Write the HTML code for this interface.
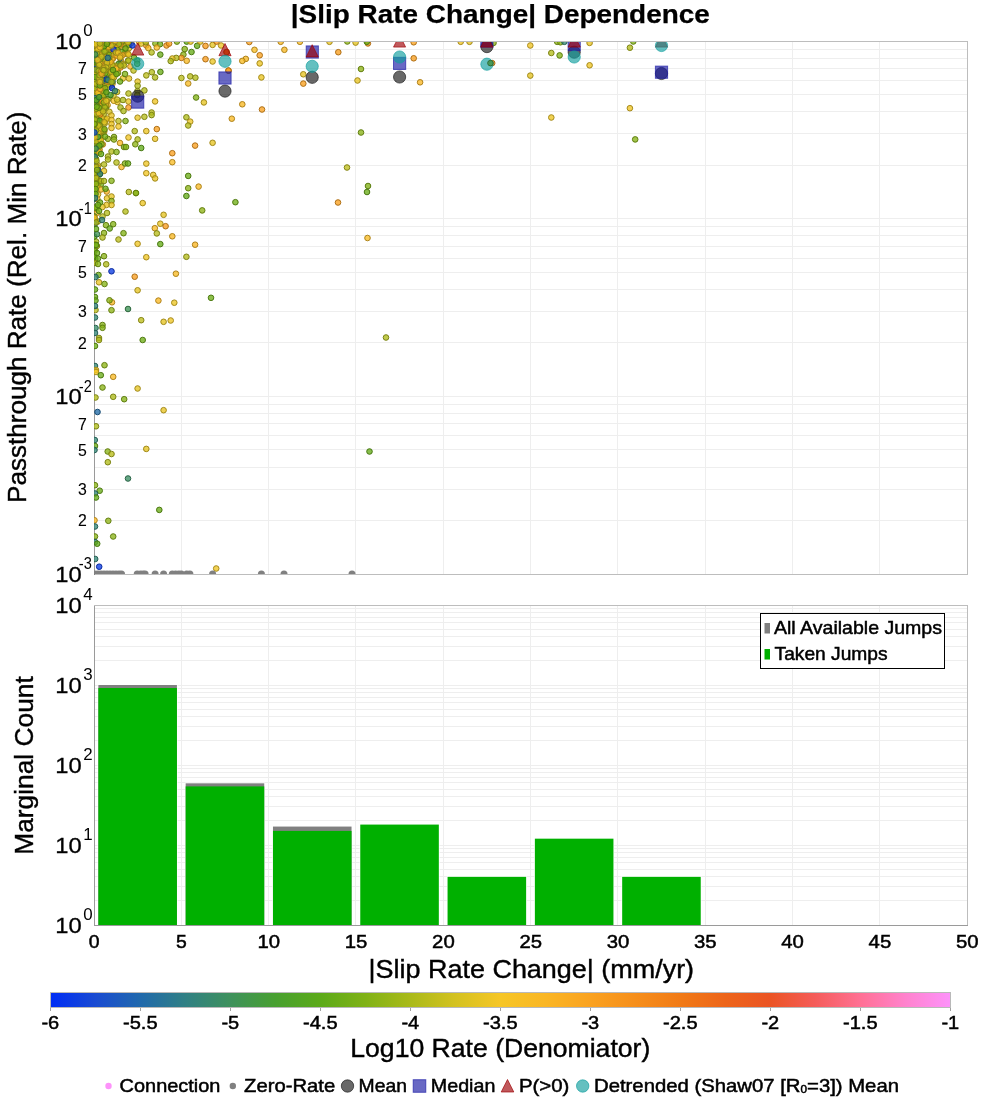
<!DOCTYPE html>
<html><head><meta charset="utf-8"><title>|Slip Rate Change| Dependence</title>
<style>html,body{margin:0;padding:0;background:#fff}svg{display:block;will-change:transform}text{font-family:"Liberation Sans", sans-serif;fill:#000;stroke:#000;stroke-width:0.4px}</style></head><body>
<svg width="1000" height="1100" viewBox="0 0 1000 1100">
<rect x="0" y="0" width="1000" height="1100" fill="#fff"/>
<path d="M181.5 41.5V574.5M181.5 605.5V925.5M268.5 41.5V574.5M268.5 605.5V925.5M355.5 41.5V574.5M355.5 605.5V925.5M443.5 41.5V574.5M443.5 605.5V925.5M530.5 41.5V574.5M530.5 605.5V925.5M617.5 41.5V574.5M617.5 605.5V925.5M705.5 41.5V574.5M705.5 605.5V925.5M792.5 41.5V574.5M792.5 605.5V925.5M879.5 41.5V574.5M879.5 605.5V925.5M94.5 218.5H967.5M94.5 165.5H967.5M94.5 133.5H967.5M94.5 111.5H967.5M94.5 94.5H967.5M94.5 80.5H967.5M94.5 68.5H967.5M94.5 58.5H967.5M94.5 49.5H967.5M94.5 396.5H967.5M94.5 342.5H967.5M94.5 311.5H967.5M94.5 289.5H967.5M94.5 272.5H967.5M94.5 258.5H967.5M94.5 246.5H967.5M94.5 235.5H967.5M94.5 226.5H967.5M94.5 520.5H967.5M94.5 489.5H967.5M94.5 467.5H967.5M94.5 449.5H967.5M94.5 435.5H967.5M94.5 423.5H967.5M94.5 413.5H967.5M94.5 404.5H967.5M94.5 900.5H967.5M94.5 886.5H967.5M94.5 876.5H967.5M94.5 869.5H967.5M94.5 862.5H967.5M94.5 857.5H967.5M94.5 852.5H967.5M94.5 848.5H967.5M94.5 845.5H967.5M94.5 820.5H967.5M94.5 806.5H967.5M94.5 796.5H967.5M94.5 789.5H967.5M94.5 782.5H967.5M94.5 777.5H967.5M94.5 772.5H967.5M94.5 768.5H967.5M94.5 765.5H967.5M94.5 740.5H967.5M94.5 726.5H967.5M94.5 716.5H967.5M94.5 709.5H967.5M94.5 702.5H967.5M94.5 697.5H967.5M94.5 692.5H967.5M94.5 688.5H967.5M94.5 685.5H967.5M94.5 660.5H967.5M94.5 646.5H967.5M94.5 636.5H967.5M94.5 629.5H967.5M94.5 622.5H967.5M94.5 617.5H967.5M94.5 612.5H967.5M94.5 608.5H967.5" stroke="#eeeeee" stroke-width="1" fill="none" shape-rendering="crispEdges"/>
<rect x="97.66" y="684.30" width="79.97" height="240.70" fill="#fff"/>
<rect x="98.36" y="685.00" width="78.57" height="240.00" fill="#808080"/>
<rect x="98.36" y="688.01" width="78.57" height="236.99" fill="#00b000"/>
<rect x="184.97" y="782.63" width="79.97" height="142.37" fill="#fff"/>
<rect x="185.67" y="783.33" width="78.57" height="141.67" fill="#808080"/>
<rect x="185.67" y="786.41" width="78.57" height="138.59" fill="#00b000"/>
<rect x="272.27" y="825.86" width="79.97" height="99.14" fill="#fff"/>
<rect x="272.97" y="826.56" width="78.57" height="98.44" fill="#808080"/>
<rect x="272.97" y="830.91" width="78.57" height="94.09" fill="#00b000"/>
<rect x="359.56" y="823.88" width="79.97" height="101.12" fill="#fff"/>
<rect x="360.26" y="824.58" width="78.57" height="100.42" fill="#00b000"/>
<rect x="446.87" y="876.14" width="79.97" height="48.86" fill="#fff"/>
<rect x="447.56" y="876.84" width="78.57" height="48.16" fill="#00b000"/>
<rect x="534.16" y="837.97" width="79.97" height="87.03" fill="#fff"/>
<rect x="534.87" y="838.67" width="78.57" height="86.33" fill="#00b000"/>
<rect x="621.47" y="876.14" width="79.97" height="48.86" fill="#fff"/>
<rect x="622.17" y="876.84" width="78.57" height="48.16" fill="#00b000"/>
<rect x="94.5" y="41.5" width="873.0" height="533.0" fill="none" stroke="#bdbdbd" shape-rendering="crispEdges"/>
<path d="M94.5 41.5V574.5" stroke="#9a9a9a" fill="none" shape-rendering="crispEdges"/>
<defs><clipPath id="ct"><rect x="94" y="41" width="874" height="534"/></clipPath></defs>
<g clip-path="url(#ct)">
<circle cx="99.3" cy="116.2" r="2.8" fill="#439848" fill-opacity="0.78" stroke="#2f6a32"/>
<circle cx="122.6" cy="41.9" r="2.8" fill="#9db718" fill-opacity="0.78" stroke="#6e8011"/>
<circle cx="96.4" cy="59.1" r="2.8" fill="#8db517" fill-opacity="0.78" stroke="#637e10"/>
<circle cx="96.8" cy="76.5" r="2.8" fill="#97b618" fill-opacity="0.78" stroke="#6a8011"/>
<circle cx="98.9" cy="46.5" r="2.8" fill="#bdbe1c" fill-opacity="0.78" stroke="#858514"/>
<circle cx="102.6" cy="84.7" r="2.8" fill="#a6b919" fill-opacity="0.78" stroke="#748211"/>
<circle cx="98.9" cy="41.9" r="2.8" fill="#f8bd25" fill-opacity="0.78" stroke="#ae851a"/>
<circle cx="94.5" cy="157.2" r="2.8" fill="#53a623" fill-opacity="0.78" stroke="#3a7418"/>
<circle cx="97.5" cy="57.1" r="2.8" fill="#3c8e63" fill-opacity="0.78" stroke="#2a6345"/>
<circle cx="99.8" cy="59.1" r="2.8" fill="#f8981d" fill-opacity="0.78" stroke="#ae6b14"/>
<circle cx="98.6" cy="87.0" r="2.8" fill="#74af17" fill-opacity="0.78" stroke="#517b10"/>
<circle cx="96.0" cy="64.4" r="2.8" fill="#64ac18" fill-opacity="0.78" stroke="#467811"/>
<circle cx="131.3" cy="43.0" r="2.8" fill="#f8bd25" fill-opacity="0.78" stroke="#ae841a"/>
<circle cx="95.9" cy="53.5" r="2.8" fill="#b2bb1a" fill-opacity="0.78" stroke="#7c8312"/>
<circle cx="101.5" cy="46.4" r="2.8" fill="#f7c226" fill-opacity="0.78" stroke="#ad881a"/>
<circle cx="108.5" cy="98.9" r="2.8" fill="#9ab718" fill-opacity="0.78" stroke="#6c8011"/>
<circle cx="96.3" cy="76.4" r="2.8" fill="#f8bc25" fill-opacity="0.78" stroke="#ae841a"/>
<circle cx="95.7" cy="127.9" r="2.8" fill="#8ab417" fill-opacity="0.78" stroke="#617e10"/>
<circle cx="103.9" cy="60.5" r="2.8" fill="#ddc322" fill-opacity="0.78" stroke="#9b8918"/>
<circle cx="96.8" cy="43.0" r="2.8" fill="#449b40" fill-opacity="0.78" stroke="#306c2d"/>
<circle cx="120.8" cy="60.1" r="2.8" fill="#f7c326" fill-opacity="0.78" stroke="#ad891a"/>
<circle cx="94.4" cy="116.0" r="2.8" fill="#c6bf1e" fill-opacity="0.78" stroke="#8a8615"/>
<circle cx="97.9" cy="50.6" r="2.8" fill="#fab624" fill-opacity="0.78" stroke="#af7f19"/>
<circle cx="97.8" cy="50.8" r="2.8" fill="#76b017" fill-opacity="0.78" stroke="#537b10"/>
<circle cx="97.2" cy="149.3" r="2.8" fill="#73af17" fill-opacity="0.78" stroke="#517b10"/>
<circle cx="109.4" cy="62.3" r="2.8" fill="#f7c326" fill-opacity="0.78" stroke="#ad891a"/>
<circle cx="97.2" cy="99.7" r="2.8" fill="#e7c423" fill-opacity="0.78" stroke="#a28919"/>
<circle cx="96.6" cy="92.9" r="2.8" fill="#77b017" fill-opacity="0.78" stroke="#537b10"/>
<circle cx="97.3" cy="54.2" r="2.8" fill="#cbc01e" fill-opacity="0.78" stroke="#8e8715"/>
<circle cx="124.1" cy="41.8" r="2.8" fill="#e4c423" fill-opacity="0.78" stroke="#9f8918"/>
<circle cx="96.0" cy="66.9" r="2.8" fill="#a6b919" fill-opacity="0.78" stroke="#748211"/>
<circle cx="104.0" cy="44.0" r="2.8" fill="#f8bf25" fill-opacity="0.78" stroke="#ad861a"/>
<circle cx="111.6" cy="73.3" r="2.8" fill="#b0bb1a" fill-opacity="0.78" stroke="#7b8312"/>
<circle cx="96.9" cy="143.7" r="2.8" fill="#a9ba19" fill-opacity="0.78" stroke="#768211"/>
<circle cx="97.8" cy="58.7" r="2.8" fill="#a1b818" fill-opacity="0.78" stroke="#718111"/>
<circle cx="97.9" cy="64.2" r="2.8" fill="#f7c225" fill-opacity="0.78" stroke="#ad881a"/>
<circle cx="103.5" cy="63.9" r="2.8" fill="#c1be1d" fill-opacity="0.78" stroke="#878514"/>
<circle cx="119.1" cy="44.2" r="2.8" fill="#f7c025" fill-opacity="0.78" stroke="#ad871a"/>
<circle cx="106.7" cy="191.6" r="2.8" fill="#fab223" fill-opacity="0.78" stroke="#af7d19"/>
<circle cx="102.9" cy="88.3" r="2.8" fill="#74af17" fill-opacity="0.78" stroke="#517b10"/>
<circle cx="116.3" cy="50.5" r="2.8" fill="#f6c626" fill-opacity="0.78" stroke="#ac8b1b"/>
<circle cx="124.0" cy="44.4" r="2.8" fill="#afbb1a" fill-opacity="0.78" stroke="#7a8312"/>
<circle cx="97.5" cy="171.0" r="2.8" fill="#eac524" fill-opacity="0.78" stroke="#a48a19"/>
<circle cx="97.1" cy="65.4" r="2.8" fill="#81b216" fill-opacity="0.78" stroke="#5b7d0f"/>
<circle cx="103.5" cy="58.6" r="2.8" fill="#fab824" fill-opacity="0.78" stroke="#af8119"/>
<circle cx="95.9" cy="56.9" r="2.8" fill="#dbc321" fill-opacity="0.78" stroke="#998817"/>
<circle cx="94.4" cy="172.5" r="2.8" fill="#94b617" fill-opacity="0.78" stroke="#687f10"/>
<circle cx="98.8" cy="89.3" r="2.8" fill="#faaa22" fill-opacity="0.78" stroke="#af7718"/>
<circle cx="120.7" cy="63.2" r="2.8" fill="#1a51cb" fill-opacity="0.78" stroke="#12398e"/>
<circle cx="99.8" cy="97.4" r="2.8" fill="#a5b919" fill-opacity="0.78" stroke="#748211"/>
<circle cx="99.8" cy="68.0" r="2.8" fill="#faac22" fill-opacity="0.78" stroke="#af7818"/>
<circle cx="100.8" cy="49.8" r="2.8" fill="#55a621" fill-opacity="0.78" stroke="#3b7517"/>
<circle cx="94.7" cy="110.8" r="2.8" fill="#49a12f" fill-opacity="0.78" stroke="#337021"/>
<circle cx="95.8" cy="87.0" r="2.8" fill="#70af17" fill-opacity="0.78" stroke="#4f7a10"/>
<circle cx="94.5" cy="113.7" r="2.8" fill="#9bb718" fill-opacity="0.78" stroke="#6c8011"/>
<circle cx="99.8" cy="87.8" r="2.8" fill="#d2c220" fill-opacity="0.78" stroke="#938716"/>
<circle cx="97.4" cy="53.0" r="2.8" fill="#b5bc1b" fill-opacity="0.78" stroke="#7f8413"/>
<circle cx="94.6" cy="156.7" r="2.8" fill="#99b718" fill-opacity="0.78" stroke="#6b8011"/>
<circle cx="94.6" cy="197.1" r="2.8" fill="#a6b919" fill-opacity="0.78" stroke="#748211"/>
<circle cx="117.5" cy="102.1" r="2.8" fill="#ecc524" fill-opacity="0.78" stroke="#a68a19"/>
<circle cx="100.5" cy="59.1" r="2.8" fill="#57a71f" fill-opacity="0.78" stroke="#3d7516"/>
<circle cx="98.3" cy="114.2" r="2.8" fill="#b8bd1b" fill-opacity="0.78" stroke="#818413"/>
<circle cx="97.8" cy="42.3" r="2.8" fill="#bebe1c" fill-opacity="0.78" stroke="#858514"/>
<circle cx="96.8" cy="48.7" r="2.8" fill="#dcc321" fill-opacity="0.78" stroke="#9a8817"/>
<circle cx="113.2" cy="41.1" r="2.8" fill="#56a720" fill-opacity="0.78" stroke="#3c7517"/>
<circle cx="97.0" cy="128.1" r="2.8" fill="#f6c426" fill-opacity="0.78" stroke="#ac891a"/>
<circle cx="105.4" cy="91.9" r="2.8" fill="#faa721" fill-opacity="0.78" stroke="#af7517"/>
<circle cx="97.1" cy="99.0" r="2.8" fill="#53a524" fill-opacity="0.78" stroke="#3a7419"/>
<circle cx="96.3" cy="81.7" r="2.8" fill="#dec322" fill-opacity="0.78" stroke="#9c8918"/>
<circle cx="99.0" cy="134.9" r="2.8" fill="#77b017" fill-opacity="0.78" stroke="#537b10"/>
<circle cx="94.8" cy="139.4" r="2.8" fill="#85b316" fill-opacity="0.78" stroke="#5d7d10"/>
<circle cx="94.4" cy="116.6" r="2.8" fill="#5aa91b" fill-opacity="0.78" stroke="#3f7613"/>
<circle cx="95.3" cy="102.0" r="2.8" fill="#9fb818" fill-opacity="0.78" stroke="#6f8111"/>
<circle cx="102.1" cy="105.3" r="2.8" fill="#f4c626" fill-opacity="0.78" stroke="#aa8a1a"/>
<circle cx="105.6" cy="101.0" r="2.8" fill="#fab424" fill-opacity="0.78" stroke="#af7e19"/>
<circle cx="99.3" cy="146.0" r="2.8" fill="#4fa328" fill-opacity="0.78" stroke="#37721c"/>
<circle cx="106.3" cy="83.5" r="2.8" fill="#9ab718" fill-opacity="0.78" stroke="#6c8011"/>
<circle cx="114.0" cy="51.1" r="2.8" fill="#edc524" fill-opacity="0.78" stroke="#a68a1a"/>
<circle cx="95.4" cy="84.8" r="2.8" fill="#a3b919" fill-opacity="0.78" stroke="#728111"/>
<circle cx="96.1" cy="62.9" r="2.8" fill="#eec525" fill-opacity="0.78" stroke="#a78a1a"/>
<circle cx="97.7" cy="57.9" r="2.8" fill="#99b718" fill-opacity="0.78" stroke="#6b8011"/>
<circle cx="98.0" cy="99.1" r="2.8" fill="#73af17" fill-opacity="0.78" stroke="#507b10"/>
<circle cx="100.8" cy="57.0" r="2.8" fill="#d2c220" fill-opacity="0.78" stroke="#938816"/>
<circle cx="96.0" cy="56.4" r="2.8" fill="#dbc321" fill-opacity="0.78" stroke="#998817"/>
<circle cx="96.1" cy="53.8" r="2.8" fill="#4fa328" fill-opacity="0.78" stroke="#37721c"/>
<circle cx="94.9" cy="117.6" r="2.8" fill="#d0c11f" fill-opacity="0.78" stroke="#928716"/>
<circle cx="101.6" cy="46.9" r="2.8" fill="#e9c424" fill-opacity="0.78" stroke="#a38a19"/>
<circle cx="95.6" cy="137.1" r="2.8" fill="#d9c321" fill-opacity="0.78" stroke="#988817"/>
<circle cx="100.0" cy="94.2" r="2.8" fill="#ddc322" fill-opacity="0.78" stroke="#9b8918"/>
<circle cx="97.1" cy="132.8" r="2.8" fill="#9bb718" fill-opacity="0.78" stroke="#6d8011"/>
<circle cx="94.5" cy="58.2" r="2.8" fill="#a6b919" fill-opacity="0.78" stroke="#748211"/>
<circle cx="94.3" cy="187.2" r="2.8" fill="#6eae18" fill-opacity="0.78" stroke="#4d7a10"/>
<circle cx="107.6" cy="80.0" r="2.8" fill="#a5b919" fill-opacity="0.78" stroke="#748211"/>
<circle cx="94.8" cy="84.3" r="2.8" fill="#3c8f61" fill-opacity="0.78" stroke="#2a6444"/>
<circle cx="94.4" cy="41.9" r="2.8" fill="#3d905e" fill-opacity="0.78" stroke="#2b6542"/>
<circle cx="114.2" cy="41.8" r="2.8" fill="#5ba91a" fill-opacity="0.78" stroke="#407712"/>
<circle cx="97.9" cy="84.3" r="2.8" fill="#8ab417" fill-opacity="0.78" stroke="#607e10"/>
<circle cx="100.9" cy="41.2" r="2.8" fill="#96b618" fill-opacity="0.78" stroke="#697f10"/>
<circle cx="100.2" cy="99.1" r="2.8" fill="#e9c424" fill-opacity="0.78" stroke="#a38a19"/>
<circle cx="96.3" cy="153.6" r="2.8" fill="#d9c321" fill-opacity="0.78" stroke="#988817"/>
<circle cx="95.9" cy="104.9" r="2.8" fill="#b7bc1b" fill-opacity="0.78" stroke="#808413"/>
<circle cx="108.1" cy="59.0" r="2.8" fill="#dfc322" fill-opacity="0.78" stroke="#9c8918"/>
<circle cx="104.3" cy="97.9" r="2.8" fill="#55a721" fill-opacity="0.78" stroke="#3c7517"/>
<circle cx="100.6" cy="96.8" r="2.8" fill="#d8c221" fill-opacity="0.78" stroke="#978817"/>
<circle cx="96.9" cy="65.7" r="2.8" fill="#bfbe1d" fill-opacity="0.78" stroke="#868514"/>
<circle cx="104.9" cy="43.3" r="2.8" fill="#dfc322" fill-opacity="0.78" stroke="#9c8918"/>
<circle cx="104.3" cy="46.2" r="2.8" fill="#faaa22" fill-opacity="0.78" stroke="#af7718"/>
<circle cx="97.8" cy="128.3" r="2.8" fill="#88b317" fill-opacity="0.78" stroke="#5f7e10"/>
<circle cx="95.2" cy="71.5" r="2.8" fill="#9eb818" fill-opacity="0.78" stroke="#6e8111"/>
<circle cx="97.0" cy="64.6" r="2.8" fill="#9db818" fill-opacity="0.78" stroke="#6e8011"/>
<circle cx="98.8" cy="101.6" r="2.8" fill="#f9bb25" fill-opacity="0.78" stroke="#ae831a"/>
<circle cx="117.8" cy="48.0" r="2.8" fill="#f7c025" fill-opacity="0.78" stroke="#ad871a"/>
<circle cx="94.5" cy="69.4" r="2.8" fill="#0b3ae6" fill-opacity="0.78" stroke="#0829a1"/>
<circle cx="118.8" cy="63.7" r="2.8" fill="#59a81d" fill-opacity="0.78" stroke="#3e7614"/>
<circle cx="95.1" cy="72.0" r="2.8" fill="#ddc322" fill-opacity="0.78" stroke="#9b8917"/>
<circle cx="96.5" cy="41.1" r="2.8" fill="#1445da" fill-opacity="0.78" stroke="#0e3098"/>
<circle cx="95.1" cy="85.7" r="2.8" fill="#b8bd1b" fill-opacity="0.78" stroke="#818413"/>
<circle cx="101.2" cy="42.7" r="2.8" fill="#e2c422" fill-opacity="0.78" stroke="#9e8918"/>
<circle cx="94.5" cy="185.3" r="2.8" fill="#1b52c9" fill-opacity="0.78" stroke="#13398d"/>
<circle cx="95.3" cy="69.1" r="2.8" fill="#8bb417" fill-opacity="0.78" stroke="#627e10"/>
<circle cx="104.3" cy="83.0" r="2.8" fill="#9bb718" fill-opacity="0.78" stroke="#6d8011"/>
<circle cx="96.6" cy="171.0" r="2.8" fill="#6dae18" fill-opacity="0.78" stroke="#4c7a11"/>
<circle cx="95.8" cy="82.3" r="2.8" fill="#59a91c" fill-opacity="0.78" stroke="#3e7614"/>
<circle cx="94.2" cy="52.9" r="2.8" fill="#a3b919" fill-opacity="0.78" stroke="#728111"/>
<circle cx="112.1" cy="54.8" r="2.8" fill="#eec525" fill-opacity="0.78" stroke="#a78a1a"/>
<circle cx="94.6" cy="54.2" r="2.8" fill="#439847" fill-opacity="0.78" stroke="#2f6a32"/>
<circle cx="99.0" cy="110.1" r="2.8" fill="#d3c220" fill-opacity="0.78" stroke="#948816"/>
<circle cx="94.4" cy="217.9" r="2.8" fill="#a9ba19" fill-opacity="0.78" stroke="#768211"/>
<circle cx="101.2" cy="134.0" r="2.8" fill="#9fb818" fill-opacity="0.78" stroke="#6f8111"/>
<circle cx="103.4" cy="120.2" r="2.8" fill="#fab824" fill-opacity="0.78" stroke="#af8119"/>
<circle cx="94.3" cy="135.5" r="2.8" fill="#cdc11f" fill-opacity="0.78" stroke="#8f8716"/>
<circle cx="100.7" cy="50.8" r="2.8" fill="#c3bf1d" fill-opacity="0.78" stroke="#888614"/>
<circle cx="96.0" cy="83.3" r="2.8" fill="#e3c423" fill-opacity="0.78" stroke="#9f8918"/>
<circle cx="94.7" cy="45.7" r="2.8" fill="#5fab19" fill-opacity="0.78" stroke="#427711"/>
<circle cx="109.5" cy="49.3" r="2.8" fill="#f9bb25" fill-opacity="0.78" stroke="#ae831a"/>
<circle cx="95.4" cy="159.7" r="2.8" fill="#439945" fill-opacity="0.78" stroke="#2f6b30"/>
<circle cx="98.9" cy="44.8" r="2.8" fill="#5aa91b" fill-opacity="0.78" stroke="#3f7613"/>
<circle cx="109.1" cy="84.2" r="2.8" fill="#f9bc25" fill-opacity="0.78" stroke="#ae841a"/>
<circle cx="109.0" cy="43.4" r="2.8" fill="#8bb417" fill-opacity="0.78" stroke="#627e10"/>
<circle cx="96.3" cy="54.0" r="2.8" fill="#56a720" fill-opacity="0.78" stroke="#3c7516"/>
<circle cx="95.0" cy="244.4" r="2.8" fill="#89b417" fill-opacity="0.78" stroke="#607e10"/>
<circle cx="99.4" cy="108.3" r="2.8" fill="#c3bf1d" fill-opacity="0.78" stroke="#898614"/>
<circle cx="95.8" cy="93.2" r="2.8" fill="#1141de" fill-opacity="0.78" stroke="#0c2e9b"/>
<circle cx="95.4" cy="120.2" r="2.8" fill="#59a81d" fill-opacity="0.78" stroke="#3e7614"/>
<circle cx="98.2" cy="70.3" r="2.8" fill="#4aa12e" fill-opacity="0.78" stroke="#337120"/>
<circle cx="101.9" cy="87.6" r="2.8" fill="#b7bc1b" fill-opacity="0.78" stroke="#808413"/>
<circle cx="100.3" cy="69.7" r="2.8" fill="#f9b924" fill-opacity="0.78" stroke="#af8119"/>
<circle cx="94.5" cy="88.6" r="2.8" fill="#77b017" fill-opacity="0.78" stroke="#547b10"/>
<circle cx="113.5" cy="95.7" r="2.8" fill="#d9c321" fill-opacity="0.78" stroke="#988817"/>
<circle cx="101.0" cy="42.5" r="2.8" fill="#faad22" fill-opacity="0.78" stroke="#af7918"/>
<circle cx="99.4" cy="83.2" r="2.8" fill="#f6c526" fill-opacity="0.78" stroke="#ac8a1b"/>
<circle cx="103.1" cy="63.1" r="2.8" fill="#7eb116" fill-opacity="0.78" stroke="#587c10"/>
<circle cx="98.7" cy="134.5" r="2.8" fill="#8cb417" fill-opacity="0.78" stroke="#627e10"/>
<circle cx="97.8" cy="43.3" r="2.8" fill="#86b316" fill-opacity="0.78" stroke="#5e7d10"/>
<circle cx="106.0" cy="51.8" r="2.8" fill="#9cb718" fill-opacity="0.78" stroke="#6d8011"/>
<circle cx="101.5" cy="43.6" r="2.8" fill="#9eb818" fill-opacity="0.78" stroke="#6f8111"/>
<circle cx="100.7" cy="86.3" r="2.8" fill="#318181" fill-opacity="0.78" stroke="#225b5a"/>
<circle cx="107.9" cy="138.8" r="2.8" fill="#9bb718" fill-opacity="0.78" stroke="#6c8011"/>
<circle cx="94.9" cy="79.5" r="2.8" fill="#75af17" fill-opacity="0.78" stroke="#527b10"/>
<circle cx="99.0" cy="100.4" r="2.8" fill="#398b6b" fill-opacity="0.78" stroke="#28614b"/>
<circle cx="95.3" cy="123.0" r="2.8" fill="#b0bb1a" fill-opacity="0.78" stroke="#7b8312"/>
<circle cx="96.3" cy="52.8" r="2.8" fill="#67ac18" fill-opacity="0.78" stroke="#487911"/>
<circle cx="94.3" cy="63.4" r="2.8" fill="#3f9357" fill-opacity="0.78" stroke="#2c673d"/>
<circle cx="97.0" cy="58.5" r="2.8" fill="#79b017" fill-opacity="0.78" stroke="#547b10"/>
<circle cx="98.5" cy="53.9" r="2.8" fill="#a8ba19" fill-opacity="0.78" stroke="#758211"/>
<circle cx="104.9" cy="48.1" r="2.8" fill="#d1c11f" fill-opacity="0.78" stroke="#928716"/>
<circle cx="95.6" cy="97.8" r="2.8" fill="#56a720" fill-opacity="0.78" stroke="#3c7517"/>
<circle cx="103.6" cy="46.6" r="2.8" fill="#f0c525" fill-opacity="0.78" stroke="#a88a1a"/>
<circle cx="100.7" cy="65.3" r="2.8" fill="#1444da" fill-opacity="0.78" stroke="#0e3098"/>
<circle cx="117.7" cy="69.3" r="2.8" fill="#eac524" fill-opacity="0.78" stroke="#a48a19"/>
<circle cx="100.3" cy="42.0" r="2.8" fill="#f8bc25" fill-opacity="0.78" stroke="#ae841a"/>
<circle cx="101.2" cy="45.3" r="2.8" fill="#7eb216" fill-opacity="0.78" stroke="#597c0f"/>
<circle cx="97.8" cy="83.6" r="2.8" fill="#92b517" fill-opacity="0.78" stroke="#667f10"/>
<circle cx="95.7" cy="120.5" r="2.8" fill="#d7c220" fill-opacity="0.78" stroke="#968817"/>
<circle cx="94.3" cy="224.0" r="2.8" fill="#abba19" fill-opacity="0.78" stroke="#788212"/>
<circle cx="95.3" cy="47.1" r="2.8" fill="#469d39" fill-opacity="0.78" stroke="#316e28"/>
<circle cx="97.8" cy="148.3" r="2.8" fill="#e0c322" fill-opacity="0.78" stroke="#9d8918"/>
<circle cx="100.1" cy="67.4" r="2.8" fill="#81b216" fill-opacity="0.78" stroke="#5b7d0f"/>
<circle cx="95.3" cy="114.3" r="2.8" fill="#acba19" fill-opacity="0.78" stroke="#798312"/>
<circle cx="99.3" cy="51.5" r="2.8" fill="#b2bc1a" fill-opacity="0.78" stroke="#7d8312"/>
<circle cx="98.0" cy="52.2" r="2.8" fill="#c2bf1d" fill-opacity="0.78" stroke="#888514"/>
<circle cx="94.8" cy="131.8" r="2.8" fill="#69ad18" fill-opacity="0.78" stroke="#4a7911"/>
<circle cx="99.2" cy="72.6" r="2.8" fill="#86b316" fill-opacity="0.78" stroke="#5e7d10"/>
<circle cx="97.7" cy="74.5" r="2.8" fill="#4da32a" fill-opacity="0.78" stroke="#36721d"/>
<circle cx="95.3" cy="73.9" r="2.8" fill="#56a720" fill-opacity="0.78" stroke="#3c7517"/>
<circle cx="96.3" cy="53.2" r="2.8" fill="#faa420" fill-opacity="0.78" stroke="#af7217"/>
<circle cx="95.7" cy="146.5" r="2.8" fill="#4da32a" fill-opacity="0.78" stroke="#36721d"/>
<circle cx="97.6" cy="58.0" r="2.8" fill="#70ae17" fill-opacity="0.78" stroke="#4e7a10"/>
<circle cx="97.7" cy="56.7" r="2.8" fill="#b9bd1b" fill-opacity="0.78" stroke="#818413"/>
<circle cx="101.8" cy="67.3" r="2.8" fill="#a8ba19" fill-opacity="0.78" stroke="#758211"/>
<circle cx="95.6" cy="62.1" r="2.8" fill="#d7c221" fill-opacity="0.78" stroke="#978817"/>
<circle cx="98.9" cy="64.0" r="2.8" fill="#75b017" fill-opacity="0.78" stroke="#527b10"/>
<circle cx="94.6" cy="71.5" r="2.8" fill="#7ab117" fill-opacity="0.78" stroke="#557c10"/>
<circle cx="94.4" cy="58.0" r="2.8" fill="#eec525" fill-opacity="0.78" stroke="#a78a1a"/>
<circle cx="105.1" cy="59.2" r="2.8" fill="#edc524" fill-opacity="0.78" stroke="#a68a19"/>
<circle cx="94.9" cy="135.6" r="2.8" fill="#68ad18" fill-opacity="0.78" stroke="#497911"/>
<circle cx="98.1" cy="165.4" r="2.8" fill="#cfc11f" fill-opacity="0.78" stroke="#918716"/>
<circle cx="115.0" cy="65.7" r="2.8" fill="#cdc11f" fill-opacity="0.78" stroke="#8f8716"/>
<circle cx="98.0" cy="41.8" r="2.8" fill="#b7bc1b" fill-opacity="0.78" stroke="#808413"/>
<circle cx="98.7" cy="57.9" r="2.8" fill="#449943" fill-opacity="0.78" stroke="#2f6b2f"/>
<circle cx="94.4" cy="53.2" r="2.8" fill="#479f33" fill-opacity="0.78" stroke="#326f24"/>
<circle cx="96.8" cy="52.4" r="2.8" fill="#64ac18" fill-opacity="0.78" stroke="#467811"/>
<circle cx="94.4" cy="60.0" r="2.8" fill="#6eae17" fill-opacity="0.78" stroke="#4d7a10"/>
<circle cx="107.6" cy="105.2" r="2.8" fill="#f7c426" fill-opacity="0.78" stroke="#ad891a"/>
<circle cx="112.9" cy="58.5" r="2.8" fill="#c3bf1d" fill-opacity="0.78" stroke="#888614"/>
<circle cx="95.3" cy="65.0" r="2.8" fill="#409454" fill-opacity="0.78" stroke="#2d673b"/>
<circle cx="98.0" cy="147.4" r="2.8" fill="#f9ba24" fill-opacity="0.78" stroke="#ae821a"/>
<circle cx="101.7" cy="104.4" r="2.8" fill="#faaa22" fill-opacity="0.78" stroke="#af7717"/>
<circle cx="96.2" cy="48.9" r="2.8" fill="#57a81e" fill-opacity="0.78" stroke="#3d7515"/>
<circle cx="100.3" cy="72.8" r="2.8" fill="#8cb417" fill-opacity="0.78" stroke="#627e10"/>
<circle cx="95.4" cy="92.3" r="2.8" fill="#f7c225" fill-opacity="0.78" stroke="#ad881a"/>
<circle cx="100.0" cy="72.7" r="2.8" fill="#c9c01e" fill-opacity="0.78" stroke="#8d8615"/>
<circle cx="95.3" cy="78.0" r="2.8" fill="#58a81e" fill-opacity="0.78" stroke="#3e7615"/>
<circle cx="94.4" cy="171.1" r="2.8" fill="#fab624" fill-opacity="0.78" stroke="#af7f19"/>
<circle cx="97.7" cy="68.3" r="2.8" fill="#f8bf25" fill-opacity="0.78" stroke="#ad851a"/>
<circle cx="94.3" cy="147.4" r="2.8" fill="#f8bf25" fill-opacity="0.78" stroke="#ad851a"/>
<circle cx="98.7" cy="92.9" r="2.8" fill="#c9c01e" fill-opacity="0.78" stroke="#8d8615"/>
<circle cx="94.7" cy="140.1" r="2.8" fill="#3c8e62" fill-opacity="0.78" stroke="#2a6445"/>
<circle cx="96.2" cy="67.4" r="2.8" fill="#52a524" fill-opacity="0.78" stroke="#3a7419"/>
<circle cx="96.1" cy="94.9" r="2.8" fill="#49a02f" fill-opacity="0.78" stroke="#337021"/>
<circle cx="96.8" cy="110.2" r="2.8" fill="#62ab19" fill-opacity="0.78" stroke="#447811"/>
<circle cx="97.5" cy="139.0" r="2.8" fill="#ddc322" fill-opacity="0.78" stroke="#9a8917"/>
<circle cx="97.4" cy="91.8" r="2.8" fill="#f7c125" fill-opacity="0.78" stroke="#ad871a"/>
<circle cx="107.6" cy="64.9" r="2.8" fill="#409452" fill-opacity="0.78" stroke="#2d683a"/>
<circle cx="100.3" cy="69.3" r="2.8" fill="#f7c125" fill-opacity="0.78" stroke="#ad871a"/>
<circle cx="138.8" cy="41.4" r="2.8" fill="#f7c125" fill-opacity="0.78" stroke="#ad871a"/>
<circle cx="104.1" cy="51.8" r="2.8" fill="#faaf23" fill-opacity="0.78" stroke="#af7b18"/>
<circle cx="110.7" cy="85.5" r="2.8" fill="#aebb1a" fill-opacity="0.78" stroke="#7a8312"/>
<circle cx="96.7" cy="73.7" r="2.8" fill="#bcbd1c" fill-opacity="0.78" stroke="#848514"/>
<circle cx="94.7" cy="100.6" r="2.8" fill="#33837c" fill-opacity="0.78" stroke="#245c57"/>
<circle cx="95.4" cy="65.5" r="2.8" fill="#98b618" fill-opacity="0.78" stroke="#6a8011"/>
<circle cx="97.6" cy="79.3" r="2.8" fill="#72af17" fill-opacity="0.78" stroke="#4f7a10"/>
<circle cx="97.7" cy="126.4" r="2.8" fill="#a2b818" fill-opacity="0.78" stroke="#718111"/>
<circle cx="95.3" cy="158.6" r="2.8" fill="#e7c423" fill-opacity="0.78" stroke="#a28919"/>
<circle cx="94.4" cy="90.1" r="2.8" fill="#f0c525" fill-opacity="0.78" stroke="#a88a1a"/>
<circle cx="94.3" cy="49.1" r="2.8" fill="#9eb818" fill-opacity="0.78" stroke="#6e8111"/>
<circle cx="94.3" cy="51.4" r="2.8" fill="#e4c423" fill-opacity="0.78" stroke="#a08918"/>
<circle cx="97.8" cy="66.8" r="2.8" fill="#51a525" fill-opacity="0.78" stroke="#39731a"/>
<circle cx="95.6" cy="99.3" r="2.8" fill="#78b017" fill-opacity="0.78" stroke="#547b10"/>
<circle cx="98.7" cy="69.3" r="2.8" fill="#3c8e62" fill-opacity="0.78" stroke="#2a6445"/>
<circle cx="94.8" cy="58.0" r="2.8" fill="#85b316" fill-opacity="0.78" stroke="#5d7d10"/>
<circle cx="100.2" cy="67.9" r="2.8" fill="#8ab417" fill-opacity="0.78" stroke="#607e10"/>
<circle cx="103.5" cy="41.4" r="2.8" fill="#92b517" fill-opacity="0.78" stroke="#667f10"/>
<circle cx="94.9" cy="107.2" r="2.8" fill="#afbb1a" fill-opacity="0.78" stroke="#7b8312"/>
<circle cx="126.2" cy="41.4" r="2.8" fill="#f2c625" fill-opacity="0.78" stroke="#a98a1a"/>
<circle cx="106.1" cy="106.3" r="2.8" fill="#f7921b" fill-opacity="0.78" stroke="#ad6613"/>
<circle cx="94.4" cy="86.2" r="2.8" fill="#9ab718" fill-opacity="0.78" stroke="#6c8011"/>
<circle cx="95.4" cy="208.7" r="2.8" fill="#9fb818" fill-opacity="0.78" stroke="#6f8111"/>
<circle cx="96.0" cy="158.9" r="2.8" fill="#9cb718" fill-opacity="0.78" stroke="#6d8011"/>
<circle cx="97.2" cy="212.7" r="2.8" fill="#fab524" fill-opacity="0.78" stroke="#af7f19"/>
<circle cx="103.5" cy="43.5" r="2.8" fill="#faae22" fill-opacity="0.78" stroke="#af7a18"/>
<circle cx="99.8" cy="45.9" r="2.8" fill="#4ea329" fill-opacity="0.78" stroke="#37721c"/>
<circle cx="96.6" cy="111.3" r="2.8" fill="#3f9355" fill-opacity="0.78" stroke="#2c673c"/>
<circle cx="98.4" cy="69.0" r="2.8" fill="#57a81f" fill-opacity="0.78" stroke="#3d7515"/>
<circle cx="97.5" cy="47.9" r="2.8" fill="#73af17" fill-opacity="0.78" stroke="#507b10"/>
<circle cx="102.4" cy="97.7" r="2.8" fill="#faad22" fill-opacity="0.78" stroke="#af7918"/>
<circle cx="96.9" cy="207.4" r="2.8" fill="#b3bc1b" fill-opacity="0.78" stroke="#7e8313"/>
<circle cx="113.7" cy="74.3" r="2.8" fill="#b4bc1b" fill-opacity="0.78" stroke="#7e8413"/>
<circle cx="109.1" cy="69.0" r="2.8" fill="#dfc322" fill-opacity="0.78" stroke="#9c8918"/>
<circle cx="118.0" cy="72.9" r="2.8" fill="#a4b919" fill-opacity="0.78" stroke="#738111"/>
<circle cx="101.6" cy="109.6" r="2.8" fill="#f8981d" fill-opacity="0.78" stroke="#ae6a14"/>
<circle cx="112.2" cy="48.0" r="2.8" fill="#f99c1e" fill-opacity="0.78" stroke="#ae6d15"/>
<circle cx="94.4" cy="114.1" r="2.8" fill="#c0be1d" fill-opacity="0.78" stroke="#868514"/>
<circle cx="99.8" cy="137.2" r="2.8" fill="#c2bf1d" fill-opacity="0.78" stroke="#888514"/>
<circle cx="98.2" cy="108.3" r="2.8" fill="#63ac18" fill-opacity="0.78" stroke="#457811"/>
<circle cx="95.4" cy="43.2" r="2.8" fill="#f6c526" fill-opacity="0.78" stroke="#ac8a1a"/>
<circle cx="120.4" cy="45.4" r="2.8" fill="#f6c626" fill-opacity="0.78" stroke="#ac8a1b"/>
<circle cx="98.1" cy="61.2" r="2.8" fill="#3f9259" fill-opacity="0.78" stroke="#2c663f"/>
<circle cx="97.4" cy="117.0" r="2.8" fill="#c9c01e" fill-opacity="0.78" stroke="#8d8615"/>
<circle cx="105.9" cy="55.7" r="2.8" fill="#a9ba19" fill-opacity="0.78" stroke="#768211"/>
<circle cx="97.9" cy="45.3" r="2.8" fill="#dbc321" fill-opacity="0.78" stroke="#998817"/>
<circle cx="97.4" cy="153.0" r="2.8" fill="#cec11f" fill-opacity="0.78" stroke="#908716"/>
<circle cx="95.6" cy="42.7" r="2.8" fill="#eac524" fill-opacity="0.78" stroke="#a48a19"/>
<circle cx="95.8" cy="103.6" r="2.8" fill="#d5c220" fill-opacity="0.78" stroke="#958817"/>
<circle cx="99.0" cy="41.1" r="2.8" fill="#d1c11f" fill-opacity="0.78" stroke="#928716"/>
<circle cx="100.0" cy="46.8" r="2.8" fill="#a0b818" fill-opacity="0.78" stroke="#708111"/>
<circle cx="96.8" cy="91.5" r="2.8" fill="#e3c423" fill-opacity="0.78" stroke="#9f8918"/>
<circle cx="100.6" cy="61.7" r="2.8" fill="#edc524" fill-opacity="0.78" stroke="#a68a19"/>
<circle cx="96.3" cy="79.1" r="2.8" fill="#a5b919" fill-opacity="0.78" stroke="#738211"/>
<circle cx="99.6" cy="174.2" r="2.8" fill="#6aad18" fill-opacity="0.78" stroke="#4a7911"/>
<circle cx="105.9" cy="108.3" r="2.8" fill="#79b117" fill-opacity="0.78" stroke="#557c10"/>
<circle cx="124.8" cy="53.3" r="2.8" fill="#57a81e" fill-opacity="0.78" stroke="#3d7515"/>
<circle cx="120.8" cy="42.5" r="2.8" fill="#f7921b" fill-opacity="0.78" stroke="#ad6613"/>
<circle cx="101.1" cy="56.1" r="2.8" fill="#f9b824" fill-opacity="0.78" stroke="#af8119"/>
<circle cx="94.4" cy="93.2" r="2.8" fill="#b8bd1b" fill-opacity="0.78" stroke="#818413"/>
<circle cx="97.0" cy="66.1" r="2.8" fill="#f3c625" fill-opacity="0.78" stroke="#aa8a1a"/>
<circle cx="96.2" cy="90.5" r="2.8" fill="#6eae17" fill-opacity="0.78" stroke="#4d7a10"/>
<circle cx="97.8" cy="41.2" r="2.8" fill="#7ab116" fill-opacity="0.78" stroke="#567c10"/>
<circle cx="99.6" cy="45.2" r="2.8" fill="#b4bc1b" fill-opacity="0.78" stroke="#7e8413"/>
<circle cx="94.7" cy="148.9" r="2.8" fill="#f9bb25" fill-opacity="0.78" stroke="#ae831a"/>
<circle cx="94.9" cy="83.1" r="2.8" fill="#76b017" fill-opacity="0.78" stroke="#527b10"/>
<circle cx="107.5" cy="55.5" r="2.8" fill="#b3bc1b" fill-opacity="0.78" stroke="#7d8313"/>
<circle cx="107.0" cy="101.2" r="2.8" fill="#f0c525" fill-opacity="0.78" stroke="#a88a1a"/>
<circle cx="94.4" cy="109.6" r="2.8" fill="#68ad18" fill-opacity="0.78" stroke="#497911"/>
<circle cx="94.5" cy="52.1" r="2.8" fill="#a1b818" fill-opacity="0.78" stroke="#718111"/>
<circle cx="99.4" cy="123.3" r="2.8" fill="#f8bf25" fill-opacity="0.78" stroke="#ad861a"/>
<circle cx="112.6" cy="65.4" r="2.8" fill="#c0be1d" fill-opacity="0.78" stroke="#868514"/>
<circle cx="113.6" cy="45.1" r="2.8" fill="#faa420" fill-opacity="0.78" stroke="#af7317"/>
<circle cx="96.6" cy="102.4" r="2.8" fill="#e4c423" fill-opacity="0.78" stroke="#9f8918"/>
<circle cx="96.8" cy="44.8" r="2.8" fill="#fab824" fill-opacity="0.78" stroke="#af8119"/>
<circle cx="98.0" cy="53.6" r="2.8" fill="#c4bf1d" fill-opacity="0.78" stroke="#898615"/>
<circle cx="96.2" cy="98.6" r="2.8" fill="#d2c220" fill-opacity="0.78" stroke="#938816"/>
<circle cx="95.4" cy="98.8" r="2.8" fill="#9fb818" fill-opacity="0.78" stroke="#708111"/>
<circle cx="94.8" cy="71.6" r="2.8" fill="#9fb818" fill-opacity="0.78" stroke="#6f8111"/>
<circle cx="99.5" cy="92.1" r="2.8" fill="#faad22" fill-opacity="0.78" stroke="#af7918"/>
<circle cx="97.4" cy="88.8" r="2.8" fill="#dec322" fill-opacity="0.78" stroke="#9b8918"/>
<circle cx="96.2" cy="142.2" r="2.8" fill="#5aa91b" fill-opacity="0.78" stroke="#3f7613"/>
<circle cx="129.1" cy="48.1" r="2.8" fill="#dbc321" fill-opacity="0.78" stroke="#998817"/>
<circle cx="94.3" cy="68.3" r="2.8" fill="#71af17" fill-opacity="0.78" stroke="#4f7a10"/>
<circle cx="95.1" cy="47.2" r="2.8" fill="#54a622" fill-opacity="0.78" stroke="#3b7418"/>
<circle cx="98.2" cy="184.0" r="2.8" fill="#f7c326" fill-opacity="0.78" stroke="#ad891a"/>
<circle cx="98.5" cy="68.4" r="2.8" fill="#62ab18" fill-opacity="0.78" stroke="#457811"/>
<circle cx="94.8" cy="75.8" r="2.8" fill="#49a02f" fill-opacity="0.78" stroke="#337021"/>
<circle cx="95.0" cy="69.3" r="2.8" fill="#cfc11f" fill-opacity="0.78" stroke="#918716"/>
<circle cx="96.4" cy="142.0" r="2.8" fill="#67ad18" fill-opacity="0.78" stroke="#487911"/>
<circle cx="95.7" cy="84.9" r="2.8" fill="#c3bf1d" fill-opacity="0.78" stroke="#898614"/>
<circle cx="104.0" cy="50.6" r="2.8" fill="#74af17" fill-opacity="0.78" stroke="#517b10"/>
<circle cx="95.8" cy="46.8" r="2.8" fill="#e9c524" fill-opacity="0.78" stroke="#a38a19"/>
<circle cx="96.5" cy="89.4" r="2.8" fill="#b4bc1b" fill-opacity="0.78" stroke="#7e8413"/>
<circle cx="130.4" cy="66.5" r="2.8" fill="#fab023" fill-opacity="0.78" stroke="#af7b18"/>
<circle cx="103.4" cy="132.1" r="2.8" fill="#f8bd25" fill-opacity="0.78" stroke="#ae841a"/>
<circle cx="96.3" cy="73.8" r="2.8" fill="#a7b919" fill-opacity="0.78" stroke="#758211"/>
<circle cx="94.5" cy="181.3" r="2.8" fill="#68ad18" fill-opacity="0.78" stroke="#497911"/>
<circle cx="96.5" cy="47.9" r="2.8" fill="#97b618" fill-opacity="0.78" stroke="#698011"/>
<circle cx="96.6" cy="51.8" r="2.8" fill="#3c8e63" fill-opacity="0.78" stroke="#2a6445"/>
<circle cx="94.9" cy="72.2" r="2.8" fill="#7eb216" fill-opacity="0.78" stroke="#587c10"/>
<circle cx="97.5" cy="116.7" r="2.8" fill="#88b317" fill-opacity="0.78" stroke="#5f7e10"/>
<circle cx="95.1" cy="46.1" r="2.8" fill="#49a12e" fill-opacity="0.78" stroke="#337021"/>
<circle cx="96.4" cy="120.4" r="2.8" fill="#f8bf25" fill-opacity="0.78" stroke="#ad861a"/>
<circle cx="123.1" cy="64.1" r="2.8" fill="#dec322" fill-opacity="0.78" stroke="#9b8918"/>
<circle cx="95.4" cy="42.0" r="2.8" fill="#4ca22b" fill-opacity="0.78" stroke="#35711e"/>
<circle cx="97.2" cy="142.6" r="2.8" fill="#3d905e" fill-opacity="0.78" stroke="#2b6542"/>
<circle cx="96.7" cy="100.2" r="2.8" fill="#9db818" fill-opacity="0.78" stroke="#6e8011"/>
<circle cx="101.2" cy="46.9" r="2.8" fill="#d0c11f" fill-opacity="0.78" stroke="#918716"/>
<circle cx="95.8" cy="144.1" r="2.8" fill="#79b017" fill-opacity="0.78" stroke="#547b10"/>
<circle cx="94.8" cy="89.6" r="2.8" fill="#59a91c" fill-opacity="0.78" stroke="#3e7614"/>
<circle cx="94.2" cy="216.4" r="2.8" fill="#6bad18" fill-opacity="0.78" stroke="#4b7911"/>
<circle cx="99.3" cy="43.5" r="2.8" fill="#cfc11f" fill-opacity="0.78" stroke="#918716"/>
<circle cx="102.8" cy="41.4" r="2.8" fill="#d2c220" fill-opacity="0.78" stroke="#938816"/>
<circle cx="101.1" cy="84.4" r="2.8" fill="#d9c321" fill-opacity="0.78" stroke="#988817"/>
<circle cx="96.2" cy="64.0" r="2.8" fill="#f7c125" fill-opacity="0.78" stroke="#ad871a"/>
<circle cx="108.4" cy="43.7" r="2.8" fill="#aebb1a" fill-opacity="0.78" stroke="#7a8312"/>
<circle cx="94.8" cy="68.4" r="2.8" fill="#c9c01e" fill-opacity="0.78" stroke="#8d8615"/>
<circle cx="95.6" cy="77.7" r="2.8" fill="#f6c526" fill-opacity="0.78" stroke="#ac8a1a"/>
<circle cx="102.6" cy="129.6" r="2.8" fill="#d9c321" fill-opacity="0.78" stroke="#988817"/>
<circle cx="94.4" cy="66.8" r="2.8" fill="#2f7f86" fill-opacity="0.78" stroke="#21595e"/>
<circle cx="94.3" cy="105.8" r="2.8" fill="#67ac18" fill-opacity="0.78" stroke="#487911"/>
<circle cx="96.0" cy="41.8" r="2.8" fill="#f2c525" fill-opacity="0.78" stroke="#a98a1a"/>
<circle cx="96.0" cy="241.5" r="2.8" fill="#b0bb1a" fill-opacity="0.78" stroke="#7b8312"/>
<circle cx="96.8" cy="98.0" r="2.8" fill="#efc525" fill-opacity="0.78" stroke="#a78a1a"/>
<circle cx="96.2" cy="138.9" r="2.8" fill="#acba19" fill-opacity="0.78" stroke="#798212"/>
<circle cx="94.7" cy="166.6" r="2.8" fill="#236da6" fill-opacity="0.78" stroke="#184c74"/>
<circle cx="100.6" cy="79.3" r="2.8" fill="#66ac18" fill-opacity="0.78" stroke="#477911"/>
<circle cx="94.3" cy="222.7" r="2.8" fill="#56a71f" fill-opacity="0.78" stroke="#3c7516"/>
<circle cx="110.5" cy="47.3" r="2.8" fill="#f8981d" fill-opacity="0.78" stroke="#ae6a14"/>
<circle cx="96.6" cy="121.2" r="2.8" fill="#a6b919" fill-opacity="0.78" stroke="#748211"/>
<circle cx="95.3" cy="51.8" r="2.8" fill="#f8bf25" fill-opacity="0.78" stroke="#ad861a"/>
<circle cx="95.2" cy="258.9" r="2.8" fill="#5aa91b" fill-opacity="0.78" stroke="#3f7613"/>
<circle cx="94.9" cy="78.6" r="2.8" fill="#cfc11f" fill-opacity="0.78" stroke="#918716"/>
<circle cx="98.0" cy="89.6" r="2.8" fill="#95b617" fill-opacity="0.78" stroke="#687f10"/>
<circle cx="96.0" cy="67.6" r="2.8" fill="#90b517" fill-opacity="0.78" stroke="#657f10"/>
<circle cx="95.0" cy="118.5" r="2.8" fill="#f8bf25" fill-opacity="0.78" stroke="#ad861a"/>
<circle cx="95.7" cy="150.4" r="2.8" fill="#e3c423" fill-opacity="0.78" stroke="#9f8918"/>
<circle cx="108.9" cy="41.3" r="2.8" fill="#fab524" fill-opacity="0.78" stroke="#af7f19"/>
<circle cx="94.2" cy="140.1" r="2.8" fill="#398b6b" fill-opacity="0.78" stroke="#28614b"/>
<circle cx="98.9" cy="83.8" r="2.8" fill="#c4bf1d" fill-opacity="0.78" stroke="#898615"/>
<circle cx="94.6" cy="60.8" r="2.8" fill="#bdbe1c" fill-opacity="0.78" stroke="#848514"/>
<circle cx="96.6" cy="113.0" r="2.8" fill="#c3bf1d" fill-opacity="0.78" stroke="#898614"/>
<circle cx="103.4" cy="47.4" r="2.8" fill="#96b618" fill-opacity="0.78" stroke="#698010"/>
<circle cx="98.6" cy="83.2" r="2.8" fill="#50a427" fill-opacity="0.78" stroke="#38731b"/>
<circle cx="94.3" cy="90.2" r="2.8" fill="#cac01e" fill-opacity="0.78" stroke="#8e8615"/>
<circle cx="101.7" cy="73.0" r="2.8" fill="#e4c423" fill-opacity="0.78" stroke="#a08918"/>
<circle cx="97.4" cy="53.8" r="2.8" fill="#d4c220" fill-opacity="0.78" stroke="#958816"/>
<circle cx="94.9" cy="60.4" r="2.8" fill="#e1c422" fill-opacity="0.78" stroke="#9e8918"/>
<circle cx="98.3" cy="56.2" r="2.8" fill="#d6c220" fill-opacity="0.78" stroke="#968817"/>
<circle cx="99.3" cy="112.4" r="2.8" fill="#96b618" fill-opacity="0.78" stroke="#697f10"/>
<circle cx="95.5" cy="82.0" r="2.8" fill="#9ab718" fill-opacity="0.78" stroke="#6c8011"/>
<circle cx="94.7" cy="41.5" r="2.8" fill="#f9b924" fill-opacity="0.78" stroke="#af8119"/>
<circle cx="103.1" cy="43.6" r="2.8" fill="#f9b924" fill-opacity="0.78" stroke="#af8119"/>
<circle cx="97.6" cy="43.4" r="2.8" fill="#4da32a" fill-opacity="0.78" stroke="#36721d"/>
<circle cx="99.6" cy="149.7" r="2.8" fill="#f8bd25" fill-opacity="0.78" stroke="#ae841a"/>
<circle cx="94.5" cy="135.8" r="2.8" fill="#a9ba19" fill-opacity="0.78" stroke="#768211"/>
<circle cx="94.3" cy="173.8" r="2.8" fill="#c6bf1e" fill-opacity="0.78" stroke="#8b8615"/>
<circle cx="99.0" cy="181.3" r="2.8" fill="#f7c426" fill-opacity="0.78" stroke="#ad891a"/>
<circle cx="98.5" cy="113.5" r="2.8" fill="#d2c220" fill-opacity="0.78" stroke="#938816"/>
<circle cx="98.5" cy="66.2" r="2.8" fill="#f8be25" fill-opacity="0.78" stroke="#ae851a"/>
<circle cx="95.3" cy="50.1" r="2.8" fill="#73af17" fill-opacity="0.78" stroke="#507b10"/>
<circle cx="99.4" cy="42.8" r="2.8" fill="#bebe1c" fill-opacity="0.78" stroke="#858514"/>
<circle cx="107.7" cy="66.7" r="2.8" fill="#cec11f" fill-opacity="0.78" stroke="#908716"/>
<circle cx="98.6" cy="56.6" r="2.8" fill="#bcbd1c" fill-opacity="0.78" stroke="#838514"/>
<circle cx="111.2" cy="48.7" r="2.8" fill="#fab624" fill-opacity="0.78" stroke="#af7f19"/>
<circle cx="97.1" cy="43.3" r="2.8" fill="#5aa91b" fill-opacity="0.78" stroke="#3f7613"/>
<circle cx="122.1" cy="41.6" r="2.8" fill="#90b517" fill-opacity="0.78" stroke="#657f10"/>
<circle cx="94.6" cy="87.5" r="2.8" fill="#c5bf1e" fill-opacity="0.78" stroke="#8a8615"/>
<circle cx="100.8" cy="184.5" r="2.8" fill="#79b017" fill-opacity="0.78" stroke="#557b10"/>
<circle cx="94.9" cy="120.4" r="2.8" fill="#f7c125" fill-opacity="0.78" stroke="#ad871a"/>
<circle cx="103.8" cy="54.8" r="2.8" fill="#cfc11f" fill-opacity="0.78" stroke="#918716"/>
<circle cx="94.7" cy="125.3" r="2.8" fill="#dac321" fill-opacity="0.78" stroke="#998817"/>
<circle cx="96.7" cy="49.0" r="2.8" fill="#e1c422" fill-opacity="0.78" stroke="#9e8918"/>
<circle cx="110.7" cy="47.3" r="2.8" fill="#b4bc1b" fill-opacity="0.78" stroke="#7e8413"/>
<circle cx="106.4" cy="66.9" r="2.8" fill="#f3c625" fill-opacity="0.78" stroke="#aa8a1a"/>
<circle cx="100.3" cy="96.6" r="2.8" fill="#cbc01e" fill-opacity="0.78" stroke="#8e8715"/>
<circle cx="95.1" cy="79.1" r="2.8" fill="#faa220" fill-opacity="0.78" stroke="#af7116"/>
<circle cx="96.2" cy="151.4" r="2.8" fill="#75b017" fill-opacity="0.78" stroke="#527b10"/>
<circle cx="97.6" cy="167.1" r="2.8" fill="#e8c423" fill-opacity="0.78" stroke="#a28919"/>
<circle cx="97.7" cy="116.6" r="2.8" fill="#71af17" fill-opacity="0.78" stroke="#4f7a10"/>
<circle cx="113.1" cy="43.9" r="2.8" fill="#f8961c" fill-opacity="0.78" stroke="#ad6914"/>
<circle cx="103.3" cy="77.3" r="2.8" fill="#e6c423" fill-opacity="0.78" stroke="#a18919"/>
<circle cx="96.4" cy="132.9" r="2.8" fill="#faa320" fill-opacity="0.78" stroke="#af7216"/>
<circle cx="99.9" cy="99.9" r="2.8" fill="#c4bf1d" fill-opacity="0.78" stroke="#898614"/>
<circle cx="100.3" cy="106.7" r="2.8" fill="#f7c326" fill-opacity="0.78" stroke="#ad891a"/>
<circle cx="96.1" cy="49.8" r="2.8" fill="#dbc321" fill-opacity="0.78" stroke="#998817"/>
<circle cx="95.0" cy="207.5" r="2.8" fill="#7ab117" fill-opacity="0.78" stroke="#557c10"/>
<circle cx="94.8" cy="249.7" r="2.8" fill="#dbc321" fill-opacity="0.78" stroke="#998817"/>
<circle cx="95.6" cy="143.5" r="2.8" fill="#a3b918" fill-opacity="0.78" stroke="#728111"/>
<circle cx="95.5" cy="64.9" r="2.8" fill="#68ad18" fill-opacity="0.78" stroke="#487911"/>
<circle cx="96.0" cy="46.3" r="2.8" fill="#8cb417" fill-opacity="0.78" stroke="#627e10"/>
<circle cx="105.1" cy="120.3" r="2.8" fill="#f7c326" fill-opacity="0.78" stroke="#ad891a"/>
<circle cx="94.2" cy="179.3" r="2.8" fill="#41964f" fill-opacity="0.78" stroke="#2e6937"/>
<circle cx="100.2" cy="79.1" r="2.8" fill="#dac321" fill-opacity="0.78" stroke="#998817"/>
<circle cx="96.0" cy="120.7" r="2.8" fill="#a4b919" fill-opacity="0.78" stroke="#728111"/>
<circle cx="102.2" cy="89.2" r="2.8" fill="#fab023" fill-opacity="0.78" stroke="#af7b18"/>
<circle cx="105.7" cy="119.4" r="2.8" fill="#b9bd1b" fill-opacity="0.78" stroke="#818413"/>
<circle cx="105.9" cy="46.7" r="2.8" fill="#c1be1d" fill-opacity="0.78" stroke="#878514"/>
<circle cx="94.5" cy="90.6" r="2.8" fill="#c9c01e" fill-opacity="0.78" stroke="#8d8615"/>
<circle cx="94.6" cy="149.0" r="2.8" fill="#cac01e" fill-opacity="0.78" stroke="#8e8715"/>
<circle cx="94.6" cy="46.5" r="2.8" fill="#71af17" fill-opacity="0.78" stroke="#4f7a10"/>
<circle cx="96.1" cy="60.6" r="2.8" fill="#77b017" fill-opacity="0.78" stroke="#537b10"/>
<circle cx="102.0" cy="62.4" r="2.8" fill="#f9ba25" fill-opacity="0.78" stroke="#ae821a"/>
<circle cx="94.7" cy="55.7" r="2.8" fill="#86b316" fill-opacity="0.78" stroke="#5e7d10"/>
<circle cx="94.8" cy="43.1" r="2.8" fill="#cbc01e" fill-opacity="0.78" stroke="#8e8715"/>
<circle cx="96.4" cy="89.6" r="2.8" fill="#ccc01f" fill-opacity="0.78" stroke="#8f8715"/>
<circle cx="95.2" cy="79.4" r="2.8" fill="#f8bd25" fill-opacity="0.78" stroke="#ae841a"/>
<circle cx="102.0" cy="112.2" r="2.8" fill="#e9c524" fill-opacity="0.78" stroke="#a38a19"/>
<circle cx="97.2" cy="42.4" r="2.8" fill="#fab023" fill-opacity="0.78" stroke="#af7b18"/>
<circle cx="97.1" cy="49.8" r="2.8" fill="#b3bc1b" fill-opacity="0.78" stroke="#7d8313"/>
<circle cx="94.5" cy="53.7" r="2.8" fill="#e7c423" fill-opacity="0.78" stroke="#a28919"/>
<circle cx="107.4" cy="72.6" r="2.8" fill="#f9bb25" fill-opacity="0.78" stroke="#ae831a"/>
<circle cx="97.5" cy="70.4" r="2.8" fill="#e4c423" fill-opacity="0.78" stroke="#a08918"/>
<circle cx="95.2" cy="102.6" r="2.8" fill="#58a81e" fill-opacity="0.78" stroke="#3d7515"/>
<circle cx="96.5" cy="113.1" r="2.8" fill="#8eb517" fill-opacity="0.78" stroke="#637e10"/>
<circle cx="98.2" cy="94.4" r="2.8" fill="#d7c221" fill-opacity="0.78" stroke="#978817"/>
<circle cx="99.9" cy="92.7" r="2.8" fill="#dfc322" fill-opacity="0.78" stroke="#9c8918"/>
<circle cx="94.6" cy="125.3" r="2.8" fill="#f6c626" fill-opacity="0.78" stroke="#ac8a1b"/>
<circle cx="99.7" cy="43.2" r="2.8" fill="#dec322" fill-opacity="0.78" stroke="#9b8918"/>
<circle cx="100.0" cy="73.2" r="2.8" fill="#f6c526" fill-opacity="0.78" stroke="#ac8a1a"/>
<circle cx="100.1" cy="122.5" r="2.8" fill="#aaba19" fill-opacity="0.78" stroke="#778212"/>
<circle cx="94.6" cy="49.7" r="2.8" fill="#a6b919" fill-opacity="0.78" stroke="#748211"/>
<circle cx="98.9" cy="43.0" r="2.8" fill="#9db818" fill-opacity="0.78" stroke="#6e8011"/>
<circle cx="100.8" cy="111.0" r="2.8" fill="#b7bc1b" fill-opacity="0.78" stroke="#808413"/>
<circle cx="94.6" cy="111.7" r="2.8" fill="#f6c626" fill-opacity="0.78" stroke="#ac8b1b"/>
<circle cx="94.8" cy="156.8" r="2.8" fill="#358775" fill-opacity="0.78" stroke="#255e52"/>
<circle cx="102.2" cy="63.7" r="2.8" fill="#f9b924" fill-opacity="0.78" stroke="#ae8219"/>
<circle cx="95.4" cy="114.9" r="2.8" fill="#f9bb25" fill-opacity="0.78" stroke="#ae831a"/>
<circle cx="95.1" cy="117.3" r="2.8" fill="#1c58c1" fill-opacity="0.78" stroke="#143e87"/>
<circle cx="111.0" cy="48.2" r="2.8" fill="#f6c626" fill-opacity="0.78" stroke="#ac8b1b"/>
<circle cx="94.8" cy="198.9" r="2.8" fill="#3a8c68" fill-opacity="0.78" stroke="#286249"/>
<circle cx="95.7" cy="136.0" r="2.8" fill="#dbc321" fill-opacity="0.78" stroke="#9a8817"/>
<circle cx="102.4" cy="59.1" r="2.8" fill="#fab624" fill-opacity="0.78" stroke="#af8019"/>
<circle cx="96.6" cy="101.8" r="2.8" fill="#babd1c" fill-opacity="0.78" stroke="#828413"/>
<circle cx="95.4" cy="93.1" r="2.8" fill="#6aad18" fill-opacity="0.78" stroke="#4a7911"/>
<circle cx="95.5" cy="144.0" r="2.8" fill="#3f9356" fill-opacity="0.78" stroke="#2c673c"/>
<circle cx="104.7" cy="123.5" r="2.8" fill="#d6c220" fill-opacity="0.78" stroke="#968817"/>
<circle cx="96.6" cy="170.3" r="2.8" fill="#82b216" fill-opacity="0.78" stroke="#5b7d0f"/>
<circle cx="98.2" cy="57.7" r="2.8" fill="#e0c322" fill-opacity="0.78" stroke="#9d8918"/>
<circle cx="94.6" cy="143.8" r="2.8" fill="#a6b919" fill-opacity="0.78" stroke="#748211"/>
<circle cx="96.7" cy="81.0" r="2.8" fill="#c6bf1e" fill-opacity="0.78" stroke="#8b8615"/>
<circle cx="99.6" cy="64.2" r="2.8" fill="#e2c422" fill-opacity="0.78" stroke="#9e8918"/>
<circle cx="94.2" cy="94.0" r="2.8" fill="#b5bc1b" fill-opacity="0.78" stroke="#7f8413"/>
<circle cx="117.1" cy="91.9" r="2.8" fill="#cbc01e" fill-opacity="0.78" stroke="#8e8715"/>
<circle cx="105.9" cy="52.4" r="2.8" fill="#faa01f" fill-opacity="0.78" stroke="#af7016"/>
<circle cx="97.7" cy="98.3" r="2.8" fill="#b8bd1b" fill-opacity="0.78" stroke="#818413"/>
<circle cx="98.1" cy="172.5" r="2.8" fill="#d9c321" fill-opacity="0.78" stroke="#988817"/>
<circle cx="96.9" cy="134.0" r="2.8" fill="#cbc01e" fill-opacity="0.78" stroke="#8e8715"/>
<circle cx="94.7" cy="71.3" r="2.8" fill="#d3c220" fill-opacity="0.78" stroke="#948816"/>
<circle cx="95.9" cy="91.0" r="2.8" fill="#e6c423" fill-opacity="0.78" stroke="#a18919"/>
<circle cx="95.9" cy="50.5" r="2.8" fill="#98b718" fill-opacity="0.78" stroke="#6a8011"/>
<circle cx="94.3" cy="68.9" r="2.8" fill="#9ab718" fill-opacity="0.78" stroke="#6c8011"/>
<circle cx="97.1" cy="78.6" r="2.8" fill="#6dae18" fill-opacity="0.78" stroke="#4d7a10"/>
<circle cx="102.5" cy="48.3" r="2.8" fill="#c5bf1e" fill-opacity="0.78" stroke="#8a8615"/>
<circle cx="104.0" cy="50.2" r="2.8" fill="#e2c422" fill-opacity="0.78" stroke="#9e8918"/>
<circle cx="94.5" cy="130.4" r="2.8" fill="#cfc11f" fill-opacity="0.78" stroke="#918716"/>
<circle cx="95.7" cy="49.0" r="2.8" fill="#96b618" fill-opacity="0.78" stroke="#697f10"/>
<circle cx="103.7" cy="51.9" r="2.8" fill="#87b317" fill-opacity="0.78" stroke="#5f7e10"/>
<circle cx="107.2" cy="118.6" r="2.8" fill="#efc525" fill-opacity="0.78" stroke="#a78a1a"/>
<circle cx="94.2" cy="217.5" r="2.8" fill="#b6bc1b" fill-opacity="0.78" stroke="#7f8413"/>
<circle cx="94.2" cy="41.9" r="2.8" fill="#72af17" fill-opacity="0.78" stroke="#507a10"/>
<circle cx="97.6" cy="127.9" r="2.8" fill="#95b617" fill-opacity="0.78" stroke="#687f10"/>
<circle cx="95.1" cy="85.1" r="2.8" fill="#aaba19" fill-opacity="0.78" stroke="#778212"/>
<circle cx="100.3" cy="106.5" r="2.8" fill="#e7c423" fill-opacity="0.78" stroke="#a28919"/>
<circle cx="95.5" cy="124.6" r="2.8" fill="#76b017" fill-opacity="0.78" stroke="#537b10"/>
<circle cx="104.3" cy="65.0" r="2.8" fill="#abba19" fill-opacity="0.78" stroke="#788212"/>
<circle cx="94.7" cy="145.7" r="2.8" fill="#58a81e" fill-opacity="0.78" stroke="#3d7615"/>
<circle cx="96.5" cy="135.6" r="2.8" fill="#7ab117" fill-opacity="0.78" stroke="#557c10"/>
<circle cx="100.7" cy="78.9" r="2.8" fill="#d6c220" fill-opacity="0.78" stroke="#968817"/>
<circle cx="109.8" cy="62.7" r="2.8" fill="#62ab19" fill-opacity="0.78" stroke="#447811"/>
<circle cx="98.3" cy="122.4" r="2.8" fill="#f8bd25" fill-opacity="0.78" stroke="#ae841a"/>
<circle cx="112.5" cy="41.2" r="2.8" fill="#e6c423" fill-opacity="0.78" stroke="#a18919"/>
<circle cx="97.0" cy="97.1" r="2.8" fill="#aebb1a" fill-opacity="0.78" stroke="#798312"/>
<circle cx="94.8" cy="79.3" r="2.8" fill="#25709f" fill-opacity="0.78" stroke="#1a4f70"/>
<circle cx="94.6" cy="250.8" r="2.8" fill="#63ac18" fill-opacity="0.78" stroke="#457811"/>
<circle cx="94.2" cy="86.9" r="2.8" fill="#9bb718" fill-opacity="0.78" stroke="#6d8011"/>
<circle cx="99.0" cy="143.3" r="2.8" fill="#e4c423" fill-opacity="0.78" stroke="#9f8918"/>
<circle cx="94.6" cy="146.6" r="2.8" fill="#7cb116" fill-opacity="0.78" stroke="#577c10"/>
<circle cx="96.9" cy="51.9" r="2.8" fill="#fab624" fill-opacity="0.78" stroke="#af7f19"/>
<circle cx="102.0" cy="44.1" r="2.8" fill="#f6c426" fill-opacity="0.78" stroke="#ac8a1a"/>
<circle cx="100.9" cy="44.3" r="2.8" fill="#5baa1a" fill-opacity="0.78" stroke="#407712"/>
<circle cx="97.3" cy="51.0" r="2.8" fill="#97b618" fill-opacity="0.78" stroke="#6a8011"/>
<circle cx="97.5" cy="61.1" r="2.8" fill="#b1bb1a" fill-opacity="0.78" stroke="#7c8312"/>
<circle cx="94.3" cy="80.8" r="2.8" fill="#4da22a" fill-opacity="0.78" stroke="#36721e"/>
<circle cx="94.6" cy="194.2" r="2.8" fill="#efc525" fill-opacity="0.78" stroke="#a88a1a"/>
<circle cx="99.2" cy="47.0" r="2.8" fill="#d1c220" fill-opacity="0.78" stroke="#938716"/>
<circle cx="96.3" cy="55.0" r="2.8" fill="#f6c526" fill-opacity="0.78" stroke="#ac8a1b"/>
<circle cx="94.7" cy="145.1" r="2.8" fill="#91b517" fill-opacity="0.78" stroke="#667f10"/>
<circle cx="95.6" cy="71.3" r="2.8" fill="#2f7e87" fill-opacity="0.78" stroke="#21585f"/>
<circle cx="97.7" cy="84.0" r="2.8" fill="#66ac18" fill-opacity="0.78" stroke="#487911"/>
<circle cx="111.8" cy="43.2" r="2.8" fill="#8ab417" fill-opacity="0.78" stroke="#617e10"/>
<circle cx="98.4" cy="93.1" r="2.8" fill="#84b316" fill-opacity="0.78" stroke="#5d7d10"/>
<circle cx="98.8" cy="75.2" r="2.8" fill="#edc524" fill-opacity="0.78" stroke="#a68a19"/>
<circle cx="94.4" cy="128.8" r="2.8" fill="#6cae18" fill-opacity="0.78" stroke="#4c7911"/>
<circle cx="95.9" cy="101.3" r="2.8" fill="#d5c220" fill-opacity="0.78" stroke="#958817"/>
<circle cx="102.6" cy="100.8" r="2.8" fill="#91b517" fill-opacity="0.78" stroke="#667f10"/>
<circle cx="101.3" cy="138.1" r="2.8" fill="#ddc322" fill-opacity="0.78" stroke="#9b8918"/>
<circle cx="95.6" cy="139.8" r="2.8" fill="#bebe1c" fill-opacity="0.78" stroke="#858514"/>
<circle cx="95.1" cy="113.9" r="2.8" fill="#bfbe1d" fill-opacity="0.78" stroke="#868514"/>
<circle cx="99.0" cy="44.6" r="2.8" fill="#efc525" fill-opacity="0.78" stroke="#a88a1a"/>
<circle cx="96.3" cy="89.8" r="2.8" fill="#f1c525" fill-opacity="0.78" stroke="#a98a1a"/>
<circle cx="94.4" cy="61.7" r="2.8" fill="#f8bc25" fill-opacity="0.78" stroke="#ae841a"/>
<circle cx="94.7" cy="43.3" r="2.8" fill="#a4b919" fill-opacity="0.78" stroke="#738111"/>
<circle cx="94.8" cy="183.5" r="2.8" fill="#b7bd1b" fill-opacity="0.78" stroke="#808413"/>
<circle cx="98.4" cy="57.8" r="2.8" fill="#2e7d8a" fill-opacity="0.78" stroke="#205760"/>
<circle cx="100.0" cy="57.2" r="2.8" fill="#48a031" fill-opacity="0.78" stroke="#327022"/>
<circle cx="97.7" cy="66.5" r="2.8" fill="#479e37" fill-opacity="0.78" stroke="#316e26"/>
<circle cx="99.7" cy="70.0" r="2.8" fill="#dfc322" fill-opacity="0.78" stroke="#9c8918"/>
<circle cx="99.5" cy="127.0" r="2.8" fill="#dcc321" fill-opacity="0.78" stroke="#9a8817"/>
<circle cx="98.3" cy="57.7" r="2.8" fill="#93b617" fill-opacity="0.78" stroke="#677f10"/>
<circle cx="106.8" cy="79.0" r="2.8" fill="#9bb718" fill-opacity="0.78" stroke="#6d8011"/>
<circle cx="94.9" cy="76.6" r="2.8" fill="#bbbd1c" fill-opacity="0.78" stroke="#838514"/>
<circle cx="95.4" cy="88.0" r="2.8" fill="#3c8f61" fill-opacity="0.78" stroke="#2a6444"/>
<circle cx="96.5" cy="71.6" r="2.8" fill="#c3bf1d" fill-opacity="0.78" stroke="#898614"/>
<circle cx="94.6" cy="67.7" r="2.8" fill="#83b316" fill-opacity="0.78" stroke="#5c7d10"/>
<circle cx="115.3" cy="44.3" r="2.8" fill="#51a426" fill-opacity="0.78" stroke="#38731b"/>
<circle cx="94.2" cy="255.7" r="2.8" fill="#d8c221" fill-opacity="0.78" stroke="#978817"/>
<circle cx="94.9" cy="64.0" r="2.8" fill="#d7c221" fill-opacity="0.78" stroke="#968817"/>
<circle cx="96.9" cy="73.1" r="2.8" fill="#f8be25" fill-opacity="0.78" stroke="#ae851a"/>
<circle cx="103.7" cy="80.6" r="2.8" fill="#439846" fill-opacity="0.78" stroke="#2f6b31"/>
<circle cx="102.8" cy="144.4" r="2.8" fill="#faae22" fill-opacity="0.78" stroke="#af7a18"/>
<circle cx="96.2" cy="42.7" r="2.8" fill="#e1c422" fill-opacity="0.78" stroke="#9e8918"/>
<circle cx="95.9" cy="55.7" r="2.8" fill="#42974b" fill-opacity="0.78" stroke="#2e6a35"/>
<circle cx="98.6" cy="70.2" r="2.8" fill="#fab223" fill-opacity="0.78" stroke="#af7c19"/>
<circle cx="96.7" cy="50.8" r="2.8" fill="#dec322" fill-opacity="0.78" stroke="#9b8918"/>
<circle cx="94.8" cy="51.8" r="2.8" fill="#f7921b" fill-opacity="0.78" stroke="#ad6613"/>
<circle cx="98.2" cy="43.5" r="2.8" fill="#f3c625" fill-opacity="0.78" stroke="#aa8a1a"/>
<circle cx="97.8" cy="62.2" r="2.8" fill="#bfbe1c" fill-opacity="0.78" stroke="#858514"/>
<circle cx="94.7" cy="50.9" r="2.8" fill="#93b617" fill-opacity="0.78" stroke="#677f10"/>
<circle cx="94.9" cy="102.0" r="2.8" fill="#adbb1a" fill-opacity="0.78" stroke="#798312"/>
<circle cx="95.8" cy="67.2" r="2.8" fill="#85b316" fill-opacity="0.78" stroke="#5d7d10"/>
<circle cx="94.8" cy="83.1" r="2.8" fill="#bdbe1c" fill-opacity="0.78" stroke="#858514"/>
<circle cx="94.5" cy="223.5" r="2.8" fill="#99b718" fill-opacity="0.78" stroke="#6b8011"/>
<circle cx="96.3" cy="115.2" r="2.8" fill="#378870" fill-opacity="0.78" stroke="#265f4f"/>
<circle cx="113.0" cy="43.8" r="2.8" fill="#b8bd1b" fill-opacity="0.78" stroke="#818413"/>
<circle cx="96.6" cy="87.3" r="2.8" fill="#b9bd1b" fill-opacity="0.78" stroke="#818413"/>
<circle cx="107.5" cy="74.4" r="2.8" fill="#93b617" fill-opacity="0.78" stroke="#677f10"/>
<circle cx="119.8" cy="44.3" r="2.8" fill="#faae22" fill-opacity="0.78" stroke="#af7a18"/>
<circle cx="97.4" cy="94.1" r="2.8" fill="#f6c426" fill-opacity="0.78" stroke="#ad891a"/>
<circle cx="96.4" cy="129.8" r="2.8" fill="#abba19" fill-opacity="0.78" stroke="#788212"/>
<circle cx="94.4" cy="122.6" r="2.8" fill="#f8be25" fill-opacity="0.78" stroke="#ae851a"/>
<circle cx="113.8" cy="100.8" r="2.8" fill="#f6c526" fill-opacity="0.78" stroke="#ac8a1b"/>
<circle cx="94.9" cy="81.4" r="2.8" fill="#89b417" fill-opacity="0.78" stroke="#607e10"/>
<circle cx="103.3" cy="98.5" r="2.8" fill="#76b017" fill-opacity="0.78" stroke="#537b10"/>
<circle cx="95.7" cy="81.3" r="2.8" fill="#cbc01f" fill-opacity="0.78" stroke="#8e8715"/>
<circle cx="95.1" cy="111.4" r="2.8" fill="#f5c626" fill-opacity="0.78" stroke="#ab8a1a"/>
<circle cx="94.2" cy="79.7" r="2.8" fill="#51a525" fill-opacity="0.78" stroke="#39731a"/>
<circle cx="108.6" cy="86.8" r="2.8" fill="#b2bc1a" fill-opacity="0.78" stroke="#7d8312"/>
<circle cx="120.1" cy="57.6" r="2.8" fill="#368774" fill-opacity="0.78" stroke="#255e51"/>
<circle cx="95.8" cy="173.5" r="2.8" fill="#1040df" fill-opacity="0.78" stroke="#0b2d9c"/>
<circle cx="96.0" cy="98.8" r="2.8" fill="#5ba91b" fill-opacity="0.78" stroke="#3f7613"/>
<circle cx="108.8" cy="41.6" r="2.8" fill="#79b017" fill-opacity="0.78" stroke="#557b10"/>
<circle cx="105.9" cy="105.5" r="2.8" fill="#dac321" fill-opacity="0.78" stroke="#998817"/>
<circle cx="101.2" cy="129.7" r="2.8" fill="#f7c125" fill-opacity="0.78" stroke="#ad871a"/>
<circle cx="110.3" cy="71.3" r="2.8" fill="#fab624" fill-opacity="0.78" stroke="#af7f19"/>
<circle cx="94.8" cy="45.1" r="2.8" fill="#409453" fill-opacity="0.78" stroke="#2d683a"/>
<circle cx="95.1" cy="76.3" r="2.8" fill="#8eb517" fill-opacity="0.78" stroke="#647f10"/>
<circle cx="109.5" cy="67.1" r="2.8" fill="#acba19" fill-opacity="0.78" stroke="#798312"/>
<circle cx="96.0" cy="86.9" r="2.8" fill="#8bb417" fill-opacity="0.78" stroke="#617e10"/>
<circle cx="110.5" cy="66.7" r="2.8" fill="#e8c424" fill-opacity="0.78" stroke="#a38919"/>
<circle cx="95.1" cy="139.4" r="2.8" fill="#8eb517" fill-opacity="0.78" stroke="#637e10"/>
<circle cx="129.2" cy="41.8" r="2.8" fill="#a6b919" fill-opacity="0.78" stroke="#748211"/>
<circle cx="104.3" cy="131.5" r="2.8" fill="#e8c424" fill-opacity="0.78" stroke="#a28919"/>
<circle cx="96.2" cy="128.3" r="2.8" fill="#b9bd1b" fill-opacity="0.78" stroke="#818413"/>
<circle cx="105.0" cy="58.2" r="2.8" fill="#c3bf1d" fill-opacity="0.78" stroke="#888614"/>
<circle cx="95.0" cy="145.4" r="2.8" fill="#efc525" fill-opacity="0.78" stroke="#a78a1a"/>
<circle cx="96.8" cy="44.4" r="2.8" fill="#8fb517" fill-opacity="0.78" stroke="#647f10"/>
<circle cx="95.2" cy="148.8" r="2.8" fill="#56a720" fill-opacity="0.78" stroke="#3c7516"/>
<circle cx="95.6" cy="64.6" r="2.8" fill="#d9c321" fill-opacity="0.78" stroke="#988817"/>
<circle cx="94.9" cy="53.7" r="2.8" fill="#7ab116" fill-opacity="0.78" stroke="#557c10"/>
<circle cx="107.5" cy="52.6" r="2.8" fill="#d1c120" fill-opacity="0.78" stroke="#928716"/>
<circle cx="97.9" cy="221.5" r="2.8" fill="#c7bf1e" fill-opacity="0.78" stroke="#8b8615"/>
<circle cx="98.1" cy="91.1" r="2.8" fill="#58a81d" fill-opacity="0.78" stroke="#3e7615"/>
<circle cx="99.2" cy="147.1" r="2.8" fill="#e0c322" fill-opacity="0.78" stroke="#9d8918"/>
<circle cx="95.4" cy="57.6" r="2.8" fill="#3d905e" fill-opacity="0.78" stroke="#2b6542"/>
<circle cx="118.8" cy="44.1" r="2.8" fill="#9bb718" fill-opacity="0.78" stroke="#6d8011"/>
<circle cx="97.7" cy="137.9" r="2.8" fill="#afbb1a" fill-opacity="0.78" stroke="#7b8312"/>
<circle cx="107.6" cy="43.2" r="2.8" fill="#bcbd1c" fill-opacity="0.78" stroke="#848514"/>
<circle cx="95.1" cy="41.0" r="2.8" fill="#f9ba25" fill-opacity="0.78" stroke="#ae821a"/>
<circle cx="101.2" cy="86.7" r="2.8" fill="#cdc11f" fill-opacity="0.78" stroke="#908716"/>
<circle cx="99.3" cy="78.0" r="2.8" fill="#9eb818" fill-opacity="0.78" stroke="#6f8111"/>
<circle cx="96.9" cy="50.8" r="2.8" fill="#33837d" fill-opacity="0.78" stroke="#235c57"/>
<circle cx="96.0" cy="139.6" r="2.8" fill="#f6c426" fill-opacity="0.78" stroke="#ad891a"/>
<circle cx="108.8" cy="43.4" r="2.8" fill="#d4c220" fill-opacity="0.78" stroke="#958816"/>
<circle cx="97.7" cy="65.4" r="2.8" fill="#2d7b8c" fill-opacity="0.78" stroke="#1f5662"/>
<circle cx="95.6" cy="182.1" r="2.8" fill="#64ac18" fill-opacity="0.78" stroke="#467811"/>
<circle cx="96.4" cy="99.7" r="2.8" fill="#93b617" fill-opacity="0.78" stroke="#677f10"/>
<circle cx="94.2" cy="60.5" r="2.8" fill="#50a427" fill-opacity="0.78" stroke="#38731b"/>
<circle cx="94.6" cy="100.3" r="2.8" fill="#8db417" fill-opacity="0.78" stroke="#627e10"/>
<circle cx="98.4" cy="85.5" r="2.8" fill="#348579" fill-opacity="0.78" stroke="#245d55"/>
<circle cx="99.6" cy="108.3" r="2.8" fill="#85b316" fill-opacity="0.78" stroke="#5d7d10"/>
<circle cx="100.6" cy="98.9" r="2.8" fill="#ebc524" fill-opacity="0.78" stroke="#a48a19"/>
<circle cx="94.5" cy="140.7" r="2.8" fill="#8eb517" fill-opacity="0.78" stroke="#637e10"/>
<circle cx="116.3" cy="48.2" r="2.8" fill="#fab624" fill-opacity="0.78" stroke="#af7f19"/>
<circle cx="95.5" cy="106.3" r="2.8" fill="#abba19" fill-opacity="0.78" stroke="#788212"/>
<circle cx="105.2" cy="46.3" r="2.8" fill="#7eb116" fill-opacity="0.78" stroke="#587c10"/>
<circle cx="94.7" cy="93.5" r="2.8" fill="#4ca22b" fill-opacity="0.78" stroke="#35711e"/>
<circle cx="95.0" cy="51.4" r="2.8" fill="#e6c423" fill-opacity="0.78" stroke="#a18919"/>
<circle cx="96.4" cy="148.3" r="2.8" fill="#7fb216" fill-opacity="0.78" stroke="#597c0f"/>
<circle cx="95.4" cy="44.0" r="2.8" fill="#48a030" fill-opacity="0.78" stroke="#327022"/>
<circle cx="94.4" cy="77.5" r="2.8" fill="#9fb818" fill-opacity="0.78" stroke="#6f8111"/>
<circle cx="112.5" cy="83.7" r="2.8" fill="#f7c125" fill-opacity="0.78" stroke="#ad871a"/>
<circle cx="97.4" cy="82.9" r="2.8" fill="#faac22" fill-opacity="0.78" stroke="#af7918"/>
<circle cx="100.3" cy="50.6" r="2.8" fill="#479f34" fill-opacity="0.78" stroke="#326f24"/>
<circle cx="103.5" cy="41.3" r="2.8" fill="#f7c326" fill-opacity="0.78" stroke="#ad881a"/>
<circle cx="111.1" cy="43.5" r="2.8" fill="#9db718" fill-opacity="0.78" stroke="#6e8011"/>
<circle cx="95.0" cy="70.6" r="2.8" fill="#dac321" fill-opacity="0.78" stroke="#998817"/>
<circle cx="103.7" cy="114.2" r="2.8" fill="#bbbd1c" fill-opacity="0.78" stroke="#838413"/>
<circle cx="94.6" cy="65.2" r="2.8" fill="#87b316" fill-opacity="0.78" stroke="#5e7e10"/>
<circle cx="99.3" cy="70.3" r="2.8" fill="#72af17" fill-opacity="0.78" stroke="#507a10"/>
<circle cx="120.5" cy="67.5" r="2.8" fill="#faa01f" fill-opacity="0.78" stroke="#af7016"/>
<circle cx="106.8" cy="71.4" r="2.8" fill="#faaa22" fill-opacity="0.78" stroke="#af7717"/>
<circle cx="96.5" cy="178.5" r="2.8" fill="#e7c423" fill-opacity="0.78" stroke="#a28919"/>
<circle cx="109.9" cy="63.3" r="2.8" fill="#f8bd25" fill-opacity="0.78" stroke="#ae851a"/>
<circle cx="97.3" cy="198.8" r="2.8" fill="#fab724" fill-opacity="0.78" stroke="#af8019"/>
<circle cx="109.3" cy="53.1" r="2.8" fill="#bdbe1c" fill-opacity="0.78" stroke="#848514"/>
<circle cx="99.2" cy="77.2" r="2.8" fill="#83b316" fill-opacity="0.78" stroke="#5c7d10"/>
<circle cx="94.3" cy="54.5" r="2.8" fill="#dec322" fill-opacity="0.78" stroke="#9c8918"/>
<circle cx="98.3" cy="44.3" r="2.8" fill="#dac321" fill-opacity="0.78" stroke="#988817"/>
<circle cx="101.8" cy="62.8" r="2.8" fill="#f8bf25" fill-opacity="0.78" stroke="#ad861a"/>
<circle cx="94.4" cy="48.1" r="2.8" fill="#c4bf1d" fill-opacity="0.78" stroke="#898614"/>
<circle cx="99.6" cy="59.7" r="2.8" fill="#bcbd1c" fill-opacity="0.78" stroke="#848514"/>
<circle cx="96.4" cy="133.8" r="2.8" fill="#b8bd1b" fill-opacity="0.78" stroke="#818413"/>
<circle cx="107.0" cy="74.9" r="2.8" fill="#f4c626" fill-opacity="0.78" stroke="#ab8a1a"/>
<circle cx="124.8" cy="48.6" r="2.8" fill="#faa220" fill-opacity="0.78" stroke="#af7116"/>
<circle cx="102.3" cy="100.7" r="2.8" fill="#f7921b" fill-opacity="0.78" stroke="#ad6613"/>
<circle cx="117.4" cy="50.0" r="2.8" fill="#84b316" fill-opacity="0.78" stroke="#5d7d10"/>
<circle cx="110.0" cy="49.9" r="2.8" fill="#41964f" fill-opacity="0.78" stroke="#2e6937"/>
<circle cx="97.0" cy="119.1" r="2.8" fill="#82b216" fill-opacity="0.78" stroke="#5b7d10"/>
<circle cx="121.9" cy="52.0" r="2.8" fill="#6cae18" fill-opacity="0.78" stroke="#4c7911"/>
<circle cx="105.7" cy="56.2" r="2.8" fill="#97b618" fill-opacity="0.78" stroke="#6a8011"/>
<circle cx="94.5" cy="178.1" r="2.8" fill="#58a81e" fill-opacity="0.78" stroke="#3e7615"/>
<circle cx="107.9" cy="74.0" r="2.8" fill="#e9c424" fill-opacity="0.78" stroke="#a38919"/>
<circle cx="109.4" cy="54.7" r="2.8" fill="#c4bf1d" fill-opacity="0.78" stroke="#898615"/>
<circle cx="110.7" cy="56.0" r="2.8" fill="#f7c125" fill-opacity="0.78" stroke="#ad871a"/>
<circle cx="96.1" cy="118.3" r="2.8" fill="#6dae18" fill-opacity="0.78" stroke="#4c7a11"/>
<circle cx="97.0" cy="50.9" r="2.8" fill="#5caa19" fill-opacity="0.78" stroke="#407712"/>
<circle cx="95.3" cy="110.5" r="2.8" fill="#012ef4" fill-opacity="0.78" stroke="#0120ab"/>
<circle cx="97.3" cy="52.9" r="2.8" fill="#6fae17" fill-opacity="0.78" stroke="#4e7a10"/>
<circle cx="94.9" cy="220.5" r="2.8" fill="#bbbd1c" fill-opacity="0.78" stroke="#838413"/>
<circle cx="96.0" cy="105.2" r="2.8" fill="#5eab19" fill-opacity="0.78" stroke="#427711"/>
<circle cx="94.5" cy="56.9" r="2.8" fill="#c6bf1e" fill-opacity="0.78" stroke="#8b8615"/>
<circle cx="99.5" cy="48.6" r="2.8" fill="#93b617" fill-opacity="0.78" stroke="#677f10"/>
<circle cx="96.1" cy="78.0" r="2.8" fill="#7fb216" fill-opacity="0.78" stroke="#597c0f"/>
<circle cx="96.1" cy="41.0" r="2.8" fill="#eac524" fill-opacity="0.78" stroke="#a48a19"/>
<circle cx="95.9" cy="90.7" r="2.8" fill="#ebc524" fill-opacity="0.78" stroke="#a48a19"/>
<circle cx="97.3" cy="123.1" r="2.8" fill="#92b517" fill-opacity="0.78" stroke="#667f10"/>
<circle cx="122.9" cy="78.4" r="2.8" fill="#edc524" fill-opacity="0.78" stroke="#a68a19"/>
<circle cx="100.0" cy="68.0" r="2.8" fill="#fab323" fill-opacity="0.78" stroke="#af7d19"/>
<circle cx="95.4" cy="134.2" r="2.8" fill="#80b216" fill-opacity="0.78" stroke="#5a7d0f"/>
<circle cx="96.0" cy="59.3" r="2.8" fill="#3d8f60" fill-opacity="0.78" stroke="#2a6443"/>
<circle cx="98.3" cy="116.5" r="2.8" fill="#faae22" fill-opacity="0.78" stroke="#af7a18"/>
<circle cx="97.7" cy="96.6" r="2.8" fill="#439945" fill-opacity="0.78" stroke="#2f6b30"/>
<circle cx="96.6" cy="47.5" r="2.8" fill="#62ab19" fill-opacity="0.78" stroke="#447811"/>
<circle cx="96.8" cy="99.2" r="2.8" fill="#6fae17" fill-opacity="0.78" stroke="#4d7a10"/>
<circle cx="94.9" cy="74.8" r="2.8" fill="#8cb417" fill-opacity="0.78" stroke="#627e10"/>
<circle cx="96.9" cy="104.1" r="2.8" fill="#d8c321" fill-opacity="0.78" stroke="#988817"/>
<circle cx="94.4" cy="120.3" r="2.8" fill="#439946" fill-opacity="0.78" stroke="#2f6b31"/>
<circle cx="98.5" cy="47.1" r="2.8" fill="#98b718" fill-opacity="0.78" stroke="#6a8011"/>
<circle cx="95.2" cy="143.9" r="2.8" fill="#4da22b" fill-opacity="0.78" stroke="#36721e"/>
<circle cx="107.7" cy="81.7" r="2.8" fill="#faaf23" fill-opacity="0.78" stroke="#af7b18"/>
<circle cx="95.3" cy="148.3" r="2.8" fill="#c6bf1e" fill-opacity="0.78" stroke="#8b8615"/>
<circle cx="95.4" cy="79.1" r="2.8" fill="#63ab18" fill-opacity="0.78" stroke="#457811"/>
<circle cx="112.4" cy="65.3" r="2.8" fill="#babd1c" fill-opacity="0.78" stroke="#838413"/>
<circle cx="106.0" cy="46.1" r="2.8" fill="#e4c423" fill-opacity="0.78" stroke="#a08918"/>
<circle cx="99.1" cy="72.3" r="2.8" fill="#91b517" fill-opacity="0.78" stroke="#667f10"/>
<circle cx="95.5" cy="103.6" r="2.8" fill="#98b718" fill-opacity="0.78" stroke="#6a8011"/>
<circle cx="100.3" cy="46.7" r="2.8" fill="#78b017" fill-opacity="0.78" stroke="#547b10"/>
<circle cx="99.1" cy="142.4" r="2.8" fill="#8ab417" fill-opacity="0.78" stroke="#607e10"/>
<circle cx="105.0" cy="62.1" r="2.8" fill="#bebe1c" fill-opacity="0.78" stroke="#858514"/>
<circle cx="104.7" cy="107.2" r="2.8" fill="#a7b919" fill-opacity="0.78" stroke="#758211"/>
<circle cx="99.7" cy="59.6" r="2.8" fill="#fab524" fill-opacity="0.78" stroke="#af7f19"/>
<circle cx="95.9" cy="60.3" r="2.8" fill="#8db417" fill-opacity="0.78" stroke="#637e10"/>
<circle cx="101.7" cy="117.8" r="2.8" fill="#e4c423" fill-opacity="0.78" stroke="#a08918"/>
<circle cx="94.5" cy="48.1" r="2.8" fill="#5aa91b" fill-opacity="0.78" stroke="#3f7613"/>
<circle cx="99.8" cy="43.6" r="2.8" fill="#7bb116" fill-opacity="0.78" stroke="#567c10"/>
<circle cx="97.3" cy="53.1" r="2.8" fill="#dbc321" fill-opacity="0.78" stroke="#998817"/>
<circle cx="94.5" cy="42.2" r="2.8" fill="#75b017" fill-opacity="0.78" stroke="#527b10"/>
<circle cx="100.2" cy="44.5" r="2.8" fill="#eac524" fill-opacity="0.78" stroke="#a48a19"/>
<circle cx="94.4" cy="47.5" r="2.8" fill="#96b618" fill-opacity="0.78" stroke="#698010"/>
<circle cx="95.4" cy="95.9" r="2.8" fill="#b9bd1c" fill-opacity="0.78" stroke="#828413"/>
<circle cx="111.7" cy="55.3" r="2.8" fill="#2f7e87" fill-opacity="0.78" stroke="#21585f"/>
<circle cx="102.1" cy="73.0" r="2.8" fill="#b7bc1b" fill-opacity="0.78" stroke="#808413"/>
<circle cx="108.2" cy="53.1" r="2.8" fill="#faa521" fill-opacity="0.78" stroke="#af7317"/>
<circle cx="95.8" cy="114.9" r="2.8" fill="#89b417" fill-opacity="0.78" stroke="#607e10"/>
<circle cx="99.9" cy="66.3" r="2.8" fill="#439847" fill-opacity="0.78" stroke="#2f6b32"/>
<circle cx="111.6" cy="51.0" r="2.8" fill="#d7c220" fill-opacity="0.78" stroke="#968817"/>
<circle cx="94.7" cy="56.9" r="2.8" fill="#9cb718" fill-opacity="0.78" stroke="#6d8011"/>
<circle cx="94.8" cy="75.8" r="2.8" fill="#78b017" fill-opacity="0.78" stroke="#547b10"/>
<circle cx="108.9" cy="42.7" r="2.8" fill="#4fa328" fill-opacity="0.78" stroke="#37721c"/>
<circle cx="102.9" cy="46.4" r="2.8" fill="#a1b818" fill-opacity="0.78" stroke="#708111"/>
<circle cx="95.7" cy="96.6" r="2.8" fill="#e2c423" fill-opacity="0.78" stroke="#9e8918"/>
<circle cx="95.5" cy="117.6" r="2.8" fill="#c4bf1d" fill-opacity="0.78" stroke="#898615"/>
<circle cx="96.2" cy="43.2" r="2.8" fill="#f6c626" fill-opacity="0.78" stroke="#ac8b1b"/>
<circle cx="95.1" cy="117.6" r="2.8" fill="#91b517" fill-opacity="0.78" stroke="#667f10"/>
<circle cx="97.3" cy="128.1" r="2.8" fill="#e3c423" fill-opacity="0.78" stroke="#9f8918"/>
<circle cx="95.0" cy="68.5" r="2.8" fill="#cdc11f" fill-opacity="0.78" stroke="#908716"/>
<circle cx="103.4" cy="91.2" r="2.8" fill="#e6c423" fill-opacity="0.78" stroke="#a18919"/>
<circle cx="106.7" cy="42.1" r="2.8" fill="#fab824" fill-opacity="0.78" stroke="#af8019"/>
<circle cx="109.7" cy="45.8" r="2.8" fill="#f7c326" fill-opacity="0.78" stroke="#ad881a"/>
<circle cx="95.2" cy="127.7" r="2.8" fill="#a5b919" fill-opacity="0.78" stroke="#748211"/>
<circle cx="104.1" cy="130.3" r="2.8" fill="#b9bd1b" fill-opacity="0.78" stroke="#818413"/>
<circle cx="95.4" cy="169.4" r="2.8" fill="#479e35" fill-opacity="0.78" stroke="#326f25"/>
<circle cx="97.4" cy="54.5" r="2.8" fill="#a4b919" fill-opacity="0.78" stroke="#738111"/>
<circle cx="105.0" cy="136.6" r="2.8" fill="#78b017" fill-opacity="0.78" stroke="#547b10"/>
<circle cx="94.7" cy="173.4" r="2.8" fill="#fab724" fill-opacity="0.78" stroke="#af8019"/>
<circle cx="98.3" cy="80.6" r="2.8" fill="#1b55c5" fill-opacity="0.78" stroke="#133c8a"/>
<circle cx="100.5" cy="84.2" r="2.8" fill="#faa420" fill-opacity="0.78" stroke="#af7317"/>
<circle cx="96.9" cy="127.7" r="2.8" fill="#b8bd1b" fill-opacity="0.78" stroke="#818413"/>
<circle cx="97.0" cy="79.5" r="2.8" fill="#e0c322" fill-opacity="0.78" stroke="#9d8918"/>
<circle cx="105.2" cy="56.8" r="2.8" fill="#faa721" fill-opacity="0.78" stroke="#af7517"/>
<circle cx="96.4" cy="76.4" r="2.8" fill="#c7bf1e" fill-opacity="0.78" stroke="#8b8615"/>
<circle cx="108.7" cy="43.2" r="2.8" fill="#fab223" fill-opacity="0.78" stroke="#af7c19"/>
<circle cx="100.0" cy="114.5" r="2.8" fill="#f8971d" fill-opacity="0.78" stroke="#ad6a14"/>
<circle cx="104.4" cy="67.2" r="2.8" fill="#f7921b" fill-opacity="0.78" stroke="#ad6613"/>
<circle cx="95.4" cy="63.9" r="2.8" fill="#90b517" fill-opacity="0.78" stroke="#657f10"/>
<circle cx="98.5" cy="58.6" r="2.8" fill="#e8c423" fill-opacity="0.78" stroke="#a28919"/>
<circle cx="94.6" cy="73.3" r="2.8" fill="#89b417" fill-opacity="0.78" stroke="#607e10"/>
<circle cx="109.1" cy="81.2" r="2.8" fill="#d8c221" fill-opacity="0.78" stroke="#978817"/>
<circle cx="97.0" cy="43.7" r="2.8" fill="#54a622" fill-opacity="0.78" stroke="#3b7418"/>
<circle cx="97.7" cy="84.2" r="2.8" fill="#d9c321" fill-opacity="0.78" stroke="#988817"/>
<circle cx="111.0" cy="42.0" r="2.8" fill="#efc525" fill-opacity="0.78" stroke="#a78a1a"/>
<circle cx="94.3" cy="41.8" r="2.8" fill="#faa621" fill-opacity="0.78" stroke="#af7417"/>
<circle cx="108.2" cy="41.2" r="2.8" fill="#fab223" fill-opacity="0.78" stroke="#af7d19"/>
<circle cx="96.4" cy="78.0" r="2.8" fill="#85b316" fill-opacity="0.78" stroke="#5d7d10"/>
<circle cx="96.9" cy="110.1" r="2.8" fill="#f8c025" fill-opacity="0.78" stroke="#ad861a"/>
<circle cx="95.2" cy="112.5" r="2.8" fill="#79b117" fill-opacity="0.78" stroke="#557c10"/>
<circle cx="96.8" cy="49.0" r="2.8" fill="#68ad18" fill-opacity="0.78" stroke="#497911"/>
<circle cx="96.0" cy="123.7" r="2.8" fill="#5ba91b" fill-opacity="0.78" stroke="#3f7713"/>
<circle cx="96.4" cy="94.0" r="2.8" fill="#f7c025" fill-opacity="0.78" stroke="#ad871a"/>
<circle cx="98.8" cy="81.2" r="2.8" fill="#f7c025" fill-opacity="0.78" stroke="#ad871a"/>
<circle cx="96.6" cy="180.6" r="2.8" fill="#82b216" fill-opacity="0.78" stroke="#5b7d10"/>
<circle cx="97.9" cy="175.7" r="2.8" fill="#cac01e" fill-opacity="0.78" stroke="#8d8615"/>
<circle cx="98.1" cy="170.1" r="2.8" fill="#1b56c5" fill-opacity="0.78" stroke="#133c8a"/>
<circle cx="104.0" cy="102.4" r="2.8" fill="#94b617" fill-opacity="0.78" stroke="#687f10"/>
<circle cx="96.4" cy="71.2" r="2.8" fill="#bbbd1c" fill-opacity="0.78" stroke="#838413"/>
<circle cx="105.0" cy="88.2" r="2.8" fill="#95b617" fill-opacity="0.78" stroke="#687f10"/>
<circle cx="110.5" cy="95.1" r="2.8" fill="#48a030" fill-opacity="0.78" stroke="#337021"/>
<circle cx="95.3" cy="102.8" r="2.8" fill="#dcc321" fill-opacity="0.78" stroke="#9a8817"/>
<circle cx="95.8" cy="120.5" r="2.8" fill="#62ab18" fill-opacity="0.78" stroke="#457811"/>
<circle cx="94.3" cy="192.6" r="2.8" fill="#abba19" fill-opacity="0.78" stroke="#788212"/>
<circle cx="105.4" cy="73.3" r="2.8" fill="#64ac18" fill-opacity="0.78" stroke="#467811"/>
<circle cx="100.2" cy="61.2" r="2.8" fill="#9cb718" fill-opacity="0.78" stroke="#6d8011"/>
<circle cx="101.0" cy="61.8" r="2.8" fill="#d0c11f" fill-opacity="0.78" stroke="#928716"/>
<circle cx="98.8" cy="54.4" r="2.8" fill="#c6bf1e" fill-opacity="0.78" stroke="#8a8615"/>
<circle cx="96.4" cy="118.5" r="2.8" fill="#97b618" fill-opacity="0.78" stroke="#6a8011"/>
<circle cx="94.4" cy="108.3" r="2.8" fill="#abba19" fill-opacity="0.78" stroke="#788212"/>
<circle cx="113.1" cy="50.8" r="2.8" fill="#f7c125" fill-opacity="0.78" stroke="#ad871a"/>
<circle cx="94.2" cy="236.6" r="2.8" fill="#5daa19" fill-opacity="0.78" stroke="#417711"/>
<circle cx="99.6" cy="65.7" r="2.8" fill="#d5c220" fill-opacity="0.78" stroke="#958816"/>
<circle cx="95.1" cy="70.7" r="2.8" fill="#8fb517" fill-opacity="0.78" stroke="#647f10"/>
<circle cx="109.3" cy="54.9" r="2.8" fill="#7cb116" fill-opacity="0.78" stroke="#577c10"/>
<circle cx="97.5" cy="66.5" r="2.8" fill="#9cb718" fill-opacity="0.78" stroke="#6d8011"/>
<circle cx="94.6" cy="42.7" r="2.8" fill="#84b316" fill-opacity="0.78" stroke="#5d7d10"/>
<circle cx="106.9" cy="45.3" r="2.8" fill="#e8c423" fill-opacity="0.78" stroke="#a28919"/>
<circle cx="126.3" cy="54.0" r="2.8" fill="#dec322" fill-opacity="0.78" stroke="#9b8918"/>
<circle cx="98.1" cy="141.5" r="2.8" fill="#cec11f" fill-opacity="0.78" stroke="#908716"/>
<circle cx="101.4" cy="130.8" r="2.8" fill="#bdbe1c" fill-opacity="0.78" stroke="#848514"/>
<circle cx="111.9" cy="75.4" r="2.8" fill="#d4c220" fill-opacity="0.78" stroke="#948816"/>
<circle cx="108.1" cy="41.1" r="2.8" fill="#e7c423" fill-opacity="0.78" stroke="#a28919"/>
<circle cx="95.9" cy="168.0" r="2.8" fill="#b3bc1a" fill-opacity="0.78" stroke="#7d8313"/>
<circle cx="99.4" cy="92.8" r="2.8" fill="#c6bf1e" fill-opacity="0.78" stroke="#8b8615"/>
<circle cx="94.4" cy="42.0" r="2.8" fill="#c3bf1d" fill-opacity="0.78" stroke="#888514"/>
<circle cx="100.3" cy="48.7" r="2.8" fill="#90b517" fill-opacity="0.78" stroke="#657f10"/>
<circle cx="97.2" cy="136.0" r="2.8" fill="#70ae17" fill-opacity="0.78" stroke="#4e7a10"/>
<circle cx="117.1" cy="99.6" r="2.8" fill="#d2c220" fill-opacity="0.78" stroke="#938816"/>
<circle cx="96.8" cy="42.4" r="2.8" fill="#7bb116" fill-opacity="0.78" stroke="#567c10"/>
<circle cx="103.6" cy="46.9" r="2.8" fill="#a1b818" fill-opacity="0.78" stroke="#718111"/>
<circle cx="98.9" cy="138.9" r="2.8" fill="#b3bc1b" fill-opacity="0.78" stroke="#7d8313"/>
<circle cx="95.6" cy="137.5" r="2.8" fill="#a4b919" fill-opacity="0.78" stroke="#738111"/>
<circle cx="95.8" cy="108.1" r="2.8" fill="#adbb19" fill-opacity="0.78" stroke="#798312"/>
<circle cx="98.0" cy="67.0" r="2.8" fill="#c8c01e" fill-opacity="0.78" stroke="#8c8615"/>
<circle cx="96.4" cy="105.0" r="2.8" fill="#8eb517" fill-opacity="0.78" stroke="#637e10"/>
<circle cx="95.3" cy="102.6" r="2.8" fill="#80b216" fill-opacity="0.78" stroke="#5a7d0f"/>
<circle cx="113.2" cy="50.0" r="2.8" fill="#f7c225" fill-opacity="0.78" stroke="#ad871a"/>
<circle cx="96.2" cy="120.1" r="2.8" fill="#f7c025" fill-opacity="0.78" stroke="#ad861a"/>
<circle cx="110.1" cy="41.2" r="2.8" fill="#8db417" fill-opacity="0.78" stroke="#637e10"/>
<circle cx="95.2" cy="137.1" r="2.8" fill="#378871" fill-opacity="0.78" stroke="#265f4f"/>
<circle cx="95.4" cy="70.4" r="2.8" fill="#babd1c" fill-opacity="0.78" stroke="#828413"/>
<circle cx="94.3" cy="181.2" r="2.8" fill="#6cae18" fill-opacity="0.78" stroke="#4c7a11"/>
<circle cx="95.0" cy="147.9" r="2.8" fill="#b6bc1b" fill-opacity="0.78" stroke="#7f8413"/>
<circle cx="95.7" cy="64.3" r="2.8" fill="#f8be25" fill-opacity="0.78" stroke="#ae851a"/>
<circle cx="94.4" cy="67.5" r="2.8" fill="#dac321" fill-opacity="0.78" stroke="#998817"/>
<circle cx="103.0" cy="95.2" r="2.8" fill="#b4bc1b" fill-opacity="0.78" stroke="#7e8413"/>
<circle cx="96.0" cy="76.0" r="2.8" fill="#92b517" fill-opacity="0.78" stroke="#667f10"/>
<circle cx="96.4" cy="131.4" r="2.8" fill="#faaf23" fill-opacity="0.78" stroke="#af7b18"/>
<circle cx="97.0" cy="41.3" r="2.8" fill="#fab123" fill-opacity="0.78" stroke="#af7c18"/>
<circle cx="98.1" cy="77.4" r="2.8" fill="#dbc321" fill-opacity="0.78" stroke="#9a8817"/>
<circle cx="95.2" cy="58.4" r="2.8" fill="#7eb216" fill-opacity="0.78" stroke="#587c10"/>
<circle cx="98.1" cy="194.3" r="2.8" fill="#e7c423" fill-opacity="0.78" stroke="#a18919"/>
<circle cx="97.0" cy="42.1" r="2.8" fill="#3c8f61" fill-opacity="0.78" stroke="#2a6444"/>
<circle cx="96.1" cy="108.6" r="2.8" fill="#fab424" fill-opacity="0.78" stroke="#af7e19"/>
<circle cx="97.7" cy="59.0" r="2.8" fill="#62ab18" fill-opacity="0.78" stroke="#457811"/>
<circle cx="96.3" cy="190.1" r="2.8" fill="#cdc11f" fill-opacity="0.78" stroke="#908716"/>
<circle cx="94.7" cy="244.7" r="2.8" fill="#b6bc1b" fill-opacity="0.78" stroke="#808413"/>
<circle cx="122.5" cy="55.2" r="2.8" fill="#fab323" fill-opacity="0.78" stroke="#af7d19"/>
<circle cx="94.8" cy="50.7" r="2.8" fill="#50a427" fill-opacity="0.78" stroke="#38731b"/>
<circle cx="94.8" cy="57.1" r="2.8" fill="#64ac18" fill-opacity="0.78" stroke="#467811"/>
<circle cx="95.5" cy="73.8" r="2.8" fill="#d8c221" fill-opacity="0.78" stroke="#978817"/>
<circle cx="94.3" cy="256.4" r="2.8" fill="#5aa91b" fill-opacity="0.78" stroke="#3f7613"/>
<circle cx="95.2" cy="46.3" r="2.8" fill="#9bb718" fill-opacity="0.78" stroke="#6c8011"/>
<circle cx="106.3" cy="100.9" r="2.8" fill="#e4c423" fill-opacity="0.78" stroke="#a08918"/>
<circle cx="133.5" cy="70.5" r="2.8" fill="#bfbe1c" fill-opacity="0.78" stroke="#868514"/>
<circle cx="97.9" cy="89.8" r="2.8" fill="#afbb1a" fill-opacity="0.78" stroke="#7b8312"/>
<circle cx="99.0" cy="82.6" r="2.8" fill="#c8c01e" fill-opacity="0.78" stroke="#8c8615"/>
<circle cx="116.0" cy="68.4" r="2.8" fill="#faae22" fill-opacity="0.78" stroke="#af7a18"/>
<circle cx="96.1" cy="131.6" r="2.8" fill="#90b517" fill-opacity="0.78" stroke="#657f10"/>
<circle cx="101.5" cy="42.6" r="2.8" fill="#f99c1e" fill-opacity="0.78" stroke="#ae6d15"/>
<circle cx="99.9" cy="49.0" r="2.8" fill="#a5b919" fill-opacity="0.78" stroke="#748211"/>
<circle cx="112.4" cy="58.9" r="2.8" fill="#fab023" fill-opacity="0.78" stroke="#af7b18"/>
<circle cx="96.2" cy="100.3" r="2.8" fill="#bfbe1d" fill-opacity="0.78" stroke="#868514"/>
<circle cx="96.0" cy="141.2" r="2.8" fill="#bfbe1d" fill-opacity="0.78" stroke="#868514"/>
<circle cx="99.7" cy="120.7" r="2.8" fill="#56a720" fill-opacity="0.78" stroke="#3c7516"/>
<circle cx="108.5" cy="80.8" r="2.8" fill="#fab824" fill-opacity="0.78" stroke="#af8119"/>
<circle cx="95.0" cy="67.2" r="2.8" fill="#aebb1a" fill-opacity="0.78" stroke="#7a8312"/>
<circle cx="98.1" cy="41.2" r="2.8" fill="#f8bf25" fill-opacity="0.78" stroke="#ad861a"/>
<circle cx="100.7" cy="53.2" r="2.8" fill="#9fb818" fill-opacity="0.78" stroke="#6f8111"/>
<circle cx="96.2" cy="68.7" r="2.8" fill="#1a50cc" fill-opacity="0.78" stroke="#12388f"/>
<circle cx="100.3" cy="63.5" r="2.8" fill="#f9b924" fill-opacity="0.78" stroke="#af8119"/>
<circle cx="112.6" cy="81.6" r="2.8" fill="#3f9358" fill-opacity="0.78" stroke="#2c673d"/>
<circle cx="96.2" cy="57.3" r="2.8" fill="#75b017" fill-opacity="0.78" stroke="#527b10"/>
<circle cx="110.6" cy="61.9" r="2.8" fill="#f8bf25" fill-opacity="0.78" stroke="#ad861a"/>
<circle cx="104.4" cy="122.3" r="2.8" fill="#e0c322" fill-opacity="0.78" stroke="#9d8918"/>
<circle cx="100.8" cy="140.5" r="2.8" fill="#eec525" fill-opacity="0.78" stroke="#a78a1a"/>
<circle cx="96.3" cy="113.7" r="2.8" fill="#c2be1d" fill-opacity="0.78" stroke="#878514"/>
<circle cx="98.8" cy="75.6" r="2.8" fill="#f7c025" fill-opacity="0.78" stroke="#ad861a"/>
<circle cx="94.9" cy="135.8" r="2.8" fill="#a3b918" fill-opacity="0.78" stroke="#728111"/>
<circle cx="95.4" cy="82.2" r="2.8" fill="#c9c01e" fill-opacity="0.78" stroke="#8d8615"/>
<circle cx="101.5" cy="144.2" r="2.8" fill="#85b316" fill-opacity="0.78" stroke="#5d7d10"/>
<circle cx="127.9" cy="60.7" r="2.8" fill="#b7bc1b" fill-opacity="0.78" stroke="#808413"/>
<circle cx="128.0" cy="53.6" r="2.8" fill="#d6c220" fill-opacity="0.78" stroke="#968817"/>
<circle cx="94.9" cy="106.9" r="2.8" fill="#b9bd1b" fill-opacity="0.78" stroke="#818413"/>
<circle cx="101.7" cy="58.2" r="2.8" fill="#afbb1a" fill-opacity="0.78" stroke="#7b8312"/>
<circle cx="95.5" cy="129.4" r="2.8" fill="#e2c423" fill-opacity="0.78" stroke="#9e8918"/>
<circle cx="96.8" cy="132.1" r="2.8" fill="#a2b818" fill-opacity="0.78" stroke="#718111"/>
<circle cx="100.7" cy="58.6" r="2.8" fill="#faa521" fill-opacity="0.78" stroke="#af7417"/>
<circle cx="95.9" cy="47.2" r="2.8" fill="#f7c226" fill-opacity="0.78" stroke="#ad881a"/>
<circle cx="103.1" cy="59.1" r="2.8" fill="#cdc11f" fill-opacity="0.78" stroke="#8f8716"/>
<circle cx="100.8" cy="58.4" r="2.8" fill="#62ab18" fill-opacity="0.78" stroke="#457811"/>
<circle cx="99.1" cy="58.4" r="2.8" fill="#f99c1e" fill-opacity="0.78" stroke="#ae6d15"/>
<circle cx="105.2" cy="50.8" r="2.8" fill="#70ae17" fill-opacity="0.78" stroke="#4e7a10"/>
<circle cx="106.0" cy="50.4" r="2.8" fill="#b7bc1b" fill-opacity="0.78" stroke="#808413"/>
<circle cx="99.6" cy="88.9" r="2.8" fill="#79b017" fill-opacity="0.78" stroke="#557c10"/>
<circle cx="102.1" cy="42.2" r="2.8" fill="#ccc01f" fill-opacity="0.78" stroke="#8f8715"/>
<circle cx="94.9" cy="61.3" r="2.8" fill="#8db517" fill-opacity="0.78" stroke="#637e10"/>
<circle cx="95.5" cy="124.2" r="2.8" fill="#ddc322" fill-opacity="0.78" stroke="#9b8918"/>
<circle cx="94.4" cy="125.1" r="2.8" fill="#8bb417" fill-opacity="0.78" stroke="#617e10"/>
<circle cx="97.2" cy="51.0" r="2.8" fill="#a6b919" fill-opacity="0.78" stroke="#748211"/>
<circle cx="99.6" cy="127.3" r="2.8" fill="#fab824" fill-opacity="0.78" stroke="#af8119"/>
<circle cx="96.2" cy="107.8" r="2.8" fill="#75b017" fill-opacity="0.78" stroke="#527b10"/>
<circle cx="128.9" cy="44.7" r="2.8" fill="#80b216" fill-opacity="0.78" stroke="#5a7d0f"/>
<circle cx="94.5" cy="60.8" r="2.8" fill="#99b718" fill-opacity="0.78" stroke="#6b8011"/>
<circle cx="94.3" cy="62.4" r="2.8" fill="#48a031" fill-opacity="0.78" stroke="#327022"/>
<circle cx="101.6" cy="69.5" r="2.8" fill="#9cb718" fill-opacity="0.78" stroke="#6d8011"/>
<circle cx="97.1" cy="98.4" r="2.8" fill="#a8ba19" fill-opacity="0.78" stroke="#768211"/>
<circle cx="101.4" cy="54.9" r="2.8" fill="#f7c225" fill-opacity="0.78" stroke="#ad881a"/>
<circle cx="96.6" cy="50.0" r="2.8" fill="#b4bc1b" fill-opacity="0.78" stroke="#7e8413"/>
<circle cx="104.5" cy="51.5" r="2.8" fill="#a8ba19" fill-opacity="0.78" stroke="#768211"/>
<circle cx="96.4" cy="45.1" r="2.8" fill="#cac01e" fill-opacity="0.78" stroke="#8d8615"/>
<circle cx="105.6" cy="63.8" r="2.8" fill="#f7c225" fill-opacity="0.78" stroke="#ad871a"/>
<circle cx="97.7" cy="95.9" r="2.8" fill="#a9ba19" fill-opacity="0.78" stroke="#768211"/>
<circle cx="99.7" cy="125.5" r="2.8" fill="#98b718" fill-opacity="0.78" stroke="#6a8011"/>
<circle cx="98.7" cy="136.1" r="2.8" fill="#c2bf1d" fill-opacity="0.78" stroke="#888514"/>
<circle cx="95.9" cy="69.8" r="2.8" fill="#9cb718" fill-opacity="0.78" stroke="#6d8011"/>
<circle cx="94.3" cy="103.1" r="2.8" fill="#d8c221" fill-opacity="0.78" stroke="#978817"/>
<circle cx="109.2" cy="57.7" r="2.8" fill="#9eb818" fill-opacity="0.78" stroke="#6e8111"/>
<circle cx="113.5" cy="49.5" r="2.8" fill="#0a39e7" fill-opacity="0.78" stroke="#0728a2"/>
<circle cx="132.5" cy="45.5" r="2.8" fill="#0a39e7" fill-opacity="0.78" stroke="#0728a2"/>
<circle cx="106.5" cy="79.5" r="2.8" fill="#0a39e7" fill-opacity="0.78" stroke="#0728a2"/>
<circle cx="112.0" cy="88.0" r="2.8" fill="#0a39e7" fill-opacity="0.78" stroke="#0728a2"/>
<circle cx="95.9" cy="88.5" r="2.8" fill="#a8ba19" fill-opacity="0.78" stroke="#758211"/>
<circle cx="106.0" cy="64.7" r="2.8" fill="#f9ba24" fill-opacity="0.78" stroke="#ae821a"/>
<circle cx="101.5" cy="91.0" r="2.8" fill="#a7b919" fill-opacity="0.78" stroke="#758211"/>
<circle cx="107.1" cy="65.6" r="2.8" fill="#d4c220" fill-opacity="0.78" stroke="#958816"/>
<circle cx="97.3" cy="186.5" r="2.8" fill="#e2c422" fill-opacity="0.78" stroke="#9e8918"/>
<circle cx="97.9" cy="76.4" r="2.8" fill="#bbbd1c" fill-opacity="0.78" stroke="#838514"/>
<circle cx="107.5" cy="66.6" r="2.8" fill="#e6c423" fill-opacity="0.78" stroke="#a18919"/>
<circle cx="96.6" cy="54.9" r="2.8" fill="#9cb718" fill-opacity="0.78" stroke="#6d8011"/>
<circle cx="98.2" cy="59.8" r="2.8" fill="#33847b" fill-opacity="0.78" stroke="#245c56"/>
<circle cx="108.4" cy="46.9" r="2.8" fill="#f9ba24" fill-opacity="0.78" stroke="#ae821a"/>
<circle cx="114.6" cy="54.8" r="2.8" fill="#f4c626" fill-opacity="0.78" stroke="#ab8a1a"/>
<circle cx="96.4" cy="60.4" r="2.8" fill="#bcbd1c" fill-opacity="0.78" stroke="#848514"/>
<circle cx="116.5" cy="55.6" r="2.8" fill="#faac22" fill-opacity="0.78" stroke="#af7918"/>
<circle cx="100.1" cy="128.9" r="2.8" fill="#e3c423" fill-opacity="0.78" stroke="#9f8918"/>
<circle cx="102.7" cy="41.1" r="2.8" fill="#f5c626" fill-opacity="0.78" stroke="#ac8b1b"/>
<circle cx="95.6" cy="109.8" r="2.8" fill="#f9ba25" fill-opacity="0.78" stroke="#ae821a"/>
<circle cx="94.9" cy="55.6" r="2.8" fill="#a9ba19" fill-opacity="0.78" stroke="#768211"/>
<circle cx="99.4" cy="145.6" r="2.8" fill="#61ab19" fill-opacity="0.78" stroke="#447811"/>
<circle cx="111.4" cy="76.5" r="2.8" fill="#63ab18" fill-opacity="0.78" stroke="#457811"/>
<circle cx="99.6" cy="108.0" r="2.8" fill="#acba19" fill-opacity="0.78" stroke="#788212"/>
<circle cx="99.4" cy="75.6" r="2.8" fill="#c8c01e" fill-opacity="0.78" stroke="#8c8615"/>
<circle cx="94.2" cy="61.9" r="2.8" fill="#83b216" fill-opacity="0.78" stroke="#5b7d10"/>
<circle cx="104.0" cy="46.3" r="2.8" fill="#63ac18" fill-opacity="0.78" stroke="#467811"/>
<circle cx="98.8" cy="91.2" r="2.8" fill="#faa921" fill-opacity="0.78" stroke="#af7617"/>
<circle cx="99.8" cy="58.9" r="2.8" fill="#c2bf1d" fill-opacity="0.78" stroke="#888514"/>
<circle cx="96.8" cy="57.7" r="2.8" fill="#8bb417" fill-opacity="0.78" stroke="#617e10"/>
<circle cx="107.0" cy="62.9" r="2.8" fill="#d7c221" fill-opacity="0.78" stroke="#968817"/>
<circle cx="96.3" cy="42.2" r="2.8" fill="#b3bc1a" fill-opacity="0.78" stroke="#7d8313"/>
<circle cx="106.2" cy="67.5" r="2.8" fill="#bfbe1d" fill-opacity="0.78" stroke="#868514"/>
<circle cx="97.5" cy="84.6" r="2.8" fill="#479e36" fill-opacity="0.78" stroke="#316f26"/>
<circle cx="101.1" cy="43.6" r="2.8" fill="#84b316" fill-opacity="0.78" stroke="#5c7d10"/>
<circle cx="115.1" cy="41.0" r="2.8" fill="#f6c626" fill-opacity="0.78" stroke="#ac8a1b"/>
<circle cx="95.1" cy="82.2" r="2.8" fill="#d2c220" fill-opacity="0.78" stroke="#938816"/>
<circle cx="103.5" cy="68.4" r="2.8" fill="#e6c423" fill-opacity="0.78" stroke="#a18919"/>
<circle cx="94.9" cy="57.1" r="2.8" fill="#68ad18" fill-opacity="0.78" stroke="#497911"/>
<circle cx="99.1" cy="94.2" r="2.8" fill="#cdc11f" fill-opacity="0.78" stroke="#8f8716"/>
<circle cx="96.0" cy="42.4" r="2.8" fill="#91b517" fill-opacity="0.78" stroke="#667f10"/>
<circle cx="99.2" cy="152.2" r="2.8" fill="#f8bd25" fill-opacity="0.78" stroke="#ae851a"/>
<circle cx="97.5" cy="133.2" r="2.8" fill="#8db417" fill-opacity="0.78" stroke="#637e10"/>
<circle cx="116.0" cy="52.6" r="2.8" fill="#c4bf1d" fill-opacity="0.78" stroke="#898615"/>
<circle cx="111.0" cy="71.9" r="2.8" fill="#c6bf1e" fill-opacity="0.78" stroke="#8b8615"/>
<circle cx="94.3" cy="174.4" r="2.8" fill="#98b718" fill-opacity="0.78" stroke="#6a8011"/>
<circle cx="98.3" cy="132.8" r="2.8" fill="#f4c626" fill-opacity="0.78" stroke="#ab8a1a"/>
<circle cx="101.3" cy="72.2" r="2.8" fill="#75b017" fill-opacity="0.78" stroke="#527b10"/>
<circle cx="94.5" cy="217.7" r="2.8" fill="#f7c125" fill-opacity="0.78" stroke="#ad871a"/>
<circle cx="95.9" cy="50.6" r="2.8" fill="#aaba19" fill-opacity="0.78" stroke="#778211"/>
<circle cx="94.4" cy="132.1" r="2.8" fill="#6bad18" fill-opacity="0.78" stroke="#4b7911"/>
<circle cx="102.6" cy="43.4" r="2.8" fill="#d4c220" fill-opacity="0.78" stroke="#958816"/>
<circle cx="95.8" cy="41.0" r="2.8" fill="#d9c321" fill-opacity="0.78" stroke="#988817"/>
<circle cx="106.4" cy="92.3" r="2.8" fill="#58a81d" fill-opacity="0.78" stroke="#3e7614"/>
<circle cx="96.2" cy="61.4" r="2.8" fill="#93b617" fill-opacity="0.78" stroke="#677f10"/>
<circle cx="108.0" cy="79.9" r="2.8" fill="#3c8e63" fill-opacity="0.78" stroke="#2a6445"/>
<circle cx="98.8" cy="113.0" r="2.8" fill="#f0c525" fill-opacity="0.78" stroke="#a88a1a"/>
<circle cx="94.4" cy="95.8" r="2.8" fill="#99b718" fill-opacity="0.78" stroke="#6b8011"/>
<circle cx="107.7" cy="57.9" r="2.8" fill="#297794" fill-opacity="0.78" stroke="#1d5368"/>
<circle cx="105.8" cy="41.7" r="2.8" fill="#faab22" fill-opacity="0.78" stroke="#af7718"/>
<circle cx="94.6" cy="98.1" r="2.8" fill="#2a7793" fill-opacity="0.78" stroke="#1d5367"/>
<circle cx="96.2" cy="83.8" r="2.8" fill="#bdbe1c" fill-opacity="0.78" stroke="#858514"/>
<circle cx="96.0" cy="130.4" r="2.8" fill="#a4b919" fill-opacity="0.78" stroke="#738111"/>
<circle cx="97.8" cy="92.7" r="2.8" fill="#f7c025" fill-opacity="0.78" stroke="#ad871a"/>
<circle cx="118.2" cy="52.8" r="2.8" fill="#f1c525" fill-opacity="0.78" stroke="#a98a1a"/>
<circle cx="109.4" cy="111.8" r="2.8" fill="#d6c220" fill-opacity="0.78" stroke="#968817"/>
<circle cx="98.7" cy="82.0" r="2.8" fill="#aebb1a" fill-opacity="0.78" stroke="#7a8312"/>
<circle cx="103.7" cy="42.4" r="2.8" fill="#a5b919" fill-opacity="0.78" stroke="#748211"/>
<circle cx="98.4" cy="125.6" r="2.8" fill="#cac01e" fill-opacity="0.78" stroke="#8d8615"/>
<circle cx="94.7" cy="223.9" r="2.8" fill="#297696" fill-opacity="0.78" stroke="#1d5269"/>
<circle cx="96.7" cy="54.4" r="2.8" fill="#e8c424" fill-opacity="0.78" stroke="#a28919"/>
<circle cx="94.8" cy="124.0" r="2.8" fill="#97b618" fill-opacity="0.78" stroke="#698011"/>
<circle cx="96.6" cy="57.0" r="2.8" fill="#cdc11f" fill-opacity="0.78" stroke="#8f8716"/>
<circle cx="96.9" cy="246.0" r="2.8" fill="#acba19" fill-opacity="0.78" stroke="#798212"/>
<circle cx="100.5" cy="79.4" r="2.8" fill="#b7bd1b" fill-opacity="0.78" stroke="#808413"/>
<circle cx="96.8" cy="43.4" r="2.8" fill="#b9bd1b" fill-opacity="0.78" stroke="#818413"/>
<circle cx="105.8" cy="41.6" r="2.8" fill="#f7c125" fill-opacity="0.78" stroke="#ad871a"/>
<circle cx="111.4" cy="45.4" r="2.8" fill="#d6c220" fill-opacity="0.78" stroke="#968817"/>
<circle cx="96.3" cy="60.4" r="2.8" fill="#4aa12e" fill-opacity="0.78" stroke="#347120"/>
<circle cx="99.2" cy="64.9" r="2.8" fill="#cbc01e" fill-opacity="0.78" stroke="#8e8715"/>
<circle cx="105.1" cy="70.4" r="2.8" fill="#c5bf1e" fill-opacity="0.78" stroke="#8a8615"/>
<circle cx="97.9" cy="49.4" r="2.8" fill="#f1c525" fill-opacity="0.78" stroke="#a98a1a"/>
<circle cx="95.8" cy="44.3" r="2.8" fill="#e8c423" fill-opacity="0.78" stroke="#a28919"/>
<circle cx="96.3" cy="108.8" r="2.8" fill="#a7b919" fill-opacity="0.78" stroke="#758211"/>
<circle cx="100.2" cy="89.0" r="2.8" fill="#fab524" fill-opacity="0.78" stroke="#af7f19"/>
<circle cx="120.4" cy="56.0" r="2.8" fill="#f7c426" fill-opacity="0.78" stroke="#ad891a"/>
<circle cx="97.2" cy="58.8" r="2.8" fill="#aaba19" fill-opacity="0.78" stroke="#778212"/>
<circle cx="97.9" cy="136.8" r="2.8" fill="#4aa12d" fill-opacity="0.78" stroke="#347120"/>
<circle cx="104.5" cy="129.2" r="2.8" fill="#88b317" fill-opacity="0.78" stroke="#5f7e10"/>
<circle cx="114.1" cy="77.2" r="2.8" fill="#d3c220" fill-opacity="0.78" stroke="#948816"/>
<circle cx="95.9" cy="58.2" r="2.8" fill="#469d37" fill-opacity="0.78" stroke="#316e27"/>
<circle cx="103.0" cy="111.4" r="2.8" fill="#c8c01e" fill-opacity="0.78" stroke="#8c8615"/>
<circle cx="95.3" cy="77.1" r="2.8" fill="#6eae18" fill-opacity="0.78" stroke="#4d7a10"/>
<circle cx="100.5" cy="75.0" r="2.8" fill="#58a81e" fill-opacity="0.78" stroke="#3e7615"/>
<circle cx="95.6" cy="181.4" r="2.8" fill="#95b618" fill-opacity="0.78" stroke="#687f10"/>
<circle cx="98.7" cy="70.8" r="2.8" fill="#b2bb1a" fill-opacity="0.78" stroke="#7c8312"/>
<circle cx="94.9" cy="119.6" r="2.8" fill="#93b617" fill-opacity="0.78" stroke="#677f10"/>
<circle cx="99.3" cy="78.1" r="2.8" fill="#dac321" fill-opacity="0.78" stroke="#998817"/>
<circle cx="99.9" cy="85.4" r="2.8" fill="#6eae18" fill-opacity="0.78" stroke="#4d7a10"/>
<circle cx="94.5" cy="105.0" r="2.8" fill="#409355" fill-opacity="0.78" stroke="#2d673b"/>
<circle cx="94.4" cy="100.8" r="2.8" fill="#aaba19" fill-opacity="0.78" stroke="#778211"/>
<circle cx="98.7" cy="107.7" r="2.8" fill="#81b216" fill-opacity="0.78" stroke="#5a7d0f"/>
<circle cx="112.6" cy="76.9" r="2.8" fill="#eac524" fill-opacity="0.78" stroke="#a48a19"/>
<circle cx="127.9" cy="42.2" r="2.8" fill="#dec322" fill-opacity="0.78" stroke="#9b8918"/>
<circle cx="101.2" cy="71.7" r="2.8" fill="#fab824" fill-opacity="0.78" stroke="#af8119"/>
<circle cx="96.8" cy="53.8" r="2.8" fill="#bdbe1c" fill-opacity="0.78" stroke="#848514"/>
<circle cx="96.6" cy="106.8" r="2.8" fill="#72af17" fill-opacity="0.78" stroke="#507a10"/>
<circle cx="101.5" cy="56.6" r="2.8" fill="#c1be1d" fill-opacity="0.78" stroke="#878514"/>
<circle cx="94.7" cy="137.3" r="2.8" fill="#efc525" fill-opacity="0.78" stroke="#a78a1a"/>
<circle cx="97.7" cy="59.9" r="2.8" fill="#f6c626" fill-opacity="0.78" stroke="#ac8a1b"/>
<circle cx="99.5" cy="75.3" r="2.8" fill="#aaba19" fill-opacity="0.78" stroke="#778212"/>
<circle cx="94.4" cy="132.5" r="2.8" fill="#1b54c6" fill-opacity="0.78" stroke="#133b8b"/>
<circle cx="96.3" cy="100.1" r="2.8" fill="#4ca22c" fill-opacity="0.78" stroke="#35711f"/>
<circle cx="100.1" cy="47.3" r="2.8" fill="#f6c526" fill-opacity="0.78" stroke="#ac8a1b"/>
<circle cx="100.0" cy="82.0" r="2.8" fill="#e3c423" fill-opacity="0.78" stroke="#9f8918"/>
<circle cx="102.9" cy="70.0" r="2.8" fill="#dcc321" fill-opacity="0.78" stroke="#9a8817"/>
<circle cx="116.2" cy="68.7" r="2.8" fill="#f8bf25" fill-opacity="0.78" stroke="#ad861a"/>
<circle cx="99.1" cy="97.2" r="2.8" fill="#479f34" fill-opacity="0.78" stroke="#326f24"/>
<circle cx="95.6" cy="148.7" r="2.8" fill="#3f9259" fill-opacity="0.78" stroke="#2c663e"/>
<circle cx="101.6" cy="73.9" r="2.8" fill="#faaf23" fill-opacity="0.78" stroke="#af7a18"/>
<circle cx="108.1" cy="42.1" r="2.8" fill="#f7941c" fill-opacity="0.78" stroke="#ad6713"/>
<circle cx="103.6" cy="70.2" r="2.8" fill="#b5bc1b" fill-opacity="0.78" stroke="#7f8413"/>
<circle cx="106.9" cy="44.0" r="2.8" fill="#6cae18" fill-opacity="0.78" stroke="#4c7911"/>
<circle cx="95.2" cy="54.5" r="2.8" fill="#3f9258" fill-opacity="0.78" stroke="#2c673d"/>
<circle cx="99.9" cy="43.5" r="2.8" fill="#c7bf1e" fill-opacity="0.78" stroke="#8b8615"/>
<circle cx="94.3" cy="124.0" r="2.8" fill="#89b417" fill-opacity="0.78" stroke="#607e10"/>
<circle cx="141.2" cy="43.6" r="2.8" fill="#e8c423" fill-opacity="0.78" stroke="#a28919"/>
<circle cx="146.3" cy="45.5" r="2.8" fill="#faa120" fill-opacity="0.78" stroke="#af7116"/>
<circle cx="145.7" cy="42.3" r="2.8" fill="#b0bb1a" fill-opacity="0.78" stroke="#7b8312"/>
<circle cx="148.3" cy="48.1" r="2.8" fill="#f9bb25" fill-opacity="0.78" stroke="#ae831a"/>
<circle cx="155.4" cy="43.6" r="2.8" fill="#8ab417" fill-opacity="0.78" stroke="#617e10"/>
<circle cx="160.0" cy="44.2" r="2.8" fill="#6fae17" fill-opacity="0.78" stroke="#4e7a10"/>
<circle cx="156.8" cy="47.5" r="2.8" fill="#f9bb25" fill-opacity="0.78" stroke="#ae831a"/>
<circle cx="151.6" cy="52.4" r="2.8" fill="#b6bc1b" fill-opacity="0.78" stroke="#7f8413"/>
<circle cx="160.3" cy="54.6" r="2.8" fill="#6bad18" fill-opacity="0.78" stroke="#4b7911"/>
<circle cx="166.5" cy="45.5" r="2.8" fill="#f99e1f" fill-opacity="0.78" stroke="#ae6e15"/>
<circle cx="169.1" cy="43.6" r="2.8" fill="#f99f1f" fill-opacity="0.78" stroke="#af6f16"/>
<circle cx="176.9" cy="41.6" r="2.8" fill="#89b417" fill-opacity="0.78" stroke="#607e10"/>
<circle cx="186.7" cy="41.6" r="2.8" fill="#63ac18" fill-opacity="0.78" stroke="#467811"/>
<circle cx="190.6" cy="41.6" r="2.8" fill="#e5c423" fill-opacity="0.78" stroke="#a08919"/>
<circle cx="184.7" cy="49.1" r="2.8" fill="#87b317" fill-opacity="0.78" stroke="#5f7e10"/>
<circle cx="191.5" cy="52.0" r="2.8" fill="#67ac18" fill-opacity="0.78" stroke="#487911"/>
<circle cx="183.4" cy="54.6" r="2.8" fill="#8db417" fill-opacity="0.78" stroke="#637e10"/>
<circle cx="181.4" cy="57.9" r="2.8" fill="#faa01f" fill-opacity="0.78" stroke="#af7016"/>
<circle cx="176.2" cy="57.9" r="2.8" fill="#bbbd1c" fill-opacity="0.78" stroke="#838414"/>
<circle cx="172.3" cy="58.5" r="2.8" fill="#e8c423" fill-opacity="0.78" stroke="#a28919"/>
<circle cx="170.7" cy="61.1" r="2.8" fill="#afbb1a" fill-opacity="0.78" stroke="#7a8312"/>
<circle cx="186.7" cy="60.8" r="2.8" fill="#f9b924" fill-opacity="0.78" stroke="#ae8219"/>
<circle cx="197.1" cy="45.8" r="2.8" fill="#69ad18" fill-opacity="0.78" stroke="#497911"/>
<circle cx="200.3" cy="41.6" r="2.8" fill="#e9c424" fill-opacity="0.78" stroke="#a38a19"/>
<circle cx="205.5" cy="45.9" r="2.8" fill="#f99c1e" fill-opacity="0.78" stroke="#ae6d15"/>
<circle cx="212.6" cy="44.9" r="2.8" fill="#e7c423" fill-opacity="0.78" stroke="#a28919"/>
<circle cx="216.6" cy="41.6" r="2.8" fill="#f99d1e" fill-opacity="0.78" stroke="#ae6e15"/>
<circle cx="221.1" cy="45.5" r="2.8" fill="#f0c525" fill-opacity="0.78" stroke="#a88a1a"/>
<circle cx="205.5" cy="59.2" r="2.8" fill="#f99e1f" fill-opacity="0.78" stroke="#ae6f16"/>
<circle cx="212.6" cy="61.5" r="2.8" fill="#ebc524" fill-opacity="0.78" stroke="#a58a19"/>
<circle cx="226.6" cy="52.0" r="2.8" fill="#f07617" fill-opacity="0.78" stroke="#a85310"/>
<circle cx="228.5" cy="70.6" r="2.8" fill="#f99d1f" fill-opacity="0.78" stroke="#ae6e15"/>
<circle cx="249.3" cy="42.0" r="2.8" fill="#faa120" fill-opacity="0.78" stroke="#af7016"/>
<circle cx="254.5" cy="49.8" r="2.8" fill="#f9bc25" fill-opacity="0.78" stroke="#ae841a"/>
<circle cx="259.7" cy="55.3" r="2.8" fill="#faa120" fill-opacity="0.78" stroke="#af7116"/>
<circle cx="245.8" cy="58.9" r="2.8" fill="#f9ba25" fill-opacity="0.78" stroke="#ae821a"/>
<circle cx="242.3" cy="60.9" r="2.8" fill="#f9bc25" fill-opacity="0.78" stroke="#ae831a"/>
<circle cx="259.7" cy="63.4" r="2.8" fill="#edc524" fill-opacity="0.78" stroke="#a68a1a"/>
<circle cx="261.4" cy="77.4" r="2.8" fill="#eac524" fill-opacity="0.78" stroke="#a48a19"/>
<circle cx="151.8" cy="72.2" r="2.8" fill="#b3bc1a" fill-opacity="0.78" stroke="#7d8312"/>
<circle cx="160.4" cy="71.9" r="2.8" fill="#6bad18" fill-opacity="0.78" stroke="#4b7911"/>
<circle cx="146.3" cy="75.4" r="2.8" fill="#bdbe1c" fill-opacity="0.78" stroke="#848514"/>
<circle cx="155.1" cy="77.4" r="2.8" fill="#b1bb1a" fill-opacity="0.78" stroke="#7c8312"/>
<circle cx="137.6" cy="81.6" r="2.8" fill="#e6c423" fill-opacity="0.78" stroke="#a18919"/>
<circle cx="137.6" cy="85.8" r="2.8" fill="#b2bc1a" fill-opacity="0.78" stroke="#7d8312"/>
<circle cx="144.4" cy="90.4" r="2.8" fill="#b3bc1a" fill-opacity="0.78" stroke="#7d8313"/>
<circle cx="181.4" cy="78.0" r="2.8" fill="#bdbe1c" fill-opacity="0.78" stroke="#848514"/>
<circle cx="190.2" cy="76.4" r="2.8" fill="#b9bd1c" fill-opacity="0.78" stroke="#828413"/>
<circle cx="195.4" cy="77.7" r="2.8" fill="#b5bc1b" fill-opacity="0.78" stroke="#7e8413"/>
<circle cx="188.2" cy="83.5" r="2.8" fill="#f9bb25" fill-opacity="0.78" stroke="#ae831a"/>
<circle cx="196.1" cy="97.5" r="2.8" fill="#81b216" fill-opacity="0.78" stroke="#5a7d0f"/>
<circle cx="203.9" cy="102.4" r="2.8" fill="#e6c423" fill-opacity="0.78" stroke="#a18919"/>
<circle cx="155.1" cy="101.4" r="2.8" fill="#f0c525" fill-opacity="0.78" stroke="#a88a1a"/>
<circle cx="242.3" cy="104.3" r="2.8" fill="#f9b824" fill-opacity="0.78" stroke="#af8119"/>
<circle cx="262.0" cy="109.5" r="2.8" fill="#faa120" fill-opacity="0.78" stroke="#af7116"/>
<circle cx="151.6" cy="112.5" r="2.8" fill="#b8bd1b" fill-opacity="0.78" stroke="#818413"/>
<circle cx="151.6" cy="115.1" r="2.8" fill="#aebb1a" fill-opacity="0.78" stroke="#7a8312"/>
<circle cx="144.4" cy="116.8" r="2.8" fill="#b6bc1b" fill-opacity="0.78" stroke="#7f8413"/>
<circle cx="137.6" cy="117.7" r="2.8" fill="#e9c424" fill-opacity="0.78" stroke="#a38a19"/>
<circle cx="186.4" cy="117.3" r="2.8" fill="#afbb1a" fill-opacity="0.78" stroke="#7b8312"/>
<circle cx="190.2" cy="121.6" r="2.8" fill="#eec525" fill-opacity="0.78" stroke="#a78a1a"/>
<circle cx="188.2" cy="125.5" r="2.8" fill="#b9bd1c" fill-opacity="0.78" stroke="#828413"/>
<circle cx="231.8" cy="118.7" r="2.8" fill="#f9b924" fill-opacity="0.78" stroke="#ae8219"/>
<circle cx="156.8" cy="129.1" r="2.8" fill="#faa120" fill-opacity="0.78" stroke="#af7016"/>
<circle cx="146.3" cy="131.1" r="2.8" fill="#edc524" fill-opacity="0.78" stroke="#a68a1a"/>
<circle cx="134.7" cy="131.1" r="2.8" fill="#b5bc1b" fill-opacity="0.78" stroke="#7e8413"/>
<circle cx="155.1" cy="138.8" r="2.8" fill="#edc524" fill-opacity="0.78" stroke="#a68a1a"/>
<circle cx="137.6" cy="139.4" r="2.8" fill="#afbb1a" fill-opacity="0.78" stroke="#7a8312"/>
<circle cx="135.3" cy="144.3" r="2.8" fill="#8fb517" fill-opacity="0.78" stroke="#647f10"/>
<circle cx="141.2" cy="148.0" r="2.8" fill="#63ac18" fill-opacity="0.78" stroke="#457811"/>
<circle cx="212.6" cy="142.8" r="2.8" fill="#e7c423" fill-opacity="0.78" stroke="#a28919"/>
<circle cx="195.1" cy="145.6" r="2.8" fill="#f99f1f" fill-opacity="0.78" stroke="#af6f16"/>
<circle cx="172.3" cy="153.2" r="2.8" fill="#faa020" fill-opacity="0.78" stroke="#af7016"/>
<circle cx="172.3" cy="162.2" r="2.8" fill="#f9bc25" fill-opacity="0.78" stroke="#ae831a"/>
<circle cx="146.3" cy="163.6" r="2.8" fill="#eec525" fill-opacity="0.78" stroke="#a68a1a"/>
<circle cx="146.3" cy="173.2" r="2.8" fill="#f2c625" fill-opacity="0.78" stroke="#a98a1a"/>
<circle cx="153.2" cy="174.9" r="2.8" fill="#e9c424" fill-opacity="0.78" stroke="#a38a19"/>
<circle cx="155.1" cy="178.4" r="2.8" fill="#e8c424" fill-opacity="0.78" stroke="#a28919"/>
<circle cx="188.2" cy="175.9" r="2.8" fill="#6dae18" fill-opacity="0.78" stroke="#4c7a11"/>
<circle cx="137.2" cy="60.5" r="2.8" fill="#66ac18" fill-opacity="0.78" stroke="#487911"/>
<circle cx="137.2" cy="63.8" r="2.8" fill="#69ad18" fill-opacity="0.78" stroke="#497911"/>
<circle cx="188.2" cy="188.2" r="2.8" fill="#8cb417" fill-opacity="0.78" stroke="#627e10"/>
<circle cx="198.6" cy="186.6" r="2.8" fill="#f9ba24" fill-opacity="0.78" stroke="#ae821a"/>
<circle cx="135.9" cy="193.1" r="2.8" fill="#83b216" fill-opacity="0.78" stroke="#5b7d10"/>
<circle cx="186.4" cy="196.0" r="2.8" fill="#64ac18" fill-opacity="0.78" stroke="#467811"/>
<circle cx="142.7" cy="203.1" r="2.8" fill="#ecc524" fill-opacity="0.78" stroke="#a58a19"/>
<circle cx="235.4" cy="202.2" r="2.8" fill="#71af17" fill-opacity="0.78" stroke="#4f7a10"/>
<circle cx="202.2" cy="210.4" r="2.8" fill="#8fb517" fill-opacity="0.78" stroke="#647f10"/>
<circle cx="163.6" cy="214.8" r="2.8" fill="#e6c423" fill-opacity="0.78" stroke="#a18919"/>
<circle cx="160.3" cy="223.7" r="2.8" fill="#ebc524" fill-opacity="0.78" stroke="#a58a19"/>
<circle cx="165.6" cy="226.2" r="2.8" fill="#f99e1f" fill-opacity="0.78" stroke="#ae6f16"/>
<circle cx="154.8" cy="228.2" r="2.8" fill="#f9bb25" fill-opacity="0.78" stroke="#ae831a"/>
<circle cx="156.8" cy="233.4" r="2.8" fill="#b9bd1b" fill-opacity="0.78" stroke="#818413"/>
<circle cx="172.3" cy="236.3" r="2.8" fill="#f9b924" fill-opacity="0.78" stroke="#ae8219"/>
<circle cx="137.6" cy="243.8" r="2.8" fill="#efc525" fill-opacity="0.78" stroke="#a88a1a"/>
<circle cx="160.3" cy="244.1" r="2.8" fill="#67ad18" fill-opacity="0.78" stroke="#487911"/>
<circle cx="195.1" cy="244.7" r="2.8" fill="#fab624" fill-opacity="0.78" stroke="#af8019"/>
<circle cx="146.3" cy="257.2" r="2.8" fill="#efc525" fill-opacity="0.78" stroke="#a88a1a"/>
<circle cx="186.4" cy="256.8" r="2.8" fill="#b5bc1b" fill-opacity="0.78" stroke="#7f8413"/>
<circle cx="175.9" cy="273.7" r="2.8" fill="#f9bb25" fill-opacity="0.78" stroke="#ae831a"/>
<circle cx="134.7" cy="276.7" r="2.8" fill="#f99e1f" fill-opacity="0.78" stroke="#ae6f16"/>
<circle cx="137.6" cy="290.3" r="2.8" fill="#e6c423" fill-opacity="0.78" stroke="#a18919"/>
<circle cx="211.0" cy="297.8" r="2.8" fill="#6dae18" fill-opacity="0.78" stroke="#4c7a11"/>
<circle cx="158.4" cy="300.6" r="2.8" fill="#fab824" fill-opacity="0.78" stroke="#af8119"/>
<circle cx="174.3" cy="302.7" r="2.8" fill="#ecc524" fill-opacity="0.78" stroke="#a58a19"/>
<circle cx="141.2" cy="320.2" r="2.8" fill="#bebe1c" fill-opacity="0.78" stroke="#858514"/>
<circle cx="163.6" cy="321.8" r="2.8" fill="#e5c423" fill-opacity="0.78" stroke="#a08918"/>
<circle cx="170.7" cy="320.5" r="2.8" fill="#eec525" fill-opacity="0.78" stroke="#a78a1a"/>
<circle cx="142.7" cy="340.0" r="2.8" fill="#6fae17" fill-opacity="0.78" stroke="#4e7a10"/>
<circle cx="137.6" cy="388.5" r="2.8" fill="#e6c423" fill-opacity="0.78" stroke="#a18919"/>
<circle cx="163.6" cy="410.2" r="2.8" fill="#e9c424" fill-opacity="0.78" stroke="#a38a19"/>
<circle cx="146.3" cy="448.9" r="2.8" fill="#e5c423" fill-opacity="0.78" stroke="#a08919"/>
<circle cx="159.3" cy="509.9" r="2.8" fill="#6cad18" fill-opacity="0.78" stroke="#4b7911"/>
<circle cx="216.2" cy="568.5" r="2.8" fill="#eec525" fill-opacity="0.78" stroke="#a78a1a"/>
<circle cx="125.5" cy="48.5" r="2.8" fill="#68ad18" fill-opacity="0.78" stroke="#497911"/>
<circle cx="128.5" cy="54.5" r="2.8" fill="#eec525" fill-opacity="0.78" stroke="#a68a1a"/>
<circle cx="128.5" cy="60.5" r="2.8" fill="#b4bc1b" fill-opacity="0.78" stroke="#7e8313"/>
<circle cx="134.0" cy="57.5" r="2.8" fill="#6dae18" fill-opacity="0.78" stroke="#4d7a10"/>
<circle cx="120.0" cy="57.5" r="2.8" fill="#e8c424" fill-opacity="0.78" stroke="#a28919"/>
<circle cx="124.0" cy="65.5" r="2.8" fill="#bebe1c" fill-opacity="0.78" stroke="#858514"/>
<circle cx="120.5" cy="65.5" r="2.8" fill="#b5bc1b" fill-opacity="0.78" stroke="#7f8413"/>
<circle cx="125.0" cy="74.0" r="2.8" fill="#80b216" fill-opacity="0.78" stroke="#5a7d0f"/>
<circle cx="129.0" cy="78.5" r="2.8" fill="#e6c423" fill-opacity="0.78" stroke="#a18919"/>
<circle cx="120.0" cy="81.5" r="2.8" fill="#6eae18" fill-opacity="0.78" stroke="#4d7a10"/>
<circle cx="116.5" cy="74.0" r="2.8" fill="#70ae17" fill-opacity="0.78" stroke="#4e7a10"/>
<circle cx="113.0" cy="70.0" r="2.8" fill="#6cae18" fill-opacity="0.78" stroke="#4c7a11"/>
<circle cx="111.5" cy="82.0" r="2.8" fill="#b0bb1a" fill-opacity="0.78" stroke="#7b8312"/>
<circle cx="115.0" cy="91.0" r="2.8" fill="#38896e" fill-opacity="0.78" stroke="#27604d"/>
<circle cx="128.5" cy="93.5" r="2.8" fill="#b9bd1c" fill-opacity="0.78" stroke="#828413"/>
<circle cx="123.0" cy="100.0" r="2.8" fill="#afbb1a" fill-opacity="0.78" stroke="#7b8312"/>
<circle cx="128.5" cy="101.5" r="2.8" fill="#e9c524" fill-opacity="0.78" stroke="#a38a19"/>
<circle cx="128.5" cy="107.5" r="2.8" fill="#f99d1e" fill-opacity="0.78" stroke="#ae6e15"/>
<circle cx="120.5" cy="107.5" r="2.8" fill="#adbb1a" fill-opacity="0.78" stroke="#798312"/>
<circle cx="123.5" cy="111.0" r="2.8" fill="#aebb1a" fill-opacity="0.78" stroke="#7a8312"/>
<circle cx="125.5" cy="121.0" r="2.8" fill="#86b316" fill-opacity="0.78" stroke="#5e7d10"/>
<circle cx="118.5" cy="121.0" r="2.8" fill="#bcbd1c" fill-opacity="0.78" stroke="#848514"/>
<circle cx="118.5" cy="126.5" r="2.8" fill="#f2c625" fill-opacity="0.78" stroke="#a98a1a"/>
<circle cx="111.5" cy="115.5" r="2.8" fill="#e9c424" fill-opacity="0.78" stroke="#a38a19"/>
<circle cx="111.5" cy="120.0" r="2.8" fill="#f1c525" fill-opacity="0.78" stroke="#a88a1a"/>
<circle cx="111.5" cy="124.0" r="2.8" fill="#efc525" fill-opacity="0.78" stroke="#a78a1a"/>
<circle cx="111.5" cy="128.0" r="2.8" fill="#f0c525" fill-opacity="0.78" stroke="#a88a1a"/>
<circle cx="114.0" cy="137.0" r="2.8" fill="#8ab417" fill-opacity="0.78" stroke="#617e10"/>
<circle cx="114.0" cy="139.5" r="2.8" fill="#90b517" fill-opacity="0.78" stroke="#657f10"/>
<circle cx="120.0" cy="143.0" r="2.8" fill="#f9b824" fill-opacity="0.78" stroke="#af8119"/>
<circle cx="128.5" cy="137.5" r="2.8" fill="#f1c525" fill-opacity="0.78" stroke="#a98a1a"/>
<circle cx="124.0" cy="147.0" r="2.8" fill="#8ab417" fill-opacity="0.78" stroke="#607e10"/>
<circle cx="126.0" cy="147.0" r="2.8" fill="#83b316" fill-opacity="0.78" stroke="#5c7d10"/>
<circle cx="111.5" cy="151.5" r="2.8" fill="#b6bc1b" fill-opacity="0.78" stroke="#7f8413"/>
<circle cx="116.5" cy="152.0" r="2.8" fill="#88b417" fill-opacity="0.78" stroke="#5f7e10"/>
<circle cx="108.0" cy="156.5" r="2.8" fill="#b3bc1b" fill-opacity="0.78" stroke="#7d8313"/>
<circle cx="108.0" cy="159.5" r="2.8" fill="#b4bc1b" fill-opacity="0.78" stroke="#7e8313"/>
<circle cx="104.0" cy="164.5" r="2.8" fill="#b6bc1b" fill-opacity="0.78" stroke="#7f8413"/>
<circle cx="116.5" cy="162.5" r="2.8" fill="#b7bd1b" fill-opacity="0.78" stroke="#808413"/>
<circle cx="121.5" cy="167.0" r="2.8" fill="#f9bb25" fill-opacity="0.78" stroke="#ae831a"/>
<circle cx="125.0" cy="163.5" r="2.8" fill="#85b316" fill-opacity="0.78" stroke="#5d7d10"/>
<circle cx="128.0" cy="163.5" r="2.8" fill="#6aad18" fill-opacity="0.78" stroke="#4b7911"/>
<circle cx="104.0" cy="171.0" r="2.8" fill="#ebc524" fill-opacity="0.78" stroke="#a58a19"/>
<circle cx="100.0" cy="174.0" r="2.8" fill="#358675" fill-opacity="0.78" stroke="#255e52"/>
<circle cx="101.0" cy="181.0" r="2.8" fill="#b9bd1b" fill-opacity="0.78" stroke="#818413"/>
<circle cx="104.0" cy="181.0" r="2.8" fill="#b0bb1a" fill-opacity="0.78" stroke="#7c8312"/>
<circle cx="111.5" cy="180.8" r="2.8" fill="#89b417" fill-opacity="0.78" stroke="#607e10"/>
<circle cx="101.0" cy="189.5" r="2.8" fill="#f9bb25" fill-opacity="0.78" stroke="#ae831a"/>
<circle cx="105.5" cy="188.8" r="2.8" fill="#6eae17" fill-opacity="0.78" stroke="#4d7a10"/>
<circle cx="128.8" cy="192.0" r="2.8" fill="#b9bd1c" fill-opacity="0.78" stroke="#828413"/>
<circle cx="136.0" cy="193.0" r="2.8" fill="#8db417" fill-opacity="0.78" stroke="#637e10"/>
<circle cx="107.0" cy="198.3" r="2.8" fill="#ebc524" fill-opacity="0.78" stroke="#a58a19"/>
<circle cx="111.5" cy="196.5" r="2.8" fill="#e8c423" fill-opacity="0.78" stroke="#a28919"/>
<circle cx="111.5" cy="201.0" r="2.8" fill="#90b517" fill-opacity="0.78" stroke="#647f10"/>
<circle cx="111.5" cy="205.0" r="2.8" fill="#ebc524" fill-opacity="0.78" stroke="#a58a19"/>
<circle cx="106.5" cy="205.0" r="2.8" fill="#e9c524" fill-opacity="0.78" stroke="#a38a19"/>
<circle cx="102.5" cy="207.0" r="2.8" fill="#e8c424" fill-opacity="0.78" stroke="#a38919"/>
<circle cx="100.0" cy="202.5" r="2.8" fill="#69ad18" fill-opacity="0.78" stroke="#497911"/>
<circle cx="98.0" cy="205.0" r="2.8" fill="#6dae18" fill-opacity="0.78" stroke="#4d7a10"/>
<circle cx="99.0" cy="211.0" r="2.8" fill="#6fae17" fill-opacity="0.78" stroke="#4e7a10"/>
<circle cx="107.0" cy="213.0" r="2.8" fill="#b5bc1b" fill-opacity="0.78" stroke="#7f8413"/>
<circle cx="102.5" cy="216.5" r="2.8" fill="#babd1c" fill-opacity="0.78" stroke="#828413"/>
<circle cx="102.0" cy="220.0" r="2.8" fill="#348579" fill-opacity="0.78" stroke="#245d54"/>
<circle cx="125.5" cy="211.5" r="2.8" fill="#b5bc1b" fill-opacity="0.78" stroke="#7f8413"/>
<circle cx="106.0" cy="225.2" r="2.8" fill="#86b316" fill-opacity="0.78" stroke="#5e7d10"/>
<circle cx="113.2" cy="224.2" r="2.8" fill="#85b316" fill-opacity="0.78" stroke="#5d7d10"/>
<circle cx="109.7" cy="228.5" r="2.8" fill="#68ad18" fill-opacity="0.78" stroke="#497911"/>
<circle cx="104.0" cy="233.0" r="2.8" fill="#8db417" fill-opacity="0.78" stroke="#627e10"/>
<circle cx="97.0" cy="234.2" r="2.8" fill="#3f9258" fill-opacity="0.78" stroke="#2c663e"/>
<circle cx="102.5" cy="237.5" r="2.8" fill="#b1bb1a" fill-opacity="0.78" stroke="#7c8312"/>
<circle cx="123.5" cy="233.2" r="2.8" fill="#84b316" fill-opacity="0.78" stroke="#5c7d10"/>
<circle cx="118.5" cy="239.5" r="2.8" fill="#bbbd1c" fill-opacity="0.78" stroke="#838413"/>
<circle cx="96.0" cy="245.0" r="2.8" fill="#6dae18" fill-opacity="0.78" stroke="#4c7a11"/>
<circle cx="97.0" cy="253.0" r="2.8" fill="#6dae18" fill-opacity="0.78" stroke="#4c7a11"/>
<circle cx="104.0" cy="256.2" r="2.8" fill="#8bb417" fill-opacity="0.78" stroke="#617e10"/>
<circle cx="98.0" cy="258.5" r="2.8" fill="#6dae18" fill-opacity="0.78" stroke="#4c7a10"/>
<circle cx="96.0" cy="222.5" r="2.8" fill="#b2bc1a" fill-opacity="0.78" stroke="#7d8312"/>
<circle cx="96.0" cy="229.0" r="2.8" fill="#64ac18" fill-opacity="0.78" stroke="#467811"/>
<circle cx="96.5" cy="161.0" r="2.8" fill="#b3bc1b" fill-opacity="0.78" stroke="#7e8313"/>
<circle cx="101.0" cy="154.0" r="2.8" fill="#64ac18" fill-opacity="0.78" stroke="#467811"/>
<circle cx="96.0" cy="167.0" r="2.8" fill="#bebe1c" fill-opacity="0.78" stroke="#858514"/>
<circle cx="97.0" cy="170.0" r="2.8" fill="#89b417" fill-opacity="0.78" stroke="#607e10"/>
<circle cx="96.0" cy="178.0" r="2.8" fill="#b9bd1b" fill-opacity="0.78" stroke="#818413"/>
<circle cx="96.0" cy="184.0" r="2.8" fill="#90b517" fill-opacity="0.78" stroke="#657f10"/>
<circle cx="95.5" cy="189.0" r="2.8" fill="#6fae17" fill-opacity="0.78" stroke="#4e7a10"/>
<circle cx="95.5" cy="194.0" r="2.8" fill="#67ac18" fill-opacity="0.78" stroke="#487911"/>
<circle cx="95.0" cy="198.0" r="2.8" fill="#358677" fill-opacity="0.78" stroke="#255e53"/>
<circle cx="106.2" cy="264.3" r="2.8" fill="#afbb1a" fill-opacity="0.78" stroke="#7b8312"/>
<circle cx="111.5" cy="271.3" r="2.8" fill="#0d3de3" fill-opacity="0.78" stroke="#092a9f"/>
<circle cx="98.5" cy="275.0" r="2.8" fill="#6eae18" fill-opacity="0.78" stroke="#4d7a10"/>
<circle cx="99.0" cy="282.3" r="2.8" fill="#ebc524" fill-opacity="0.78" stroke="#a48a19"/>
<circle cx="104.5" cy="284.0" r="2.8" fill="#86b316" fill-opacity="0.78" stroke="#5e7d10"/>
<circle cx="95.0" cy="289.5" r="2.8" fill="#67ac18" fill-opacity="0.78" stroke="#487911"/>
<circle cx="112.0" cy="302.3" r="2.8" fill="#f9b924" fill-opacity="0.78" stroke="#ae8219"/>
<circle cx="109.5" cy="300.3" r="2.8" fill="#8cb417" fill-opacity="0.78" stroke="#627e10"/>
<circle cx="111.5" cy="310.2" r="2.8" fill="#8fb517" fill-opacity="0.78" stroke="#647f10"/>
<circle cx="128.0" cy="309.0" r="2.8" fill="#3f9356" fill-opacity="0.78" stroke="#2c673c"/>
<circle cx="95.5" cy="310.0" r="2.8" fill="#bcbd1c" fill-opacity="0.78" stroke="#848514"/>
<circle cx="95.0" cy="317.5" r="2.8" fill="#358675" fill-opacity="0.78" stroke="#255e52"/>
<circle cx="102.5" cy="325.0" r="2.8" fill="#87b317" fill-opacity="0.78" stroke="#5f7e10"/>
<circle cx="102.5" cy="327.8" r="2.8" fill="#85b316" fill-opacity="0.78" stroke="#5d7d10"/>
<circle cx="95.5" cy="328.0" r="2.8" fill="#388a6c" fill-opacity="0.78" stroke="#27614c"/>
<circle cx="95.0" cy="333.0" r="2.8" fill="#348579" fill-opacity="0.78" stroke="#245d55"/>
<circle cx="99.0" cy="338.0" r="2.8" fill="#b0bb1a" fill-opacity="0.78" stroke="#7b8312"/>
<circle cx="99.0" cy="340.0" r="2.8" fill="#b2bc1a" fill-opacity="0.78" stroke="#7d8312"/>
<circle cx="95.0" cy="346.0" r="2.8" fill="#70af17" fill-opacity="0.78" stroke="#4f7a10"/>
<circle cx="104.5" cy="365.2" r="2.8" fill="#8eb517" fill-opacity="0.78" stroke="#647f10"/>
<circle cx="95.0" cy="366.0" r="2.8" fill="#358677" fill-opacity="0.78" stroke="#255e53"/>
<circle cx="96.0" cy="370.0" r="2.8" fill="#f0c525" fill-opacity="0.78" stroke="#a88a1a"/>
<circle cx="95.0" cy="263.0" r="2.8" fill="#bcbd1c" fill-opacity="0.78" stroke="#848514"/>
<circle cx="98.0" cy="264.0" r="2.8" fill="#87b317" fill-opacity="0.78" stroke="#5f7e10"/>
<circle cx="95.5" cy="277.0" r="2.8" fill="#348579" fill-opacity="0.78" stroke="#245d55"/>
<circle cx="95.0" cy="297.0" r="2.8" fill="#6eae17" fill-opacity="0.78" stroke="#4d7a10"/>
<circle cx="95.5" cy="300.5" r="2.8" fill="#69ad18" fill-opacity="0.78" stroke="#497911"/>
<circle cx="95.0" cy="306.0" r="2.8" fill="#33847a" fill-opacity="0.78" stroke="#245d55"/>
<circle cx="96.0" cy="372.0" r="2.8" fill="#f1c525" fill-opacity="0.78" stroke="#a88a1a"/>
<circle cx="100.8" cy="375.2" r="2.8" fill="#6aad18" fill-opacity="0.78" stroke="#4a7911"/>
<circle cx="113.2" cy="376.8" r="2.8" fill="#f9ba24" fill-opacity="0.78" stroke="#ae821a"/>
<circle cx="102.5" cy="387.5" r="2.8" fill="#8ab417" fill-opacity="0.78" stroke="#617e10"/>
<circle cx="95.5" cy="397.5" r="2.8" fill="#b2bb1a" fill-opacity="0.78" stroke="#7c8312"/>
<circle cx="113.2" cy="396.8" r="2.8" fill="#aebb1a" fill-opacity="0.78" stroke="#7a8312"/>
<circle cx="124.2" cy="399.2" r="2.8" fill="#87b316" fill-opacity="0.78" stroke="#5e7d10"/>
<circle cx="97.5" cy="412.0" r="2.8" fill="#226ca6" fill-opacity="0.78" stroke="#184c74"/>
<circle cx="96.0" cy="426.3" r="2.8" fill="#aebb1a" fill-opacity="0.78" stroke="#798312"/>
<circle cx="94.8" cy="440.0" r="2.8" fill="#358676" fill-opacity="0.78" stroke="#255e53"/>
<circle cx="95.0" cy="446.0" r="2.8" fill="#6eae17" fill-opacity="0.78" stroke="#4d7a10"/>
<circle cx="94.5" cy="450.0" r="2.8" fill="#358677" fill-opacity="0.78" stroke="#255e53"/>
<circle cx="107.7" cy="451.5" r="2.8" fill="#8bb417" fill-opacity="0.78" stroke="#627e10"/>
<circle cx="111.5" cy="454.0" r="2.8" fill="#b8bd1b" fill-opacity="0.78" stroke="#818413"/>
<circle cx="107.8" cy="462.2" r="2.8" fill="#b1bb1a" fill-opacity="0.78" stroke="#7c8312"/>
<circle cx="128.0" cy="478.5" r="2.8" fill="#3b8e64" fill-opacity="0.78" stroke="#2a6346"/>
<circle cx="95.0" cy="485.2" r="2.8" fill="#8bb417" fill-opacity="0.78" stroke="#627e10"/>
<circle cx="99.7" cy="490.7" r="2.8" fill="#6cae18" fill-opacity="0.78" stroke="#4c7911"/>
<circle cx="95.0" cy="493.5" r="2.8" fill="#348577" fill-opacity="0.78" stroke="#255d54"/>
<circle cx="96.0" cy="497.5" r="2.8" fill="#66ac18" fill-opacity="0.78" stroke="#477911"/>
<circle cx="94.5" cy="520.3" r="2.8" fill="#fab724" fill-opacity="0.78" stroke="#af8019"/>
<circle cx="108.3" cy="520.8" r="2.8" fill="#8fb517" fill-opacity="0.78" stroke="#647f10"/>
<circle cx="95.0" cy="526.5" r="2.8" fill="#348578" fill-opacity="0.78" stroke="#245d54"/>
<circle cx="95.0" cy="536.5" r="2.8" fill="#8ab417" fill-opacity="0.78" stroke="#607e10"/>
<circle cx="113.2" cy="536.5" r="2.8" fill="#8ab417" fill-opacity="0.78" stroke="#607e10"/>
<circle cx="95.0" cy="542.0" r="2.8" fill="#358677" fill-opacity="0.78" stroke="#255e53"/>
<circle cx="97.2" cy="543.7" r="2.8" fill="#64ac18" fill-opacity="0.78" stroke="#467811"/>
<circle cx="95.2" cy="559.0" r="2.8" fill="#358677" fill-opacity="0.78" stroke="#255e53"/>
<circle cx="99.2" cy="566.7" r="2.8" fill="#0b3be5" fill-opacity="0.78" stroke="#0829a0"/>
<circle cx="280.7" cy="41.8" r="2.8" fill="#f9b924" fill-opacity="0.78" stroke="#af8119"/>
<circle cx="284.4" cy="49.8" r="2.8" fill="#f9b924" fill-opacity="0.78" stroke="#ae8219"/>
<circle cx="299.9" cy="41.8" r="2.8" fill="#f9bc25" fill-opacity="0.78" stroke="#ae831a"/>
<circle cx="303.3" cy="74.3" r="2.8" fill="#e7c423" fill-opacity="0.78" stroke="#a28919"/>
<circle cx="303.3" cy="83.6" r="2.8" fill="#faa01f" fill-opacity="0.78" stroke="#af7016"/>
<circle cx="329.5" cy="41.8" r="2.8" fill="#eac524" fill-opacity="0.78" stroke="#a48a19"/>
<circle cx="338.3" cy="52.2" r="2.8" fill="#f99f1f" fill-opacity="0.78" stroke="#af6f16"/>
<circle cx="347.3" cy="41.5" r="2.8" fill="#8fb517" fill-opacity="0.78" stroke="#647f10"/>
<circle cx="355.6" cy="42.6" r="2.8" fill="#e6c423" fill-opacity="0.78" stroke="#a18919"/>
<circle cx="367.9" cy="43.4" r="2.8" fill="#f89a1e" fill-opacity="0.78" stroke="#ae6c15"/>
<circle cx="366.8" cy="41.8" r="2.8" fill="#67ac18" fill-opacity="0.78" stroke="#487911"/>
<circle cx="361.0" cy="69.0" r="2.8" fill="#8eb517" fill-opacity="0.78" stroke="#647f10"/>
<circle cx="357.5" cy="80.5" r="2.8" fill="#e8c423" fill-opacity="0.78" stroke="#a28919"/>
<circle cx="361.0" cy="132.5" r="2.8" fill="#8ab417" fill-opacity="0.78" stroke="#617e10"/>
<circle cx="413.7" cy="58.3" r="2.8" fill="#f99f1f" fill-opacity="0.78" stroke="#af6f16"/>
<circle cx="413.7" cy="42.3" r="2.8" fill="#faa220" fill-opacity="0.78" stroke="#af7116"/>
<circle cx="420.1" cy="82.3" r="2.8" fill="#fab724" fill-opacity="0.78" stroke="#af8019"/>
<circle cx="460.7" cy="41.8" r="2.8" fill="#efc525" fill-opacity="0.78" stroke="#a88a1a"/>
<circle cx="469.5" cy="41.8" r="2.8" fill="#e8c424" fill-opacity="0.78" stroke="#a28919"/>
<circle cx="493.5" cy="42.9" r="2.8" fill="#8db417" fill-opacity="0.78" stroke="#637e10"/>
<circle cx="492.2" cy="63.1" r="2.8" fill="#f99e1f" fill-opacity="0.78" stroke="#ae6f16"/>
<circle cx="530.3" cy="45.5" r="2.8" fill="#f2c525" fill-opacity="0.78" stroke="#a98a1a"/>
<circle cx="530.3" cy="75.6" r="2.8" fill="#e5c423" fill-opacity="0.78" stroke="#a08919"/>
<circle cx="551.3" cy="53.0" r="2.8" fill="#b4bc1b" fill-opacity="0.78" stroke="#7e8313"/>
<circle cx="559.6" cy="55.4" r="2.8" fill="#84b316" fill-opacity="0.78" stroke="#5c7d10"/>
<circle cx="551.3" cy="117.5" r="2.8" fill="#edc524" fill-opacity="0.78" stroke="#a68a19"/>
<circle cx="557.2" cy="41.8" r="2.8" fill="#8db417" fill-opacity="0.78" stroke="#637e10"/>
<circle cx="560.4" cy="42.3" r="2.8" fill="#8eb517" fill-opacity="0.78" stroke="#647e10"/>
<circle cx="564.4" cy="41.8" r="2.8" fill="#368773" fill-opacity="0.78" stroke="#265f51"/>
<circle cx="589.6" cy="42.9" r="2.8" fill="#eac524" fill-opacity="0.78" stroke="#a48a19"/>
<circle cx="589.6" cy="65.3" r="2.8" fill="#efc525" fill-opacity="0.78" stroke="#a78a1a"/>
<circle cx="633.3" cy="41.5" r="2.8" fill="#82b216" fill-opacity="0.78" stroke="#5b7d0f"/>
<circle cx="629.9" cy="47.7" r="2.8" fill="#b2bb1a" fill-opacity="0.78" stroke="#7c8312"/>
<circle cx="629.9" cy="108.2" r="2.8" fill="#efc525" fill-opacity="0.78" stroke="#a78a1a"/>
<circle cx="635.2" cy="139.4" r="2.8" fill="#87b317" fill-opacity="0.78" stroke="#5f7e10"/>
<circle cx="347.0" cy="167.5" r="2.8" fill="#bebe1c" fill-opacity="0.78" stroke="#858514"/>
<circle cx="368.0" cy="186.0" r="2.8" fill="#82b216" fill-opacity="0.78" stroke="#5b7d0f"/>
<circle cx="367.0" cy="192.0" r="2.8" fill="#6aad18" fill-opacity="0.78" stroke="#4a7911"/>
<circle cx="338.0" cy="202.5" r="2.8" fill="#faa01f" fill-opacity="0.78" stroke="#af7016"/>
<circle cx="367.5" cy="238.0" r="2.8" fill="#f8bc25" fill-opacity="0.78" stroke="#ae841a"/>
<circle cx="386.0" cy="337.5" r="2.8" fill="#afbb1a" fill-opacity="0.78" stroke="#7a8312"/>
<circle cx="369.5" cy="451.5" r="2.8" fill="#65ac18" fill-opacity="0.78" stroke="#467811"/>
<circle cx="137.5" cy="91.0" r="2.8" fill="#b2bc1a" fill-opacity="0.78" stroke="#7d8312"/>
<circle cx="137.3" cy="95.0" r="2.8" fill="#aaba19" fill-opacity="0.78" stroke="#778212"/>
<circle cx="137.2" cy="574.0" r="3.5" fill="#808080"/>
<circle cx="140.5" cy="574.0" r="3.5" fill="#808080"/>
<circle cx="143.1" cy="574.0" r="3.5" fill="#808080"/>
<circle cx="145.1" cy="574.0" r="3.5" fill="#808080"/>
<circle cx="155.1" cy="574.0" r="3.5" fill="#808080"/>
<circle cx="163.6" cy="574.0" r="3.5" fill="#808080"/>
<circle cx="172.3" cy="574.0" r="3.5" fill="#808080"/>
<circle cx="175.6" cy="574.0" r="3.5" fill="#808080"/>
<circle cx="178.8" cy="574.0" r="3.5" fill="#808080"/>
<circle cx="181.4" cy="574.0" r="3.5" fill="#808080"/>
<circle cx="186.7" cy="574.0" r="3.5" fill="#808080"/>
<circle cx="189.9" cy="574.0" r="3.5" fill="#808080"/>
<circle cx="212.6" cy="574.0" r="3.5" fill="#808080"/>
<circle cx="261.4" cy="574.0" r="3.5" fill="#808080"/>
<circle cx="95.0" cy="574.0" r="3.5" fill="#808080"/>
<circle cx="98.0" cy="574.0" r="3.5" fill="#808080"/>
<circle cx="101.0" cy="574.0" r="3.5" fill="#808080"/>
<circle cx="104.0" cy="574.0" r="3.5" fill="#808080"/>
<circle cx="107.0" cy="574.0" r="3.5" fill="#808080"/>
<circle cx="110.0" cy="574.0" r="3.5" fill="#808080"/>
<circle cx="113.0" cy="574.0" r="3.5" fill="#808080"/>
<circle cx="116.0" cy="574.0" r="3.5" fill="#808080"/>
<circle cx="119.0" cy="574.0" r="3.5" fill="#808080"/>
<circle cx="121.5" cy="574.0" r="3.5" fill="#808080"/>
<circle cx="284.0" cy="574.0" r="3.5" fill="#808080"/>
<circle cx="352.0" cy="574.0" r="3.5" fill="#808080"/>
<circle cx="226.6" cy="52.1" r="2.8" fill="#f99e1f" fill-opacity="0.78" stroke="#ae6f16"/>
<circle cx="228.5" cy="70.6" r="2.8" fill="#faa220" fill-opacity="0.78" stroke="#af7116"/>
<circle cx="137.7" cy="96.2" r="6.1000000000000005" fill="rgba(25,25,25,0.65)" stroke="rgba(25,25,25,0.65)"/>
<circle cx="225.0" cy="91.1" r="6.1000000000000005" fill="rgba(25,25,25,0.65)" stroke="rgba(25,25,25,0.65)"/>
<circle cx="312.2" cy="77.3" r="6.1000000000000005" fill="rgba(25,25,25,0.65)" stroke="rgba(25,25,25,0.65)"/>
<circle cx="399.6" cy="77.0" r="6.1000000000000005" fill="rgba(25,25,25,0.65)" stroke="rgba(25,25,25,0.65)"/>
<circle cx="486.9" cy="46.6" r="6.1000000000000005" fill="rgba(25,25,25,0.65)" stroke="rgba(25,25,25,0.65)"/>
<circle cx="574.2" cy="52.2" r="6.1000000000000005" fill="rgba(25,25,25,0.65)" stroke="rgba(25,25,25,0.65)"/>
<circle cx="661.5" cy="73.5" r="6.1000000000000005" fill="rgba(25,25,25,0.65)" stroke="rgba(25,25,25,0.65)"/>
<rect x="131.6" y="96.0" width="12.200000000000001" height="12.200000000000001" fill="rgba(25,25,165,0.65)" stroke="rgba(25,25,165,0.65)"/>
<rect x="218.9" y="71.9" width="12.200000000000001" height="12.200000000000001" fill="rgba(25,25,165,0.65)" stroke="rgba(25,25,165,0.65)"/>
<rect x="306.2" y="45.9" width="12.200000000000001" height="12.200000000000001" fill="rgba(25,25,165,0.65)" stroke="rgba(25,25,165,0.65)"/>
<rect x="393.5" y="57.3" width="12.200000000000001" height="12.200000000000001" fill="rgba(25,25,165,0.65)" stroke="rgba(25,25,165,0.65)"/>
<rect x="480.8" y="34.9" width="12.200000000000001" height="12.200000000000001" fill="rgba(25,25,165,0.65)" stroke="rgba(25,25,165,0.65)"/>
<rect x="568.1" y="38.5" width="12.200000000000001" height="12.200000000000001" fill="rgba(25,25,165,0.65)" stroke="rgba(25,25,165,0.65)"/>
<rect x="655.4" y="66.1" width="12.200000000000001" height="12.200000000000001" fill="rgba(25,25,165,0.65)" stroke="rgba(25,25,165,0.65)"/>
<path d="M137.7 42.9L143.8 55.1L131.6 55.1Z" fill="rgba(158,0,5,0.65)" stroke="rgba(158,0,5,0.65)"/>
<path d="M225.0 43.5L231.1 55.7L218.9 55.7Z" fill="rgba(158,0,5,0.65)" stroke="rgba(158,0,5,0.65)"/>
<path d="M312.2 44.7L318.3 56.9L306.2 56.9Z" fill="rgba(158,0,5,0.65)" stroke="rgba(158,0,5,0.65)"/>
<path d="M399.6 34.9L405.6 47.1L393.5 47.1Z" fill="rgba(158,0,5,0.65)" stroke="rgba(158,0,5,0.65)"/>
<path d="M486.9 34.9L492.9 47.1L480.8 47.1Z" fill="rgba(158,0,5,0.65)" stroke="rgba(158,0,5,0.65)"/>
<path d="M574.2 34.9L580.3 47.1L568.1 47.1Z" fill="rgba(158,0,5,0.65)" stroke="rgba(158,0,5,0.65)"/>
<path d="M661.5 34.9L667.6 47.1L655.4 47.1Z" fill="rgba(158,0,5,0.65)" stroke="rgba(158,0,5,0.65)"/>
<circle cx="137.7" cy="63.7" r="6.1000000000000005" fill="rgba(17,158,158,0.65)" stroke="rgba(17,158,158,0.65)"/>
<circle cx="225.0" cy="61.3" r="6.1000000000000005" fill="rgba(17,158,158,0.65)" stroke="rgba(17,158,158,0.65)"/>
<circle cx="312.2" cy="66.3" r="6.1000000000000005" fill="rgba(17,158,158,0.65)" stroke="rgba(17,158,158,0.65)"/>
<circle cx="399.6" cy="57.0" r="6.1000000000000005" fill="rgba(17,158,158,0.65)" stroke="rgba(17,158,158,0.65)"/>
<circle cx="486.9" cy="64.2" r="6.1000000000000005" fill="rgba(17,158,158,0.65)" stroke="rgba(17,158,158,0.65)"/>
<circle cx="574.2" cy="57.0" r="6.1000000000000005" fill="rgba(17,158,158,0.65)" stroke="rgba(17,158,158,0.65)"/>
<circle cx="661.5" cy="45.5" r="6.1000000000000005" fill="rgba(17,158,158,0.65)" stroke="rgba(17,158,158,0.65)"/>
<circle cx="490.5" cy="63.1" r="2.8" fill="#42974a" fill-opacity="0.78" stroke="#2e6a34"/>
</g>
<path d="M94.5 41.5H967.5V574.5H94.5" stroke="#bdbdbd" fill="none" shape-rendering="crispEdges"/>
<rect x="94.5" y="605.5" width="873.0" height="320.0" fill="none" stroke="#bdbdbd" shape-rendering="crispEdges"/>
<path d="M94.5 605.5V925.5" stroke="#9a9a9a" fill="none" shape-rendering="crispEdges"/>
<path d="M94.5 925.5H967.5" stroke="#9a9a9a" fill="none" shape-rendering="crispEdges"/>
<text x="290.8" y="22.8" font-size="25.4" font-weight="bold" textLength="419" lengthAdjust="spacingAndGlyphs" style="stroke-width:0.25px">|Slip Rate Change| Dependence</text>
<text font-size="25.2" textLength="391.5" lengthAdjust="spacingAndGlyphs" transform="translate(26.2,503) rotate(-90)">Passthrough Rate (Rel. Min Rate)</text>
<text font-size="25.2" textLength="178.6" lengthAdjust="spacingAndGlyphs" transform="translate(33.0,854.8) rotate(-90)">Marginal Count</text>
<text x="368.6" y="978" font-size="25.2" textLength="325.5" lengthAdjust="spacingAndGlyphs">|Slip Rate Change| (mm/yr)</text>
<text x="350.3" y="1057.3" font-size="25.2" textLength="300" lengthAdjust="spacingAndGlyphs">Log10 Rate (Denomiator)</text>
<text x="94.2" y="948.2" font-size="19" text-anchor="middle" textLength="10.8" lengthAdjust="spacingAndGlyphs" style="stroke-width:0.5px">0</text>
<text x="181.5" y="948.2" font-size="19" text-anchor="middle" textLength="10.8" lengthAdjust="spacingAndGlyphs" style="stroke-width:0.5px">5</text>
<text x="268.8" y="948.2" font-size="19" text-anchor="middle" textLength="22.6" lengthAdjust="spacingAndGlyphs" style="stroke-width:0.5px">10</text>
<text x="356.1" y="948.2" font-size="19" text-anchor="middle" textLength="22.6" lengthAdjust="spacingAndGlyphs" style="stroke-width:0.5px">15</text>
<text x="443.4" y="948.2" font-size="19" text-anchor="middle" textLength="22.6" lengthAdjust="spacingAndGlyphs" style="stroke-width:0.5px">20</text>
<text x="530.7" y="948.2" font-size="19" text-anchor="middle" textLength="22.6" lengthAdjust="spacingAndGlyphs" style="stroke-width:0.5px">25</text>
<text x="618.0" y="948.2" font-size="19" text-anchor="middle" textLength="22.6" lengthAdjust="spacingAndGlyphs" style="stroke-width:0.5px">30</text>
<text x="705.3" y="948.2" font-size="19" text-anchor="middle" textLength="22.6" lengthAdjust="spacingAndGlyphs" style="stroke-width:0.5px">35</text>
<text x="792.6" y="948.2" font-size="19" text-anchor="middle" textLength="22.6" lengthAdjust="spacingAndGlyphs" style="stroke-width:0.5px">40</text>
<text x="879.9" y="948.2" font-size="19" text-anchor="middle" textLength="22.6" lengthAdjust="spacingAndGlyphs" style="stroke-width:0.5px">45</text>
<text x="967.2" y="948.2" font-size="19" text-anchor="middle" textLength="22.6" lengthAdjust="spacingAndGlyphs" style="stroke-width:0.5px">50</text>
<text x="55.3" y="48.6" font-size="21.2" textLength="26.4" lengthAdjust="spacingAndGlyphs" style="stroke-width:0.3px">10</text>
<text x="83.3" y="36.3" font-size="16.0" textLength="9.4" lengthAdjust="spacingAndGlyphs" style="stroke-width:0">0</text>
<text x="55.3" y="226.3" font-size="21.2" textLength="26.4" lengthAdjust="spacingAndGlyphs" style="stroke-width:0.3px">10</text>
<text x="78.8" y="214.0" font-size="16.0" textLength="13.0" lengthAdjust="spacingAndGlyphs" style="stroke-width:0">-1</text>
<text x="55.3" y="403.9" font-size="21.2" textLength="26.4" lengthAdjust="spacingAndGlyphs" style="stroke-width:0.3px">10</text>
<text x="78.8" y="391.6" font-size="16.0" textLength="13.0" lengthAdjust="spacingAndGlyphs" style="stroke-width:0">-2</text>
<text x="55.3" y="581.6" font-size="21.2" textLength="26.4" lengthAdjust="spacingAndGlyphs" style="stroke-width:0.3px">10</text>
<text x="78.8" y="569.3" font-size="16.0" textLength="13.0" lengthAdjust="spacingAndGlyphs" style="stroke-width:0">-3</text>
<text x="86.8" y="74.2" font-size="16.2" text-anchor="end" textLength="8.8" lengthAdjust="spacingAndGlyphs" style="stroke-width:0.1px">7</text>
<text x="86.8" y="100.2" font-size="16.2" text-anchor="end" textLength="8.8" lengthAdjust="spacingAndGlyphs" style="stroke-width:0.1px">5</text>
<text x="86.8" y="139.6" font-size="16.2" text-anchor="end" textLength="8.8" lengthAdjust="spacingAndGlyphs" style="stroke-width:0.1px">3</text>
<text x="86.8" y="170.9" font-size="16.2" text-anchor="end" textLength="8.8" lengthAdjust="spacingAndGlyphs" style="stroke-width:0.1px">2</text>
<text x="86.8" y="251.9" font-size="16.2" text-anchor="end" textLength="8.8" lengthAdjust="spacingAndGlyphs" style="stroke-width:0.1px">7</text>
<text x="86.8" y="277.8" font-size="16.2" text-anchor="end" textLength="8.8" lengthAdjust="spacingAndGlyphs" style="stroke-width:0.1px">5</text>
<text x="86.8" y="317.3" font-size="16.2" text-anchor="end" textLength="8.8" lengthAdjust="spacingAndGlyphs" style="stroke-width:0.1px">3</text>
<text x="86.8" y="348.6" font-size="16.2" text-anchor="end" textLength="8.8" lengthAdjust="spacingAndGlyphs" style="stroke-width:0.1px">2</text>
<text x="86.8" y="429.6" font-size="16.2" text-anchor="end" textLength="8.8" lengthAdjust="spacingAndGlyphs" style="stroke-width:0.1px">7</text>
<text x="86.8" y="455.5" font-size="16.2" text-anchor="end" textLength="8.8" lengthAdjust="spacingAndGlyphs" style="stroke-width:0.1px">5</text>
<text x="86.8" y="494.9" font-size="16.2" text-anchor="end" textLength="8.8" lengthAdjust="spacingAndGlyphs" style="stroke-width:0.1px">3</text>
<text x="86.8" y="526.2" font-size="16.2" text-anchor="end" textLength="8.8" lengthAdjust="spacingAndGlyphs" style="stroke-width:0.1px">2</text>
<text x="55.3" y="932.6" font-size="21.2" textLength="26.4" lengthAdjust="spacingAndGlyphs" style="stroke-width:0.3px">10</text>
<text x="83.3" y="920.3" font-size="16.0" textLength="9.4" lengthAdjust="spacingAndGlyphs" style="stroke-width:0">0</text>
<text x="55.3" y="852.6" font-size="21.2" textLength="26.4" lengthAdjust="spacingAndGlyphs" style="stroke-width:0.3px">10</text>
<text x="83.3" y="840.3" font-size="16.0" textLength="9.4" lengthAdjust="spacingAndGlyphs" style="stroke-width:0">1</text>
<text x="55.3" y="772.6" font-size="21.2" textLength="26.4" lengthAdjust="spacingAndGlyphs" style="stroke-width:0.3px">10</text>
<text x="83.3" y="760.3" font-size="16.0" textLength="9.4" lengthAdjust="spacingAndGlyphs" style="stroke-width:0">2</text>
<text x="55.3" y="692.6" font-size="21.2" textLength="26.4" lengthAdjust="spacingAndGlyphs" style="stroke-width:0.3px">10</text>
<text x="83.3" y="680.3" font-size="16.0" textLength="9.4" lengthAdjust="spacingAndGlyphs" style="stroke-width:0">3</text>
<text x="55.3" y="612.6" font-size="21.2" textLength="26.4" lengthAdjust="spacingAndGlyphs" style="stroke-width:0.3px">10</text>
<text x="83.3" y="600.3" font-size="16.0" textLength="9.4" lengthAdjust="spacingAndGlyphs" style="stroke-width:0">4</text>
<defs><linearGradient id="cb" x1="0" y1="0" x2="1" y2="0"><stop offset="0.000" stop-color="#002df5"/><stop offset="0.050" stop-color="#194bd2"/><stop offset="0.100" stop-color="#2069ac"/><stop offset="0.150" stop-color="#308084"/><stop offset="0.200" stop-color="#3e915c"/><stop offset="0.250" stop-color="#48a030"/><stop offset="0.300" stop-color="#5caa19"/><stop offset="0.350" stop-color="#80b216"/><stop offset="0.400" stop-color="#aaba19"/><stop offset="0.450" stop-color="#d4c220"/><stop offset="0.500" stop-color="#f6c626"/><stop offset="0.550" stop-color="#fab624"/><stop offset="0.600" stop-color="#faa220"/><stop offset="0.650" stop-color="#f68e1a"/><stop offset="0.700" stop-color="#f17a16"/><stop offset="0.750" stop-color="#ed6419"/><stop offset="0.800" stop-color="#eb5424"/><stop offset="0.850" stop-color="#f55c5a"/><stop offset="0.900" stop-color="#ff7094"/><stop offset="0.950" stop-color="#ff82cd"/><stop offset="1.000" stop-color="#fd92fa"/></linearGradient></defs>
<rect x="50.5" y="992.5" width="900" height="15" fill="url(#cb)" stroke="#b9b9b9" shape-rendering="crispEdges"/>
<path d="M50.5 1008V1010.5M140.5 1008V1010.5M230.5 1008V1010.5M320.5 1008V1010.5M410.5 1008V1010.5M500.5 1008V1010.5M590.5 1008V1010.5M680.5 1008V1010.5M770.5 1008V1010.5M860.5 1008V1010.5M950.5 1008V1010.5" stroke="#a0a0a0" fill="none" shape-rendering="crispEdges"/>
<text x="50.3" y="1028.6" font-size="19" text-anchor="middle" textLength="17.8" lengthAdjust="spacingAndGlyphs" style="stroke-width:0.5px">-6</text>
<text x="140.3" y="1028.6" font-size="19" text-anchor="middle" textLength="34.6" lengthAdjust="spacingAndGlyphs" style="stroke-width:0.5px">-5.5</text>
<text x="230.3" y="1028.6" font-size="19" text-anchor="middle" textLength="17.8" lengthAdjust="spacingAndGlyphs" style="stroke-width:0.5px">-5</text>
<text x="320.3" y="1028.6" font-size="19" text-anchor="middle" textLength="34.6" lengthAdjust="spacingAndGlyphs" style="stroke-width:0.5px">-4.5</text>
<text x="410.3" y="1028.6" font-size="19" text-anchor="middle" textLength="17.8" lengthAdjust="spacingAndGlyphs" style="stroke-width:0.5px">-4</text>
<text x="500.3" y="1028.6" font-size="19" text-anchor="middle" textLength="34.6" lengthAdjust="spacingAndGlyphs" style="stroke-width:0.5px">-3.5</text>
<text x="590.3" y="1028.6" font-size="19" text-anchor="middle" textLength="17.8" lengthAdjust="spacingAndGlyphs" style="stroke-width:0.5px">-3</text>
<text x="680.3" y="1028.6" font-size="19" text-anchor="middle" textLength="34.6" lengthAdjust="spacingAndGlyphs" style="stroke-width:0.5px">-2.5</text>
<text x="770.3" y="1028.6" font-size="19" text-anchor="middle" textLength="17.8" lengthAdjust="spacingAndGlyphs" style="stroke-width:0.5px">-2</text>
<text x="860.3" y="1028.6" font-size="19" text-anchor="middle" textLength="34.6" lengthAdjust="spacingAndGlyphs" style="stroke-width:0.5px">-1.5</text>
<text x="950.3" y="1028.6" font-size="19" text-anchor="middle" textLength="17.8" lengthAdjust="spacingAndGlyphs" style="stroke-width:0.5px">-1</text>
<rect x="760.5" y="613.5" width="184" height="55" fill="#fff" stroke="#000" shape-rendering="crispEdges"/>
<rect x="764.5" y="623" width="5.5" height="10.5" fill="#808080"/>
<rect x="764.5" y="649" width="5.5" height="10.5" fill="#00b000"/>
<text x="774.0" y="633.6" font-size="19" textLength="168" lengthAdjust="spacingAndGlyphs" style="stroke-width:0.5px">All Available Jumps</text>
<text x="774.6" y="660.3" font-size="19" textLength="113" lengthAdjust="spacingAndGlyphs" style="stroke-width:0.5px">Taken Jumps</text>
<circle cx="108.5" cy="1086.0" r="3.2" fill="#fd92fa"/>
<circle cx="232.8" cy="1086.0" r="3.2" fill="#808080"/>
<circle cx="347.5" cy="1086.0" r="6.2" fill="rgba(25,25,25,0.65)" stroke="rgba(25,25,25,0.65)"/>
<rect x="413.2" y="1079.7" width="12.6" height="12.6" fill="rgba(25,25,165,0.65)" stroke="rgba(25,25,165,0.65)"/>
<path d="M507.5 1079.5L513.8 1092.0L501.2 1092.0Z" fill="rgba(158,0,5,0.65)" stroke="rgba(158,0,5,0.65)"/>
<circle cx="582.7" cy="1086.0" r="6.2" fill="rgba(17,158,158,0.65)" stroke="rgba(17,158,158,0.65)"/>
<text x="119.6" y="1091.7" font-size="19" textLength="100.8" lengthAdjust="spacingAndGlyphs" style="stroke-width:0.5px">Connection</text>
<text x="244.0" y="1091.7" font-size="19" textLength="91.2" lengthAdjust="spacingAndGlyphs" style="stroke-width:0.5px">Zero-Rate</text>
<text x="358.6" y="1091.7" font-size="19" textLength="48.4" lengthAdjust="spacingAndGlyphs" style="stroke-width:0.5px">Mean</text>
<text x="430.8" y="1091.7" font-size="19" textLength="64.6" lengthAdjust="spacingAndGlyphs" style="stroke-width:0.5px">Median</text>
<text x="519.0" y="1091.7" font-size="19" textLength="50.4" lengthAdjust="spacingAndGlyphs" style="stroke-width:0.5px">P(&gt;0)</text>
<text x="594.0" y="1091.7" font-size="19" textLength="305" lengthAdjust="spacingAndGlyphs" style="stroke-width:0.5px">Detrended (Shaw07 [R<tspan font-size="11" dy="1">0</tspan><tspan dy="-1">=3]) Mean</tspan></text>
</svg></body></html>
